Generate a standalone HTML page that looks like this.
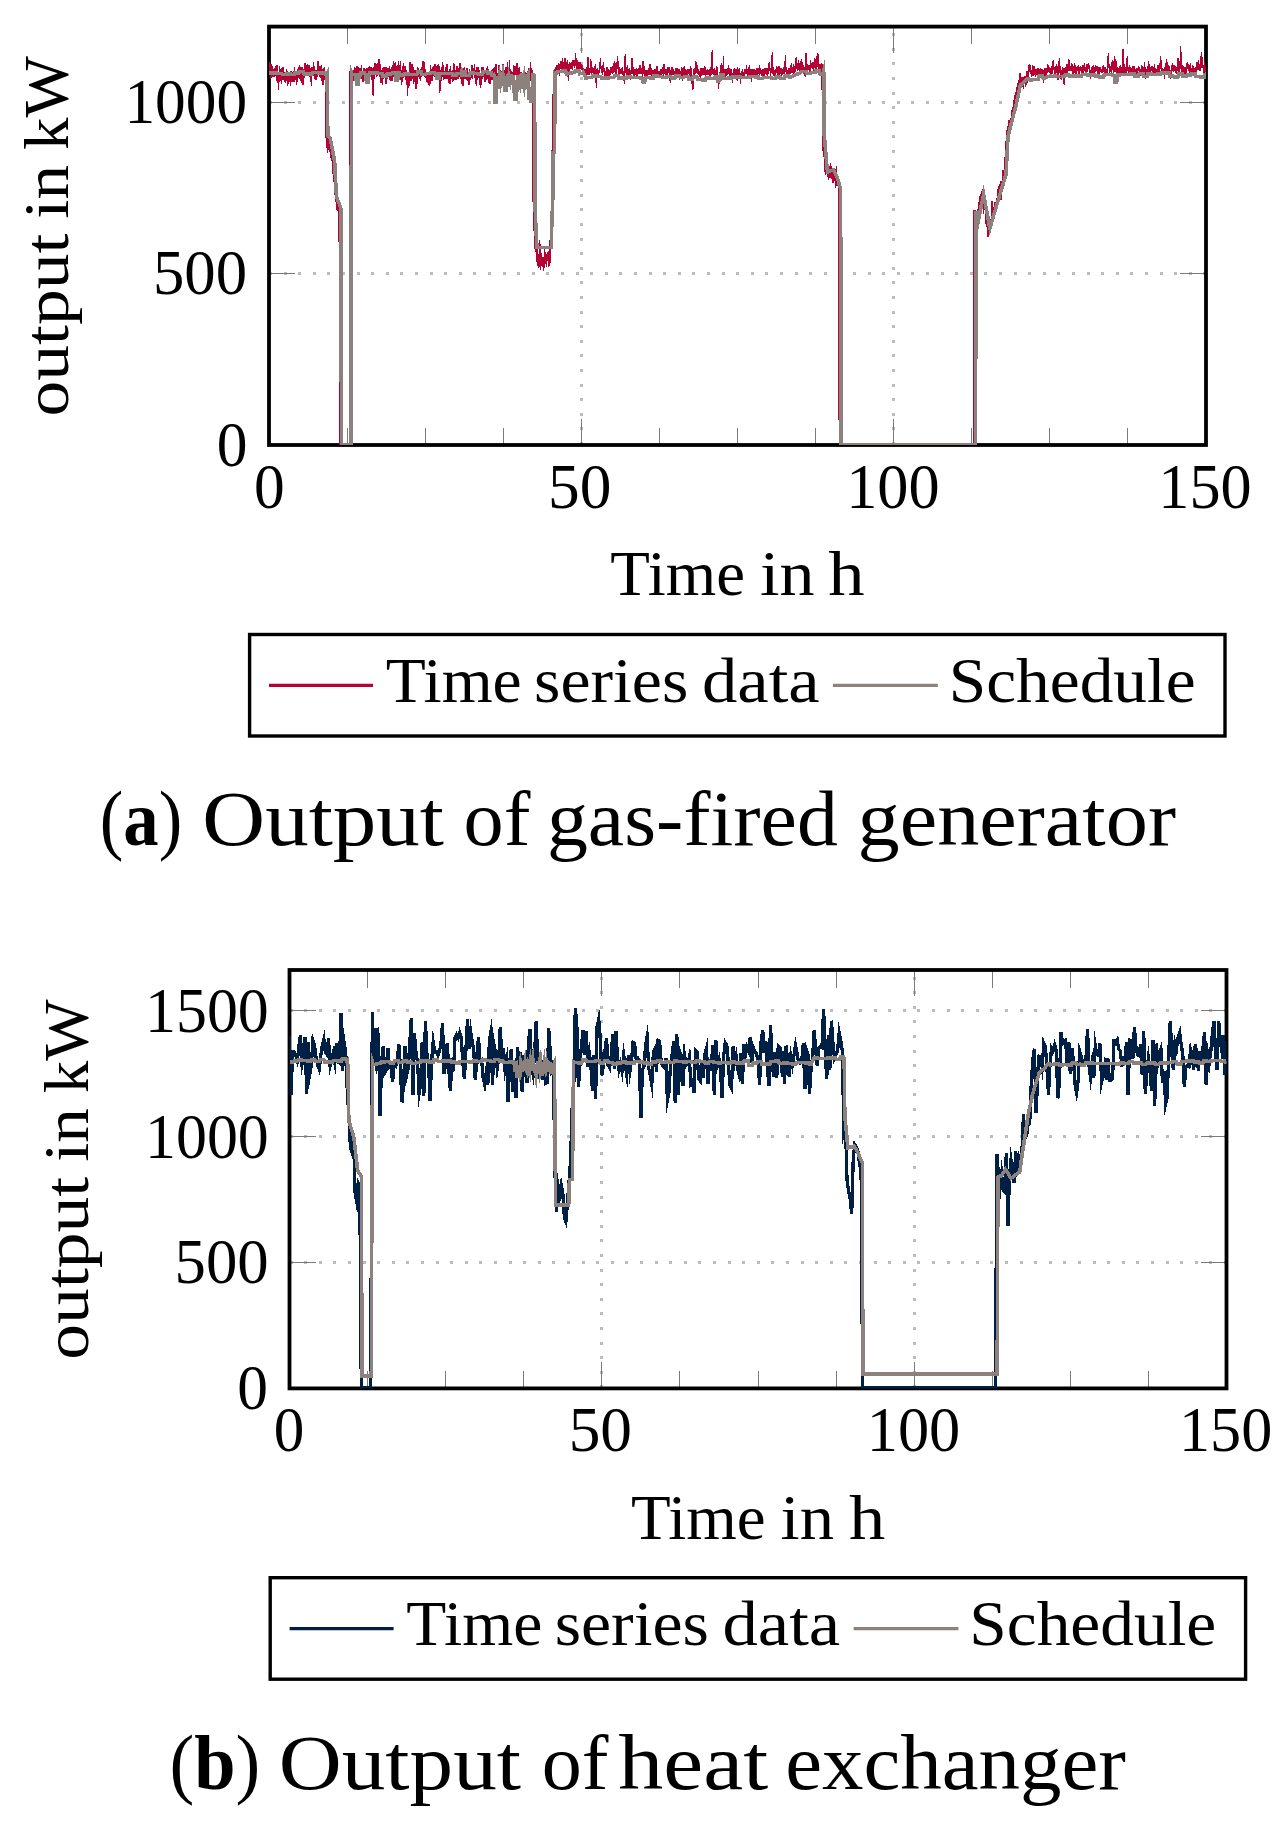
<!DOCTYPE html>
<html><head><meta charset="utf-8"><title>Output charts</title>
<style>html,body{margin:0;padding:0;background:#fff;}body{width:1288px;height:1833px;overflow:hidden;}</style>
</head><body>
<svg width="1288" height="1833" viewBox="0 0 1288 1833" style="display:block">
<rect width="1288" height="1833" fill="#fff"/>
<g stroke="#bcbcbc" stroke-width="3.2" shape-rendering="crispEdges"><line x1="269.0" y1="273.60" x2="1206.0" y2="273.60" stroke-dasharray="3 11.6"/><line x1="269.0" y1="102.10" x2="1206.0" y2="102.10" stroke-dasharray="3 11.6"/><line x1="581.33" y1="445.0" x2="581.33" y2="26.6" stroke-dasharray="3 11.6"/><line x1="893.67" y1="445.0" x2="893.67" y2="26.6" stroke-dasharray="3 11.6"/></g>
<path d="M269.50 445.0v-26.0M269.50 26.6v26.0M347.50 445.0v-17.5M347.50 26.6v17.5M425.50 445.0v-17.5M425.50 26.6v17.5M503.50 445.0v-17.5M503.50 26.6v17.5M581.50 445.0v-26.0M581.50 26.6v26.0M659.50 445.0v-17.5M659.50 26.6v17.5M737.50 445.0v-17.5M737.50 26.6v17.5M815.50 445.0v-17.5M815.50 26.6v17.5M893.50 445.0v-26.0M893.50 26.6v26.0M971.50 445.0v-17.5M971.50 26.6v17.5M1049.50 445.0v-17.5M1049.50 26.6v17.5M1127.50 445.0v-17.5M1127.50 26.6v17.5M1206.50 445.0v-26.0M1206.50 26.6v26.0M269.0 445.50h26.0M1206.0 445.50h-26.0M269.0 273.50h26.0M1206.0 273.50h-26.0M269.0 102.50h26.0M1206.0 102.50h-26.0" stroke="#7a7a7a" stroke-width="1" fill="none" shape-rendering="crispEdges"/>
<rect x="269.0" y="26.6" width="937.0" height="418.4" fill="none" stroke="#000" stroke-width="3.8"/>
<clipPath id="c1"><rect x="269.0" y="26.6" width="937.0" height="418.4"/></clipPath>
<g clip-path="url(#c1)" fill="none" stroke-linejoin="miter" stroke-miterlimit="10" shape-rendering="crispEdges">
<path d="M269.0 68.5 269.1 70.5 269.2 68.8 269.3 62.0 269.4 68.4 269.5 73.2 269.6 70.3 269.7 71.6 269.8 75.4 269.9 71.2 270.0 70.5 270.1 70.9 270.2 71.9 270.4 67.6 270.5 75.7 270.6 68.0 270.7 71.0 270.8 70.2 270.9 77.9 271.0 64.1 271.1 75.8 271.2 73.6 271.3 69.2 271.4 72.1 271.5 71.2 271.6 77.5 271.7 72.0 271.8 70.9 271.9 69.5 272.0 72.1 272.1 70.8 272.2 70.4 272.3 74.4 272.4 74.6 272.5 66.9 272.6 76.5 272.7 70.2 272.9 73.3 273.0 69.2 273.1 75.7 273.2 70.5 273.3 71.4 273.4 73.9 273.5 71.9 273.6 75.5 273.7 74.1 273.8 74.7 273.9 69.1 274.0 72.2 274.1 76.9 274.2 74.4 274.3 73.2 274.4 76.9 274.5 70.3 274.6 72.2 274.7 71.5 274.8 75.9 274.9 73.4 275.0 68.5 275.1 76.3 275.2 68.7 275.4 70.0 275.5 72.6 275.6 71.9 275.7 75.9 275.8 70.3 275.9 74.0 276.0 74.8 276.1 66.2 276.2 73.3 276.3 77.4 276.4 66.8 276.5 72.1 276.6 80.7 276.7 69.7 276.8 66.9 276.9 69.1 277.0 65.1 277.1 71.3 277.2 67.8 277.3 73.3 277.4 69.9 277.5 66.9 277.6 70.1 277.7 73.0 277.8 82.9 278.0 78.3 278.1 82.3 278.2 77.1 278.3 85.2 278.4 83.3 278.5 89.9 278.6 81.1 278.7 87.8 278.8 81.6 278.9 72.3 279.0 79.8 279.1 81.9 279.2 75.3 279.3 73.4 279.4 72.0 279.5 82.4 279.6 73.9 279.7 80.8 279.8 66.3 279.9 72.9 280.0 74.2 280.1 70.5 280.2 71.5 280.3 77.4 280.5 69.0 280.6 76.4 280.7 80.7 280.8 70.1 280.9 69.3 281.0 69.3 281.1 73.2 281.2 78.6 281.3 72.1 281.4 68.5 281.5 83.8 281.6 68.5 281.7 76.4 281.8 71.3 281.9 72.2 282.0 79.6 282.1 79.6 282.2 78.0 282.3 74.0 282.4 72.2 282.5 73.3 282.6 73.1 282.7 73.5 282.8 73.8 283.0 69.9 283.1 70.4 283.2 71.0 283.3 70.6 283.4 73.0 283.5 70.3 283.6 75.0 283.7 66.9 283.8 73.6 283.9 71.7 284.0 74.9 284.1 74.4 284.2 73.1 284.3 74.0 284.4 76.1 284.5 78.3 284.6 74.9 284.7 74.6 284.8 74.0 284.9 72.5 285.0 77.6 285.1 82.4 285.2 77.2 285.3 82.8 285.4 81.2 285.6 73.9 285.7 74.5 285.8 78.8 285.9 77.3 286.0 75.9 286.1 81.1 286.2 73.5 286.3 76.9 286.4 68.7 286.5 78.6 286.6 70.9 286.7 76.6 286.8 71.7 286.9 78.4 287.0 72.4 287.1 75.5 287.2 77.5 287.3 75.1 287.4 74.3 287.5 73.8 287.6 70.6 287.7 74.5 287.8 86.1 287.9 77.3 288.1 83.8 288.2 79.0 288.3 75.9 288.4 83.2 288.5 82.0 288.6 77.8 288.7 79.6 288.8 72.3 288.9 77.0 289.0 75.6 289.1 71.9 289.2 80.3 289.3 79.8 289.4 81.2 289.5 76.9 289.6 73.7 289.7 72.3 289.8 76.7 289.9 78.8 290.0 77.1 290.1 80.0 290.2 76.0 290.3 72.4 290.4 86.1 290.6 84.4 290.7 71.2 290.8 82.2 290.9 76.5 291.0 81.9 291.1 73.4 291.2 75.6 291.3 76.9 291.4 75.3 291.5 76.7 291.6 75.6 291.7 71.3 291.8 74.7 291.9 81.2 292.0 80.2 292.1 77.2 292.2 77.3 292.3 76.8 292.4 80.5 292.5 76.1 292.6 77.9 292.7 76.6 292.8 77.5 292.9 76.1 293.0 82.0 293.2 72.2 293.3 75.1 293.4 72.9 293.5 72.4 293.6 71.3 293.7 72.4 293.8 74.5 293.9 76.4 294.0 81.3 294.1 75.6 294.2 76.7 294.3 76.6 294.4 66.9 294.5 81.5 294.6 75.5 294.7 72.1 294.8 73.0 294.9 72.3 295.0 80.4 295.1 79.2 295.2 74.7 295.3 77.5 295.4 71.6 295.5 76.9 295.7 76.9 295.8 77.6 295.9 79.5 296.0 77.7 296.1 80.2 296.2 78.1 296.3 79.6 296.4 77.5 296.5 83.2 296.6 83.5 296.7 76.4 296.8 77.9 296.9 81.4 297.0 78.4 297.1 81.1 297.2 70.5 297.3 82.1 297.4 72.1 297.5 80.0 297.6 75.3 297.7 77.1 297.8 77.0 297.9 72.9 298.0 73.3 298.2 76.3 298.3 77.9 298.4 67.4 298.5 70.9 298.6 74.6 298.7 74.9 298.8 72.0 298.9 72.5 299.0 70.0 299.1 76.5 299.2 73.3 299.3 78.1 299.4 70.5 299.5 69.9 299.6 77.3 299.7 75.4 299.8 71.1 299.9 77.1 300.0 78.8 300.1 70.4 300.2 70.8 300.3 73.3 300.4 67.8 300.5 73.1 300.6 80.5 300.8 72.8 300.9 73.8 301.0 67.0 301.1 72.6 301.2 73.9 301.3 71.8 301.4 71.8 301.5 77.0 301.6 71.8 301.7 74.0 301.8 69.3 301.9 66.6 302.0 80.5 302.1 82.3 302.2 82.2 302.3 82.5 302.4 81.5 302.5 79.5 302.6 75.2 302.7 82.9 302.8 83.5 302.9 85.3 303.0 74.3 303.1 71.6 303.3 80.9 303.4 81.6 303.5 75.3 303.6 71.2 303.7 73.7 303.8 76.3 303.9 73.9 304.0 74.3 304.1 75.8 304.2 66.3 304.3 72.6 304.4 76.1 304.5 73.3 304.6 77.5 304.7 72.2 304.8 67.8 304.9 74.3 305.0 66.4 305.1 63.3 305.2 69.2 305.3 73.5 305.4 72.7 305.5 69.9 305.6 74.2 305.8 74.4 305.9 71.4 306.0 70.6 306.1 67.2 306.2 74.9 306.3 65.3 306.4 67.8 306.5 69.1 306.6 75.7 306.7 66.6 306.8 73.3 306.9 65.6 307.0 68.6 307.1 74.5 307.2 73.3 307.3 64.4 307.4 68.3 307.5 73.1 307.6 71.7 307.7 72.3 307.8 75.1 307.9 72.9 308.0 75.3 308.1 74.5 308.2 71.7 308.4 75.8 308.5 70.6 308.6 73.0 308.7 69.7 308.8 67.4 308.9 64.7 309.0 67.0 309.1 66.8 309.2 68.7 309.3 66.6 309.4 72.7 309.5 70.6 309.6 67.0 309.7 70.7 309.8 70.5 309.9 76.9 310.0 68.0 310.1 75.3 310.2 72.1 310.3 73.3 310.4 70.1 310.5 75.5 310.6 77.8 310.7 82.3 310.9 77.7 311.0 82.2 311.1 75.8 311.2 73.3 311.3 85.9 311.4 82.3 311.5 76.3 311.6 71.8 311.7 75.7 311.8 75.8 311.9 74.7 312.0 71.5 312.1 67.0 312.2 70.6 312.3 76.4 312.4 72.1 312.5 70.1 312.6 74.0 312.7 71.2 312.8 71.9 312.9 72.1 313.0 67.9 313.1 70.2 313.2 71.4 313.4 70.0 313.5 67.1 313.6 62.1 313.7 68.1 313.8 64.3 313.9 67.6 314.0 76.4 314.1 68.2 314.2 74.1 314.3 75.6 314.4 75.4 314.5 65.9 314.6 78.1 314.7 75.1 314.8 70.9 314.9 71.4 315.0 79.3 315.1 72.8 315.2 72.6 315.3 71.6 315.4 70.0 315.5 75.3 315.6 75.5 315.7 69.6 315.9 80.4 316.0 76.5 316.1 72.6 316.2 79.2 316.3 76.1 316.4 77.8 316.5 72.4 316.6 74.4 316.7 70.3 316.8 70.2 316.9 75.3 317.0 76.9 317.1 73.3 317.2 72.6 317.3 76.3 317.4 68.3 317.5 71.3 317.6 67.6 317.7 74.6 317.8 66.5 317.9 61.5 318.0 65.5 318.1 71.9 318.2 65.8 318.3 67.0 318.5 66.3 318.6 65.8 318.7 63.4 318.8 68.1 318.9 66.4 319.0 70.2 319.1 69.6 319.2 67.3 319.3 72.3 319.4 68.7 319.5 74.6 319.6 71.6 319.7 71.9 319.8 66.8 319.9 74.3 320.0 66.3 320.1 77.4 320.2 73.5 320.3 70.2 320.4 70.4 320.5 75.8 320.6 75.4 320.7 69.5 320.8 76.3 321.0 70.3 321.1 74.7 321.2 72.5 321.3 65.2 321.4 69.6 321.5 72.2 321.6 81.0 321.7 75.5 321.8 75.9 321.9 75.9 322.0 69.4 322.1 80.1 322.2 74.3 322.3 75.4 322.4 79.1 322.5 71.3 322.6 81.0 322.7 76.8 322.8 78.1 322.9 85.0 323.0 82.2 323.1 80.0 323.2 73.6 323.3 72.3 323.5 73.3 323.6 73.3 323.7 81.3 323.8 72.6 323.9 74.7 324.0 70.1 324.1 69.6 324.2 66.6 324.3 71.6 324.4 72.3 324.5 77.2 324.6 73.2 324.7 78.8 324.8 72.7 324.9 80.0 325.0 76.5 325.1 79.1 325.2 77.5 325.3 74.7 325.4 84.6 325.5 91.0 325.6 103.9 325.7 103.3 325.8 116.9 325.9 120.7 326.1 126.0 326.2 146.1 326.3 140.4 326.4 138.6 326.5 134.2 326.6 139.9 326.7 137.7 326.8 142.3 326.9 138.1 327.0 145.9 327.1 139.7 327.2 153.1 327.3 148.9 327.4 135.8 327.5 142.8 327.6 146.6 327.7 134.8 327.8 138.1 327.9 137.6 328.0 143.6 328.1 139.2 328.2 139.9 328.3 148.3 328.4 140.9 328.6 142.5 328.7 137.5 328.8 136.8 328.9 144.4 329.0 143.9 329.1 142.0 329.2 141.0 329.3 143.0 329.4 141.9 329.5 140.4 329.6 141.8 329.7 139.5 329.8 142.3 329.9 147.3 330.0 152.4 330.1 144.2 330.2 148.7 330.3 149.2 330.4 148.4 330.5 153.2 330.6 149.0 330.7 158.3 330.8 150.4 330.9 151.0 331.1 141.5 331.2 146.9 331.3 149.9 331.4 147.8 331.5 147.5 331.6 153.5 331.7 152.1 331.8 152.6 331.9 143.8 332.0 152.8 332.1 160.9 332.2 151.9 332.3 146.4 332.4 160.5 332.5 145.6 332.6 157.9 332.7 155.7 332.8 162.0 332.9 162.1 333.0 168.5 333.1 169.7 333.2 176.4 333.3 165.8 333.4 174.0 333.5 169.0 333.7 171.6 333.8 176.6 333.9 176.3 334.0 178.9 334.1 181.2 334.2 182.7 334.3 184.0 334.4 190.1 334.5 192.1 334.6 192.6 334.7 192.0 334.8 188.2 334.9 187.8 335.0 192.4 335.1 190.2 335.2 194.1 335.3 192.9 335.4 179.1 335.5 194.9 335.6 197.6 335.7 196.9 335.8 189.8 335.9 201.6 336.0 198.4 336.2 201.0 336.3 194.9 336.4 193.4 336.5 200.3 336.6 210.0 336.7 199.3 336.8 198.5 336.9 207.1 337.0 203.4 337.1 203.4 337.2 210.8 337.3 199.5 337.4 201.1 337.5 201.8 337.6 206.2 337.7 205.9 337.8 205.6 337.9 206.5 338.0 208.1 338.1 200.1 338.2 204.2 338.3 213.6 338.4 200.6 338.5 206.7 338.7 208.5 338.8 206.3 338.9 212.7 339.0 204.9 339.1 214.3 339.2 260.0 339.3 318.3 339.4 383.9 339.5 445.0 339.6 445.0 339.7 445.0 339.8 445.0 339.9 445.0 340.0 445.0 340.1 445.0 340.2 445.0 340.3 445.0 340.4 445.0 340.5 445.0 340.6 445.0 340.7 445.0 340.8 445.0 340.9 445.0 341.0 445.0 341.1 445.0 341.3 445.0 341.4 445.0 341.5 445.0 341.6 445.0 341.7 445.0 341.8 445.0 341.9 445.0 342.0 445.0 342.1 445.0 342.2 445.0 342.3 445.0 342.4 445.0 342.5 445.0 342.6 445.0 342.7 445.0 342.8 445.0 342.9 445.0 343.0 445.0 343.1 445.0 343.2 445.0 343.3 445.0 343.4 445.0 343.5 445.0 343.6 445.0 343.8 445.0 343.9 445.0 344.0 445.0 344.1 445.0 344.2 445.0 344.3 445.0 344.4 445.0 344.5 445.0 344.6 445.0 344.7 445.0 344.8 445.0 344.9 445.0 345.0 445.0 345.1 445.0 345.2 445.0 345.3 445.0 345.4 445.0 345.5 445.0 345.6 445.0 345.7 445.0 345.8 445.0 345.9 445.0 346.0 445.0 346.1 445.0 346.3 445.0 346.4 445.0 346.5 445.0 346.6 445.0 346.7 445.0 346.8 445.0 346.9 445.0 347.0 445.0 347.1 445.0 347.2 445.0 347.3 445.0 347.4 445.0 347.5 445.0 347.6 445.0 347.7 445.0 347.8 445.0 347.9 445.0 348.0 445.0 348.1 445.0 348.2 445.0 348.3 445.0 348.4 445.0 348.5 445.0 348.6 445.0 348.7 445.0 348.9 445.0 349.0 445.0 349.1 445.0 349.2 445.0 349.3 384.0 349.4 279.6 349.5 175.7 349.6 71.5 349.7 73.0 349.8 75.2 349.9 71.2 350.0 73.5 350.1 73.8 350.2 69.5 350.3 71.9 350.4 79.3 350.5 79.0 350.6 77.2 350.7 79.3 350.8 82.8 350.9 71.3 351.0 70.3 351.1 73.2 351.2 74.7 351.4 71.5 351.5 70.6 351.6 77.4 351.7 74.9 351.8 77.0 351.9 71.2 352.0 74.7 352.1 81.0 352.2 78.6 352.3 70.1 352.4 79.4 352.5 75.0 352.6 77.8 352.7 70.0 352.8 76.4 352.9 77.5 353.0 80.5 353.1 76.9 353.2 72.6 353.3 73.8 353.4 81.2 353.5 70.1 353.6 76.0 353.7 79.3 353.9 73.2 354.0 73.9 354.1 75.0 354.2 74.9 354.3 77.0 354.4 71.8 354.5 76.1 354.6 68.6 354.7 72.9 354.8 67.1 354.9 70.0 355.0 69.1 355.1 71.1 355.2 67.6 355.3 74.4 355.4 76.8 355.5 72.8 355.6 83.7 355.7 74.4 355.8 72.0 355.9 73.9 356.0 67.7 356.1 69.6 356.2 71.9 356.3 74.0 356.5 68.1 356.6 75.3 356.7 73.3 356.8 69.2 356.9 70.4 357.0 65.8 357.1 74.3 357.2 80.0 357.3 71.6 357.4 68.4 357.5 74.1 357.6 69.9 357.7 69.6 357.8 79.8 357.9 78.9 358.0 80.4 358.1 73.3 358.2 73.7 358.3 74.5 358.4 66.6 358.5 77.2 358.6 79.5 358.7 79.1 358.8 76.1 359.0 75.9 359.1 71.0 359.2 68.7 359.3 67.7 359.4 70.7 359.5 74.0 359.6 71.7 359.7 70.5 359.8 73.7 359.9 72.4 360.0 71.7 360.1 73.3 360.2 71.6 360.3 75.8 360.4 67.9 360.5 76.3 360.6 69.7 360.7 77.0 360.8 68.2 360.9 71.3 361.0 76.7 361.1 75.3 361.2 78.5 361.3 74.9 361.5 73.1 361.6 65.0 361.7 79.3 361.8 70.2 361.9 78.1 362.0 75.8 362.1 72.1 362.2 75.0 362.3 75.4 362.4 77.2 362.5 76.6 362.6 76.5 362.7 72.6 362.8 81.8 362.9 78.1 363.0 82.2 363.1 81.0 363.2 80.8 363.3 74.3 363.4 70.1 363.5 72.0 363.6 80.0 363.7 75.8 363.8 79.0 363.9 72.3 364.1 68.4 364.2 69.6 364.3 68.8 364.4 72.6 364.5 78.4 364.6 79.7 364.7 72.9 364.8 71.0 364.9 68.9 365.0 76.0 365.1 75.2 365.2 74.4 365.3 70.7 365.4 73.7 365.5 77.4 365.6 69.8 365.7 72.8 365.8 72.5 365.9 78.5 366.0 73.5 366.1 78.0 366.2 79.1 366.3 74.2 366.4 75.6 366.6 73.2 366.7 71.0 366.8 74.9 366.9 68.2 367.0 77.7 367.1 72.3 367.2 78.2 367.3 73.6 367.4 75.6 367.5 75.4 367.6 72.3 367.7 80.4 367.8 72.3 367.9 74.5 368.0 70.3 368.1 68.3 368.2 70.7 368.3 72.2 368.4 75.2 368.5 69.1 368.6 73.8 368.7 69.2 368.8 76.3 368.9 67.3 369.1 74.6 369.2 66.5 369.3 72.1 369.4 68.0 369.5 69.7 369.6 66.7 369.7 71.5 369.8 67.7 369.9 70.2 370.0 71.0 370.1 67.4 370.2 74.7 370.3 68.1 370.4 73.4 370.5 77.1 370.6 70.7 370.7 74.2 370.8 67.3 370.9 74.6 371.0 73.3 371.1 71.9 371.2 79.9 371.3 72.2 371.4 77.2 371.5 68.1 371.7 67.7 371.8 73.3 371.9 78.9 372.0 70.3 372.1 71.0 372.2 68.0 372.3 71.8 372.4 75.2 372.5 71.0 372.6 75.9 372.7 68.2 372.8 79.6 372.9 82.9 373.0 84.1 373.1 90.7 373.2 90.3 373.3 90.9 373.4 89.4 373.5 85.2 373.6 76.3 373.7 76.7 373.8 81.8 373.9 77.2 374.0 71.8 374.2 72.7 374.3 71.1 374.4 70.5 374.5 68.2 374.6 69.4 374.7 68.7 374.8 71.7 374.9 67.8 375.0 72.5 375.1 63.3 375.2 70.1 375.3 71.1 375.4 66.3 375.5 71.1 375.6 70.4 375.7 71.8 375.8 74.1 375.9 74.2 376.0 73.6 376.1 66.6 376.2 74.3 376.3 72.7 376.4 73.4 376.5 69.0 376.7 64.4 376.8 76.9 376.9 72.3 377.0 73.6 377.1 73.7 377.2 70.6 377.3 76.3 377.4 69.8 377.5 70.4 377.6 72.8 377.7 63.5 377.8 66.1 377.9 66.1 378.0 74.3 378.1 68.2 378.2 69.1 378.3 64.6 378.4 60.8 378.5 72.3 378.6 63.6 378.7 64.3 378.8 59.7 378.9 61.9 379.0 64.2 379.1 58.9 379.3 63.1 379.4 64.5 379.5 64.3 379.6 67.6 379.7 66.7 379.8 75.2 379.9 63.9 380.0 69.0 380.1 71.9 380.2 79.6 380.3 83.3 380.4 77.9 380.5 75.4 380.6 65.2 380.7 69.9 380.8 77.1 380.9 70.4 381.0 70.7 381.1 75.4 381.2 70.0 381.3 73.3 381.4 77.6 381.5 80.4 381.6 76.2 381.8 71.9 381.9 81.1 382.0 82.7 382.1 74.4 382.2 85.1 382.3 69.6 382.4 76.8 382.5 72.1 382.6 69.5 382.7 81.2 382.8 79.3 382.9 68.1 383.0 78.5 383.1 77.9 383.2 75.8 383.3 71.3 383.4 72.1 383.5 73.9 383.6 76.4 383.7 74.4 383.8 72.0 383.9 67.7 384.0 71.7 384.1 66.9 384.3 75.7 384.4 71.5 384.5 69.3 384.6 68.4 384.7 71.2 384.8 73.9 384.9 74.3 385.0 71.1 385.1 68.3 385.2 69.2 385.3 73.8 385.4 72.6 385.5 69.2 385.6 70.7 385.7 80.7 385.8 77.6 385.9 83.6 386.0 80.5 386.1 66.7 386.2 77.8 386.3 77.5 386.4 77.8 386.5 78.4 386.6 80.9 386.7 74.2 386.9 73.7 387.0 68.0 387.1 78.6 387.2 72.5 387.3 69.1 387.4 79.3 387.5 75.5 387.6 78.5 387.7 71.8 387.8 69.4 387.9 75.6 388.0 73.2 388.1 74.5 388.2 70.7 388.3 68.5 388.4 72.5 388.5 72.8 388.6 70.3 388.7 68.6 388.8 77.1 388.9 70.8 389.0 74.0 389.1 70.3 389.2 69.9 389.4 72.8 389.5 70.5 389.6 78.5 389.7 77.2 389.8 79.0 389.9 74.8 390.0 75.7 390.1 77.3 390.2 81.4 390.3 76.5 390.4 76.1 390.5 71.7 390.6 75.0 390.7 68.7 390.8 73.2 390.9 79.2 391.0 73.9 391.1 80.7 391.2 69.8 391.3 66.9 391.4 72.9 391.5 71.2 391.6 78.0 391.7 80.8 391.9 76.1 392.0 75.6 392.1 79.5 392.2 73.6 392.3 71.7 392.4 70.5 392.5 65.4 392.6 68.7 392.7 80.6 392.8 72.8 392.9 72.2 393.0 76.7 393.1 69.2 393.2 70.2 393.3 74.2 393.4 76.5 393.5 61.2 393.6 71.9 393.7 71.9 393.8 68.1 393.9 70.3 394.0 73.5 394.1 72.4 394.2 77.8 394.3 72.0 394.5 79.0 394.6 69.4 394.7 67.9 394.8 75.2 394.9 62.8 395.0 74.1 395.1 66.8 395.2 72.8 395.3 69.7 395.4 73.8 395.5 62.5 395.6 68.3 395.7 66.1 395.8 71.1 395.9 70.3 396.0 72.1 396.1 72.4 396.2 68.8 396.3 69.3 396.4 70.8 396.5 74.7 396.6 68.8 396.7 67.0 396.8 70.0 397.0 66.0 397.1 67.8 397.2 70.6 397.3 69.5 397.4 69.9 397.5 68.4 397.6 69.4 397.7 65.4 397.8 73.9 397.9 77.6 398.0 68.1 398.1 71.9 398.2 72.1 398.3 61.1 398.4 64.6 398.5 67.8 398.6 67.6 398.7 71.3 398.8 68.6 398.9 74.5 399.0 77.0 399.1 76.1 399.2 66.1 399.3 67.6 399.5 74.0 399.6 67.2 399.7 71.7 399.8 65.4 399.9 70.6 400.0 65.1 400.1 67.3 400.2 67.8 400.3 66.9 400.4 65.9 400.5 68.5 400.6 70.6 400.7 61.4 400.8 68.7 400.9 75.5 401.0 77.2 401.1 79.8 401.2 75.0 401.3 69.8 401.4 82.5 401.5 79.4 401.6 84.5 401.7 76.3 401.8 81.0 401.9 81.0 402.1 78.5 402.2 74.8 402.3 75.6 402.4 80.9 402.5 82.4 402.6 79.1 402.7 79.6 402.8 66.0 402.9 71.9 403.0 71.0 403.1 71.4 403.2 63.3 403.3 72.6 403.4 67.6 403.5 71.2 403.6 72.2 403.7 78.0 403.8 68.2 403.9 74.8 404.0 73.8 404.1 72.9 404.2 74.5 404.3 70.0 404.4 76.7 404.6 73.4 404.7 71.9 404.8 72.2 404.9 69.9 405.0 71.4 405.1 65.8 405.2 73.1 405.3 79.6 405.4 70.1 405.5 66.7 405.6 72.8 405.7 73.5 405.8 74.3 405.9 72.7 406.0 74.1 406.1 72.8 406.2 81.3 406.3 70.1 406.4 73.2 406.5 78.1 406.6 71.1 406.7 73.6 406.8 73.2 406.9 84.7 407.1 75.6 407.2 84.0 407.3 94.0 407.4 85.2 407.5 91.4 407.6 96.3 407.7 91.0 407.8 93.8 407.9 84.6 408.0 86.5 408.1 85.9 408.2 79.1 408.3 83.0 408.4 84.4 408.5 85.6 408.6 83.6 408.7 80.0 408.8 84.4 408.9 85.6 409.0 77.6 409.1 76.9 409.2 74.7 409.3 65.7 409.4 75.2 409.6 68.8 409.7 74.0 409.8 66.6 409.9 62.8 410.0 62.2 410.1 70.9 410.2 65.1 410.3 66.3 410.4 71.7 410.5 64.4 410.6 74.7 410.7 77.1 410.8 72.8 410.9 81.2 411.0 69.5 411.1 71.6 411.2 75.8 411.3 72.0 411.4 70.4 411.5 64.5 411.6 71.5 411.7 72.9 411.8 74.3 411.9 68.7 412.0 72.5 412.2 66.8 412.3 64.2 412.4 69.9 412.5 71.7 412.6 65.3 412.7 71.4 412.8 70.9 412.9 69.4 413.0 77.8 413.1 78.3 413.2 66.9 413.3 75.9 413.4 78.7 413.5 76.2 413.6 77.6 413.7 80.5 413.8 77.5 413.9 74.9 414.0 75.7 414.1 72.3 414.2 79.5 414.3 79.0 414.4 70.3 414.5 75.9 414.7 71.4 414.8 75.6 414.9 81.7 415.0 74.9 415.1 80.6 415.2 75.8 415.3 73.9 415.4 70.1 415.5 78.7 415.6 76.2 415.7 77.6 415.8 76.5 415.9 89.1 416.0 81.8 416.1 79.0 416.2 77.4 416.3 80.9 416.4 75.8 416.5 75.2 416.6 79.2 416.7 79.5 416.8 81.3 416.9 78.1 417.0 74.5 417.2 73.6 417.3 79.9 417.4 80.4 417.5 79.3 417.6 72.0 417.7 74.4 417.8 72.9 417.9 71.2 418.0 71.7 418.1 72.2 418.2 75.4 418.3 73.9 418.4 72.2 418.5 71.5 418.6 73.6 418.7 74.9 418.8 68.1 418.9 74.3 419.0 71.6 419.1 75.5 419.2 77.4 419.3 79.1 419.4 76.2 419.5 77.1 419.6 73.2 419.8 79.4 419.9 77.3 420.0 72.6 420.1 76.8 420.2 73.8 420.3 72.7 420.4 80.6 420.5 76.9 420.6 79.2 420.7 69.0 420.8 74.9 420.9 73.2 421.0 69.1 421.1 77.1 421.2 74.4 421.3 71.7 421.4 74.6 421.5 70.7 421.6 71.2 421.7 69.5 421.8 72.2 421.9 71.7 422.0 71.6 422.1 70.9 422.3 75.6 422.4 68.8 422.5 65.3 422.6 67.8 422.7 66.5 422.8 65.6 422.9 66.5 423.0 66.4 423.1 60.8 423.2 70.8 423.3 68.7 423.4 68.3 423.5 70.3 423.6 70.9 423.7 73.4 423.8 70.1 423.9 64.5 424.0 61.9 424.1 68.6 424.2 64.3 424.3 62.8 424.4 62.1 424.5 64.8 424.6 64.7 424.8 65.6 424.9 73.5 425.0 69.6 425.1 76.7 425.2 77.7 425.3 74.3 425.4 77.7 425.5 69.9 425.6 69.2 425.7 75.6 425.8 74.1 425.9 75.0 426.0 75.3 426.1 75.0 426.2 75.3 426.3 78.9 426.4 80.0 426.5 78.5 426.6 75.7 426.7 78.9 426.8 73.2 426.9 79.6 427.0 73.1 427.1 81.8 427.2 81.1 427.4 76.1 427.5 77.5 427.6 80.3 427.7 73.2 427.8 79.6 427.9 80.1 428.0 83.1 428.1 76.9 428.2 77.7 428.3 78.8 428.4 85.2 428.5 75.6 428.6 78.8 428.7 76.3 428.8 73.2 428.9 79.3 429.0 78.4 429.1 77.1 429.2 82.3 429.3 84.6 429.4 84.7 429.5 82.5 429.6 83.8 429.7 74.4 429.9 76.0 430.0 80.0 430.1 73.1 430.2 77.1 430.3 83.6 430.4 67.7 430.5 67.3 430.6 75.3 430.7 73.0 430.8 68.5 430.9 71.3 431.0 74.0 431.1 74.6 431.2 75.2 431.3 76.4 431.4 75.1 431.5 77.0 431.6 78.4 431.7 74.7 431.8 79.0 431.9 68.6 432.0 80.5 432.1 73.8 432.2 72.1 432.4 70.9 432.5 71.5 432.6 67.1 432.7 74.7 432.8 70.6 432.9 69.7 433.0 71.7 433.1 72.1 433.2 65.6 433.3 71.9 433.4 71.8 433.5 69.8 433.6 70.0 433.7 68.1 433.8 69.8 433.9 68.3 434.0 67.6 434.1 67.0 434.2 65.4 434.3 73.8 434.4 65.7 434.5 71.2 434.6 67.4 434.7 68.6 434.8 71.3 435.0 76.9 435.1 64.3 435.2 71.1 435.3 72.1 435.4 65.5 435.5 68.9 435.6 63.8 435.7 64.8 435.8 68.5 435.9 72.2 436.0 70.0 436.1 76.7 436.2 72.0 436.3 73.3 436.4 74.1 436.5 71.5 436.6 76.6 436.7 67.4 436.8 66.7 436.9 75.0 437.0 70.5 437.1 65.9 437.2 70.0 437.3 75.0 437.5 74.1 437.6 67.9 437.7 64.8 437.8 75.2 437.9 71.2 438.0 74.8 438.1 73.7 438.2 71.4 438.3 72.7 438.4 74.6 438.5 65.2 438.6 70.8 438.7 69.5 438.8 64.4 438.9 68.0 439.0 67.4 439.1 65.8 439.2 75.2 439.3 71.5 439.4 72.8 439.5 75.5 439.6 82.0 439.7 83.2 439.8 93.1 440.0 86.5 440.1 85.3 440.2 81.1 440.3 83.2 440.4 84.4 440.5 82.5 440.6 76.1 440.7 73.8 440.8 69.7 440.9 74.2 441.0 75.0 441.1 72.9 441.2 73.6 441.3 73.4 441.4 80.5 441.5 79.1 441.6 77.2 441.7 70.3 441.8 73.0 441.9 71.3 442.0 67.2 442.1 73.3 442.2 65.7 442.3 67.3 442.4 70.9 442.6 61.8 442.7 72.5 442.8 72.5 442.9 70.0 443.0 69.0 443.1 73.3 443.2 80.2 443.3 74.6 443.4 74.9 443.5 65.1 443.6 68.0 443.7 73.2 443.8 78.0 443.9 71.8 444.0 75.7 444.1 71.8 444.2 72.3 444.3 75.5 444.4 73.6 444.5 76.9 444.6 77.5 444.7 71.3 444.8 75.4 444.9 77.4 445.1 79.3 445.2 76.0 445.3 73.9 445.4 72.1 445.5 70.2 445.6 73.5 445.7 79.4 445.8 67.2 445.9 69.5 446.0 71.6 446.1 69.8 446.2 78.7 446.3 74.5 446.4 73.5 446.5 66.6 446.6 75.3 446.7 72.6 446.8 67.6 446.9 70.4 447.0 73.8 447.1 63.9 447.2 74.9 447.3 70.9 447.4 73.8 447.6 71.2 447.7 75.0 447.8 77.6 447.9 74.3 448.0 79.1 448.1 72.9 448.2 76.4 448.3 71.5 448.4 76.5 448.5 77.6 448.6 75.0 448.7 72.7 448.8 83.1 448.9 76.9 449.0 75.0 449.1 81.1 449.2 79.4 449.3 73.8 449.4 79.6 449.5 77.6 449.6 68.6 449.7 77.4 449.8 78.5 449.9 84.2 450.0 79.1 450.2 78.0 450.3 67.7 450.4 68.4 450.5 77.3 450.6 66.6 450.7 70.7 450.8 73.5 450.9 71.5 451.0 72.1 451.1 74.9 451.2 79.3 451.3 77.6 451.4 74.2 451.5 75.9 451.6 79.1 451.7 72.4 451.8 79.1 451.9 72.7 452.0 75.4 452.1 73.3 452.2 78.1 452.3 74.2 452.4 77.7 452.5 81.5 452.7 75.2 452.8 75.7 452.9 72.9 453.0 73.2 453.1 76.9 453.2 74.8 453.3 80.8 453.4 75.8 453.5 66.5 453.6 66.0 453.7 67.1 453.8 69.7 453.9 69.1 454.0 70.4 454.1 78.0 454.2 74.3 454.3 65.8 454.4 66.2 454.5 69.1 454.6 71.0 454.7 71.5 454.8 73.5 454.9 75.1 455.0 80.2 455.2 73.4 455.3 75.6 455.4 75.7 455.5 70.2 455.6 75.4 455.7 77.9 455.8 74.6 455.9 80.2 456.0 70.9 456.1 73.8 456.2 76.3 456.3 72.7 456.4 68.1 456.5 75.5 456.6 77.5 456.7 66.0 456.8 72.9 456.9 66.2 457.0 74.2 457.1 70.3 457.2 74.9 457.3 68.9 457.4 72.8 457.5 76.1 457.6 68.7 457.8 72.9 457.9 79.3 458.0 73.5 458.1 75.9 458.2 76.5 458.3 73.1 458.4 72.9 458.5 70.5 458.6 73.0 458.7 77.1 458.8 72.7 458.9 68.1 459.0 76.7 459.1 69.0 459.2 70.9 459.3 72.5 459.4 68.8 459.5 72.1 459.6 71.3 459.7 73.2 459.8 67.3 459.9 63.2 460.0 69.6 460.1 63.0 460.3 75.5 460.4 71.7 460.5 74.2 460.6 64.8 460.7 73.1 460.8 69.4 460.9 78.6 461.0 70.8 461.1 71.8 461.2 73.8 461.3 84.2 461.4 73.3 461.5 69.0 461.6 67.9 461.7 71.0 461.8 78.4 461.9 73.2 462.0 68.9 462.1 75.5 462.2 73.6 462.3 77.7 462.4 78.5 462.5 77.8 462.6 83.7 462.8 72.9 462.9 84.9 463.0 83.2 463.1 85.7 463.2 81.3 463.3 79.8 463.4 83.3 463.5 81.4 463.6 73.0 463.7 72.1 463.8 80.6 463.9 77.8 464.0 71.3 464.1 69.9 464.2 67.4 464.3 72.5 464.4 68.2 464.5 70.4 464.6 71.6 464.7 70.8 464.8 68.0 464.9 71.2 465.0 70.4 465.1 76.4 465.2 74.6 465.4 78.9 465.5 75.5 465.6 74.7 465.7 75.2 465.8 71.8 465.9 73.4 466.0 73.1 466.1 75.6 466.2 72.2 466.3 75.5 466.4 73.6 466.5 75.3 466.6 75.0 466.7 77.4 466.8 79.6 466.9 79.7 467.0 68.2 467.1 74.9 467.2 75.7 467.3 79.0 467.4 79.1 467.5 68.1 467.6 81.4 467.7 78.1 467.9 77.7 468.0 80.0 468.1 80.9 468.2 79.0 468.3 78.3 468.4 77.8 468.5 74.1 468.6 81.3 468.7 76.5 468.8 73.3 468.9 74.2 469.0 78.3 469.1 84.8 469.2 70.5 469.3 70.9 469.4 75.8 469.5 69.9 469.6 76.0 469.7 75.0 469.8 77.5 469.9 74.7 470.0 77.1 470.1 77.3 470.2 72.3 470.4 75.0 470.5 79.9 470.6 72.2 470.7 71.3 470.8 76.4 470.9 76.7 471.0 73.8 471.1 72.9 471.2 70.9 471.3 68.4 471.4 73.7 471.5 65.1 471.6 68.2 471.7 75.4 471.8 66.0 471.9 65.3 472.0 73.5 472.1 75.9 472.2 79.0 472.3 71.2 472.4 75.0 472.5 79.0 472.6 73.0 472.7 70.6 472.8 73.8 473.0 69.1 473.1 71.5 473.2 72.0 473.3 73.4 473.4 72.0 473.5 70.1 473.6 70.4 473.7 70.5 473.8 72.1 473.9 69.1 474.0 67.6 474.1 72.0 474.2 75.3 474.3 63.8 474.4 68.9 474.5 71.6 474.6 69.8 474.7 72.4 474.8 77.4 474.9 72.5 475.0 77.7 475.1 73.6 475.2 75.4 475.3 69.8 475.5 73.8 475.6 72.9 475.7 75.7 475.8 77.9 475.9 82.9 476.0 75.9 476.1 81.1 476.2 85.9 476.3 81.8 476.4 82.9 476.5 83.6 476.6 78.6 476.7 74.2 476.8 77.0 476.9 79.7 477.0 75.9 477.1 67.5 477.2 76.6 477.3 70.3 477.4 75.5 477.5 71.5 477.6 73.8 477.7 77.8 477.8 75.3 478.0 67.0 478.1 75.0 478.2 72.4 478.3 75.9 478.4 75.5 478.5 73.2 478.6 72.5 478.7 67.5 478.8 73.9 478.9 73.7 479.0 75.8 479.1 77.4 479.2 79.1 479.3 70.4 479.4 79.3 479.5 69.8 479.6 73.1 479.7 78.7 479.8 82.4 479.9 79.2 480.0 80.2 480.1 77.9 480.2 88.4 480.3 85.8 480.4 85.0 480.6 84.2 480.7 83.2 480.8 85.4 480.9 84.3 481.0 80.0 481.1 77.3 481.2 73.4 481.3 69.2 481.4 71.8 481.5 75.1 481.6 69.8 481.7 75.7 481.8 77.2 481.9 67.3 482.0 79.0 482.1 76.2 482.2 75.0 482.3 68.8 482.4 76.4 482.5 72.3 482.6 74.9 482.7 78.0 482.8 73.2 482.9 72.2 483.1 75.9 483.2 74.6 483.3 74.8 483.4 66.9 483.5 68.5 483.6 69.0 483.7 68.6 483.8 73.3 483.9 71.3 484.0 74.7 484.1 77.0 484.2 75.1 484.3 73.0 484.4 74.7 484.5 71.6 484.6 82.1 484.7 76.2 484.8 73.0 484.9 75.2 485.0 70.4 485.1 73.3 485.2 76.7 485.3 72.0 485.4 80.9 485.6 72.7 485.7 76.6 485.8 77.8 485.9 77.1 486.0 76.4 486.1 76.2 486.2 71.2 486.3 79.5 486.4 69.3 486.5 71.9 486.6 68.5 486.7 75.6 486.8 79.6 486.9 75.0 487.0 73.3 487.1 72.0 487.2 74.8 487.3 73.5 487.4 72.3 487.5 78.5 487.6 66.3 487.7 76.3 487.8 71.9 487.9 69.2 488.0 76.0 488.2 73.3 488.3 68.7 488.4 75.8 488.5 72.3 488.6 76.8 488.7 76.9 488.8 76.8 488.9 80.1 489.0 83.0 489.1 75.7 489.2 78.2 489.3 77.8 489.4 84.3 489.5 81.1 489.6 76.3 489.7 77.5 489.8 79.7 489.9 83.7 490.0 84.4 490.1 80.5 490.2 76.2 490.3 79.4 490.4 74.2 490.5 79.1 490.7 74.0 490.8 80.4 490.9 75.1 491.0 79.5 491.1 74.1 491.2 73.8 491.3 76.8 491.4 76.3 491.5 75.0 491.6 78.3 491.7 78.6 491.8 78.2 491.9 73.1 492.0 69.7 492.1 76.1 492.2 76.2 492.3 74.6 492.4 76.9 492.5 76.4 492.6 72.6 492.7 75.7 492.8 76.8 492.9 77.6 493.0 68.8 493.2 75.4 493.3 72.7 493.4 75.7 493.5 73.4 493.6 69.8 493.7 70.8 493.8 68.0 493.9 69.7 494.0 74.8 494.1 77.9 494.2 66.7 494.3 73.0 494.4 67.9 494.5 73.6 494.6 78.0 494.7 73.3 494.8 76.1 494.9 76.4 495.0 78.9 495.1 72.7 495.2 71.0 495.3 75.1 495.4 65.6 495.5 74.9 495.6 71.2 495.8 77.4 495.9 78.2 496.0 63.8 496.1 66.9 496.2 68.5 496.3 79.1 496.4 73.2 496.5 72.6 496.6 75.0 496.7 75.0 496.8 78.6 496.9 76.0 497.0 78.9 497.1 77.7 497.2 75.8 497.3 80.0 497.4 78.0 497.5 78.9 497.6 76.3 497.7 73.1 497.8 75.3 497.9 74.6 498.0 80.2 498.1 76.4 498.3 70.9 498.4 75.9 498.5 73.9 498.6 75.3 498.7 66.5 498.8 71.4 498.9 71.3 499.0 66.9 499.1 65.0 499.2 67.6 499.3 65.4 499.4 68.8 499.5 72.3 499.6 72.7 499.7 73.4 499.8 74.9 499.9 71.9 500.0 74.3 500.1 71.9 500.2 69.8 500.3 73.5 500.4 77.6 500.5 76.1 500.6 75.6 500.8 79.4 500.9 74.5 501.0 78.8 501.1 79.4 501.2 79.0 501.3 74.1 501.4 77.6 501.5 71.5 501.6 76.8 501.7 76.9 501.8 73.8 501.9 71.6 502.0 73.0 502.1 77.1 502.2 74.2 502.3 76.4 502.4 73.8 502.5 72.1 502.6 67.9 502.7 69.7 502.8 70.5 502.9 70.0 503.0 73.0 503.1 64.1 503.2 69.7 503.4 67.0 503.5 75.0 503.6 75.2 503.7 72.8 503.8 74.7 503.9 74.6 504.0 78.6 504.1 71.4 504.2 75.1 504.3 72.5 504.4 76.7 504.5 81.1 504.6 72.8 504.7 70.5 504.8 80.0 504.9 78.8 505.0 77.1 505.1 76.2 505.2 81.2 505.3 70.0 505.4 71.7 505.5 76.6 505.6 81.2 505.7 72.7 505.9 67.4 506.0 71.6 506.1 70.4 506.2 78.2 506.3 74.6 506.4 80.6 506.5 67.3 506.6 70.9 506.7 80.4 506.8 78.2 506.9 70.4 507.0 71.4 507.1 72.4 507.2 69.1 507.3 62.5 507.4 68.3 507.5 77.1 507.6 70.5 507.7 75.1 507.8 73.9 507.9 72.8 508.0 73.7 508.1 76.1 508.2 72.0 508.4 74.1 508.5 68.2 508.6 71.2 508.7 68.0 508.8 70.7 508.9 67.2 509.0 69.0 509.1 68.0 509.2 70.8 509.3 67.7 509.4 74.1 509.5 60.2 509.6 72.0 509.7 70.3 509.8 74.2 509.9 75.7 510.0 71.6 510.1 76.5 510.2 76.5 510.3 79.2 510.4 77.2 510.5 79.1 510.6 69.1 510.7 79.7 510.9 78.1 511.0 74.3 511.1 71.1 511.2 80.8 511.3 79.4 511.4 73.3 511.5 73.2 511.6 78.9 511.7 80.1 511.8 76.6 511.9 71.9 512.0 74.5 512.1 72.0 512.2 75.8 512.3 75.4 512.4 73.1 512.5 75.9 512.6 74.3 512.7 79.4 512.8 78.3 512.9 74.2 513.0 76.3 513.1 77.1 513.2 73.3 513.3 74.9 513.5 76.4 513.6 78.5 513.7 71.0 513.8 65.0 513.9 77.2 514.0 79.0 514.1 77.2 514.2 79.0 514.3 77.8 514.4 77.4 514.5 69.9 514.6 69.5 514.7 66.0 514.8 68.5 514.9 71.9 515.0 67.7 515.1 74.9 515.2 72.9 515.3 74.7 515.4 66.3 515.5 67.1 515.6 72.3 515.7 72.6 515.8 70.4 516.0 69.5 516.1 67.2 516.2 69.8 516.3 68.1 516.4 74.5 516.5 70.2 516.6 76.6 516.7 64.2 516.8 64.0 516.9 67.1 517.0 66.2 517.1 62.7 517.2 65.9 517.3 74.4 517.4 71.4 517.5 78.6 517.6 74.6 517.7 77.0 517.8 72.5 517.9 71.5 518.0 75.5 518.1 70.8 518.2 68.5 518.3 69.7 518.5 70.9 518.6 79.4 518.7 73.8 518.8 70.2 518.9 73.1 519.0 79.7 519.1 75.8 519.2 74.8 519.3 80.2 519.4 75.6 519.5 80.0 519.6 78.2 519.7 76.5 519.8 67.5 519.9 76.5 520.0 76.8 520.1 73.6 520.2 75.7 520.3 72.4 520.4 81.1 520.5 73.5 520.6 74.3 520.7 80.3 520.8 71.8 520.9 76.5 521.1 72.4 521.2 80.5 521.3 80.7 521.4 78.0 521.5 80.9 521.6 74.4 521.7 73.8 521.8 78.4 521.9 82.5 522.0 76.6 522.1 79.4 522.2 73.4 522.3 74.4 522.4 76.9 522.5 77.2 522.6 75.9 522.7 74.4 522.8 82.3 522.9 80.0 523.0 83.2 523.1 87.5 523.2 78.4 523.3 80.1 523.4 79.5 523.6 79.3 523.7 78.7 523.8 80.3 523.9 70.0 524.0 73.3 524.1 77.2 524.2 76.2 524.3 74.7 524.4 80.3 524.5 78.8 524.6 82.5 524.7 77.9 524.8 80.8 524.9 71.6 525.0 79.5 525.1 75.7 525.2 75.4 525.3 78.2 525.4 74.8 525.5 78.7 525.6 80.1 525.7 78.6 525.8 80.7 525.9 73.3 526.1 75.0 526.2 73.4 526.3 82.2 526.4 78.3 526.5 82.1 526.6 79.7 526.7 75.8 526.8 79.2 526.9 81.5 527.0 77.6 527.1 77.7 527.2 74.3 527.3 87.2 527.4 79.0 527.5 81.4 527.6 83.5 527.7 79.7 527.8 82.2 527.9 86.3 528.0 80.5 528.1 77.0 528.2 68.4 528.3 78.0 528.4 77.8 528.5 80.6 528.7 75.3 528.8 75.2 528.9 73.4 529.0 78.9 529.1 76.8 529.2 81.0 529.3 73.4 529.4 80.3 529.5 83.7 529.6 69.8 529.7 71.2 529.8 72.8 529.9 71.9 530.0 76.4 530.1 67.9 530.2 76.4 530.3 66.3 530.4 72.5 530.5 81.0 530.6 72.4 530.7 67.6 530.8 62.2 530.9 71.9 531.0 75.5 531.2 76.1 531.3 82.1 531.4 69.8 531.5 75.7 531.6 72.1 531.7 77.9 531.8 77.9 531.9 70.3 532.0 74.2 532.1 75.4 532.2 80.6 532.3 76.8 532.4 75.5 532.5 79.7 532.6 78.1 532.7 81.6 532.8 100.4 532.9 141.1 533.0 174.3 533.1 195.7 533.2 205.6 533.3 210.6 533.4 210.7 533.5 212.4 533.7 208.8 533.8 217.4 533.9 223.2 534.0 222.9 534.1 224.6 534.2 233.7 534.3 229.3 534.4 233.9 534.5 235.8 534.6 242.9 534.7 240.4 534.8 240.4 534.9 244.9 535.0 242.6 535.1 248.1 535.2 249.9 535.3 247.1 535.4 248.0 535.5 247.3 535.6 248.9 535.7 245.9 535.8 249.0 535.9 247.6 536.0 250.0 536.1 249.3 536.3 247.7 536.4 248.9 536.5 248.5 536.6 248.1 536.7 247.4 536.8 246.3 536.9 246.2 537.0 246.0 537.1 260.0 537.2 262.4 537.3 266.0 537.4 260.5 537.5 261.3 537.6 265.1 537.7 252.8 537.8 266.0 537.9 259.0 538.0 260.3 538.1 261.9 538.2 253.8 538.3 262.0 538.4 265.4 538.5 257.3 538.6 266.2 538.8 268.1 538.9 266.0 539.0 261.1 539.1 256.5 539.2 252.8 539.3 257.9 539.4 248.8 539.5 240.3 539.6 249.0 539.7 245.2 539.8 244.4 539.9 244.4 540.0 252.6 540.1 256.1 540.2 258.9 540.3 252.9 540.4 257.1 540.5 270.2 540.6 268.7 540.7 267.8 540.8 269.2 540.9 261.8 541.0 263.7 541.1 255.3 541.3 261.4 541.4 262.4 541.5 257.3 541.6 263.7 541.7 265.7 541.8 260.4 541.9 258.1 542.0 266.3 542.1 258.5 542.2 258.9 542.3 262.7 542.4 261.3 542.5 263.1 542.6 261.7 542.7 260.3 542.8 264.8 542.9 258.0 543.0 259.9 543.1 259.7 543.2 270.2 543.3 270.3 543.4 261.2 543.5 266.1 543.6 265.4 543.7 266.2 543.9 266.5 544.0 262.0 544.1 262.0 544.2 261.4 544.3 257.1 544.4 263.1 544.5 253.7 544.6 263.7 544.7 246.1 544.8 259.3 544.9 253.2 545.0 253.1 545.1 256.9 545.2 255.1 545.3 257.7 545.4 263.7 545.5 257.3 545.6 255.2 545.7 260.1 545.8 264.0 545.9 260.6 546.0 256.6 546.1 257.2 546.2 254.8 546.4 257.3 546.5 259.3 546.6 267.3 546.7 253.6 546.8 261.0 546.9 258.0 547.0 260.8 547.1 259.4 547.2 257.9 547.3 253.3 547.4 252.7 547.5 256.3 547.6 251.8 547.7 260.3 547.8 257.8 547.9 260.0 548.0 254.2 548.1 258.8 548.2 256.2 548.3 254.5 548.4 267.0 548.5 251.3 548.6 259.0 548.7 260.4 548.9 265.7 549.0 259.4 549.1 266.2 549.2 259.1 549.3 261.1 549.4 252.6 549.5 260.1 549.6 256.5 549.7 255.9 549.8 253.2 549.9 262.9 550.0 251.9 550.1 249.4 550.2 235.8 550.3 230.4 550.4 229.5 550.5 233.3 550.6 229.8 550.7 227.5 550.8 231.6 550.9 231.0 551.0 234.3 551.1 226.5 551.2 208.8 551.3 177.5 551.5 158.3 551.6 151.2 551.7 152.7 551.8 154.9 551.9 156.4 552.0 154.9 552.1 149.7 552.2 154.5 552.3 148.5 552.4 153.3 552.5 153.8 552.6 151.3 552.7 154.1 552.8 142.4 552.9 131.4 553.0 118.2 553.1 104.0 553.2 88.8 553.3 89.7 553.4 76.5 553.5 72.5 553.6 74.0 553.7 73.9 553.8 74.8 554.0 77.7 554.1 70.9 554.2 74.6 554.3 72.9 554.4 70.9 554.5 72.0 554.6 73.3 554.7 73.0 554.8 72.5 554.9 71.4 555.0 71.8 555.1 73.1 555.2 67.0 555.3 71.9 555.4 71.4 555.5 72.2 555.6 70.1 555.7 72.0 555.8 70.9 555.9 72.4 556.0 73.6 556.1 74.4 556.2 73.1 556.3 71.9 556.5 65.7 556.6 67.7 556.7 68.5 556.8 68.8 556.9 65.3 557.0 67.6 557.1 68.5 557.2 66.3 557.3 69.8 557.4 67.3 557.5 67.7 557.6 67.8 557.7 69.1 557.8 65.9 557.9 64.6 558.0 69.8 558.1 67.5 558.2 66.9 558.3 63.5 558.4 68.3 558.5 68.7 558.6 66.9 558.7 63.4 558.8 67.0 558.9 66.9 559.1 64.4 559.2 71.6 559.3 72.0 559.4 67.0 559.5 67.3 559.6 71.3 559.7 67.5 559.8 67.7 559.9 66.6 560.0 67.8 560.1 66.5 560.2 66.7 560.3 64.3 560.4 63.9 560.5 60.8 560.6 63.1 560.7 66.9 560.8 63.9 560.9 61.8 561.0 64.2 561.1 63.2 561.2 65.8 561.3 65.3 561.4 68.2 561.6 65.2 561.7 68.2 561.8 63.6 561.9 67.7 562.0 68.5 562.1 63.4 562.2 65.0 562.3 64.1 562.4 63.3 562.5 64.3 562.6 66.2 562.7 64.9 562.8 64.8 562.9 64.7 563.0 62.3 563.1 67.2 563.2 66.0 563.3 65.2 563.4 67.3 563.5 69.0 563.6 67.6 563.7 64.5 563.8 66.9 563.9 65.5 564.1 67.9 564.2 65.8 564.3 66.8 564.4 66.2 564.5 63.0 564.6 62.0 564.7 59.2 564.8 64.5 564.9 60.5 565.0 57.9 565.1 59.8 565.2 64.6 565.3 66.7 565.4 68.2 565.5 67.5 565.6 67.8 565.7 67.9 565.8 67.4 565.9 70.0 566.0 69.5 566.1 68.9 566.2 68.7 566.3 66.8 566.4 66.3 566.5 62.4 566.7 65.8 566.8 66.1 566.9 62.7 567.0 65.5 567.1 62.9 567.2 61.1 567.3 60.8 567.4 60.7 567.5 61.1 567.6 63.4 567.7 63.2 567.8 66.0 567.9 65.9 568.0 69.4 568.1 69.8 568.2 81.2 568.3 79.0 568.4 76.6 568.5 76.5 568.6 74.8 568.7 72.2 568.8 68.2 568.9 67.9 569.0 70.1 569.2 67.1 569.3 66.2 569.4 68.6 569.5 67.8 569.6 69.2 569.7 67.2 569.8 70.5 569.9 67.3 570.0 67.8 570.1 67.5 570.2 67.5 570.3 63.7 570.4 66.2 570.5 65.1 570.6 64.3 570.7 64.5 570.8 64.9 570.9 67.3 571.0 68.1 571.1 67.5 571.2 66.6 571.3 65.6 571.4 65.6 571.5 63.6 571.7 65.7 571.8 62.3 571.9 63.4 572.0 66.4 572.1 63.9 572.2 69.9 572.3 62.6 572.4 64.4 572.5 64.2 572.6 67.8 572.7 59.7 572.8 64.2 572.9 63.5 573.0 60.4 573.1 61.7 573.2 62.7 573.3 60.4 573.4 63.7 573.5 61.1 573.6 62.6 573.7 61.5 573.8 65.8 573.9 61.9 574.0 64.0 574.1 60.9 574.3 65.4 574.4 61.0 574.5 63.1 574.6 62.7 574.7 65.3 574.8 63.2 574.9 63.4 575.0 65.2 575.1 65.0 575.2 63.3 575.3 58.4 575.4 60.1 575.5 57.7 575.6 57.7 575.7 56.9 575.8 58.1 575.9 60.0 576.0 58.4 576.1 61.6 576.2 62.8 576.3 66.7 576.4 64.5 576.5 67.0 576.6 66.7 576.8 64.3 576.9 68.2 577.0 66.8 577.1 65.4 577.2 64.9 577.3 67.7 577.4 66.1 577.5 66.1 577.6 68.5 577.7 70.4 577.8 70.4 577.9 66.0 578.0 66.6 578.1 68.8 578.2 67.7 578.3 66.9 578.4 66.9 578.5 66.0 578.6 61.9 578.7 67.3 578.8 65.5 578.9 67.3 579.0 67.3 579.1 68.1 579.3 66.8 579.4 67.4 579.5 65.8 579.6 66.1 579.7 67.6 579.8 62.8 579.9 68.4 580.0 65.4 580.1 61.9 580.2 66.8 580.3 63.7 580.4 63.7 580.5 65.4 580.6 69.2 580.7 63.1 580.8 65.8 580.9 66.9 581.0 64.1 581.1 67.5 581.2 64.6 581.3 67.4 581.4 65.9 581.5 69.3 581.6 68.6 581.7 69.8 581.9 69.9 582.0 68.2 582.1 68.7 582.2 68.2 582.3 66.7 582.4 69.4 582.5 72.8 582.6 69.9 582.7 69.4 582.8 67.8 582.9 68.1 583.0 69.0 583.1 71.4 583.2 70.3 583.3 74.0 583.4 69.4 583.5 71.3 583.6 71.4 583.7 72.7 583.8 72.4 583.9 74.0 584.0 71.9 584.1 75.4 584.2 71.4 584.4 71.9 584.5 68.9 584.6 72.9 584.7 73.0 584.8 72.4 584.9 72.7 585.0 72.9 585.1 74.7 585.2 74.4 585.3 73.6 585.4 73.1 585.5 74.6 585.6 74.5 585.7 73.0 585.8 71.0 585.9 72.6 586.0 71.0 586.1 70.5 586.2 71.1 586.3 73.4 586.4 73.6 586.5 76.0 586.6 74.1 586.7 72.3 586.9 74.9 587.0 70.4 587.1 70.7 587.2 71.6 587.3 67.6 587.4 70.0 587.5 67.3 587.6 64.3 587.7 62.1 587.8 60.1 587.9 59.8 588.0 56.6 588.1 61.1 588.2 63.1 588.3 64.2 588.4 66.7 588.5 68.6 588.6 71.1 588.7 74.8 588.8 69.1 588.9 73.4 589.0 75.0 589.1 73.4 589.2 74.8 589.3 68.4 589.5 71.0 589.6 68.9 589.7 68.8 589.8 70.3 589.9 70.6 590.0 73.0 590.1 70.5 590.2 70.2 590.3 67.8 590.4 68.0 590.5 62.9 590.6 61.9 590.7 62.3 590.8 63.7 590.9 61.0 591.0 61.7 591.1 64.6 591.2 68.1 591.3 66.6 591.4 66.8 591.5 73.6 591.6 70.5 591.7 74.9 591.8 71.5 592.0 68.5 592.1 71.2 592.2 70.6 592.3 71.8 592.4 71.5 592.5 67.3 592.6 69.2 592.7 72.0 592.8 72.2 592.9 71.3 593.0 68.0 593.1 71.5 593.2 70.3 593.3 72.5 593.4 74.6 593.5 70.3 593.6 73.1 593.7 73.9 593.8 74.1 593.9 73.9 594.0 73.9 594.1 75.9 594.2 71.2 594.3 72.4 594.5 71.3 594.6 73.3 594.7 72.2 594.8 72.5 594.9 70.7 595.0 71.3 595.1 71.6 595.2 73.2 595.3 74.1 595.4 73.6 595.5 73.5 595.6 73.0 595.7 74.5 595.8 64.0 595.9 72.0 596.0 76.1 596.1 74.0 596.2 88.3 596.3 72.1 596.4 70.5 596.5 74.3 596.6 71.7 596.7 73.1 596.8 70.2 597.0 70.0 597.1 72.2 597.2 71.2 597.3 72.1 597.4 72.8 597.5 74.7 597.6 71.8 597.7 72.5 597.8 72.7 597.9 72.2 598.0 72.5 598.1 74.1 598.2 72.9 598.3 69.6 598.4 72.6 598.5 70.0 598.6 73.9 598.7 74.4 598.8 72.2 598.9 71.0 599.0 73.1 599.1 70.5 599.2 69.7 599.3 69.1 599.4 70.8 599.6 70.2 599.7 71.3 599.8 66.6 599.9 65.0 600.0 61.6 600.1 65.1 600.2 63.3 600.3 62.3 600.4 57.8 600.5 65.4 600.6 64.7 600.7 60.3 600.8 64.0 600.9 69.0 601.0 68.4 601.1 68.2 601.2 70.1 601.3 71.5 601.4 72.9 601.5 70.6 601.6 72.0 601.7 70.4 601.8 70.9 601.9 72.8 602.1 69.2 602.2 72.8 602.3 71.4 602.4 73.6 602.5 73.5 602.6 72.8 602.7 73.1 602.8 70.8 602.9 68.5 603.0 66.5 603.1 65.5 603.2 66.3 603.3 61.8 603.4 64.6 603.5 63.0 603.6 69.2 603.7 65.2 603.8 69.6 603.9 68.1 604.0 72.1 604.1 70.9 604.2 73.1 604.3 75.6 604.4 73.6 604.6 72.4 604.7 72.1 604.8 76.5 604.9 74.7 605.0 74.0 605.1 73.6 605.2 72.7 605.3 74.3 605.4 75.6 605.5 72.5 605.6 73.8 605.7 71.4 605.8 74.2 605.9 72.2 606.0 74.3 606.1 72.2 606.2 72.4 606.3 71.8 606.4 74.4 606.5 73.0 606.6 74.1 606.7 73.1 606.8 71.7 606.9 67.2 607.0 72.1 607.2 71.3 607.3 72.5 607.4 71.1 607.5 72.0 607.6 70.8 607.7 71.8 607.8 68.4 607.9 70.4 608.0 75.7 608.1 72.2 608.2 72.7 608.3 76.6 608.4 74.1 608.5 73.3 608.6 74.0 608.7 73.0 608.8 76.3 608.9 71.8 609.0 71.8 609.1 72.5 609.2 73.8 609.3 73.0 609.4 73.8 609.5 70.9 609.7 72.2 609.8 69.7 609.9 73.7 610.0 70.7 610.1 74.5 610.2 73.8 610.3 74.9 610.4 71.5 610.5 71.5 610.6 69.7 610.7 67.7 610.8 70.1 610.9 68.8 611.0 66.9 611.1 67.9 611.2 69.1 611.3 68.0 611.4 68.3 611.5 68.5 611.6 68.9 611.7 72.0 611.8 70.5 611.9 69.7 612.0 72.6 612.2 71.4 612.3 73.1 612.4 72.0 612.5 69.0 612.6 72.3 612.7 74.2 612.8 71.4 612.9 71.0 613.0 68.9 613.1 72.5 613.2 70.6 613.3 68.5 613.4 70.2 613.5 64.8 613.6 69.6 613.7 67.5 613.8 68.2 613.9 66.6 614.0 63.8 614.1 63.6 614.2 62.5 614.3 71.8 614.4 60.9 614.5 61.8 614.6 66.6 614.8 65.6 614.9 66.6 615.0 68.5 615.1 68.0 615.2 71.6 615.3 68.4 615.4 71.8 615.5 70.8 615.6 71.4 615.7 71.4 615.8 73.1 615.9 69.8 616.0 74.7 616.1 72.7 616.2 72.6 616.3 72.5 616.4 70.7 616.5 71.4 616.6 67.8 616.7 67.0 616.8 66.1 616.9 62.2 617.0 64.4 617.1 64.9 617.3 62.6 617.4 61.8 617.5 56.3 617.6 60.4 617.7 60.5 617.8 62.9 617.9 62.4 618.0 67.0 618.1 67.4 618.2 70.0 618.3 72.7 618.4 74.1 618.5 73.9 618.6 69.9 618.7 71.5 618.8 72.1 618.9 71.7 619.0 72.6 619.1 72.3 619.2 72.1 619.3 71.0 619.4 70.5 619.5 75.0 619.6 72.1 619.8 70.3 619.9 74.2 620.0 72.5 620.1 71.9 620.2 70.5 620.3 71.0 620.4 72.7 620.5 70.9 620.6 70.0 620.7 71.4 620.8 68.6 620.9 70.7 621.0 73.6 621.1 72.8 621.2 71.8 621.3 71.6 621.4 70.3 621.5 71.2 621.6 68.8 621.7 70.1 621.8 68.5 621.9 72.0 622.0 71.4 622.1 69.6 622.2 70.8 622.4 70.1 622.5 71.0 622.6 72.6 622.7 69.2 622.8 70.2 622.9 74.8 623.0 72.6 623.1 72.3 623.2 72.2 623.3 74.3 623.4 77.8 623.5 75.1 623.6 78.3 623.7 76.5 623.8 78.8 623.9 77.0 624.0 76.3 624.1 75.1 624.2 83.9 624.3 72.8 624.4 71.4 624.5 70.9 624.6 66.4 624.7 63.9 624.9 60.6 625.0 58.3 625.1 59.0 625.2 53.9 625.3 57.1 625.4 60.9 625.5 59.6 625.6 64.1 625.7 66.9 625.8 65.6 625.9 67.7 626.0 72.8 626.1 69.7 626.2 69.5 626.3 71.8 626.4 67.0 626.5 70.6 626.6 70.1 626.7 74.5 626.8 69.4 626.9 71.7 627.0 70.2 627.1 73.7 627.2 69.2 627.4 68.6 627.5 68.2 627.6 76.3 627.7 70.6 627.8 70.8 627.9 77.0 628.0 73.2 628.1 71.8 628.2 69.5 628.3 73.3 628.4 71.7 628.5 72.7 628.6 71.8 628.7 73.0 628.8 71.1 628.9 70.8 629.0 74.9 629.1 70.9 629.2 74.0 629.3 73.3 629.4 70.3 629.5 72.5 629.6 71.4 629.7 70.8 629.8 71.6 630.0 73.9 630.1 74.4 630.2 71.7 630.3 71.4 630.4 71.8 630.5 72.8 630.6 71.3 630.7 73.4 630.8 75.6 630.9 72.9 631.0 72.3 631.1 71.7 631.2 73.4 631.3 71.2 631.4 67.6 631.5 67.3 631.6 65.5 631.7 62.4 631.8 61.9 631.9 58.1 632.0 62.4 632.1 61.3 632.2 63.7 632.3 62.5 632.5 68.3 632.6 69.6 632.7 68.6 632.8 73.8 632.9 73.8 633.0 72.5 633.1 72.0 633.2 75.1 633.3 72.3 633.4 73.3 633.5 72.6 633.6 72.4 633.7 73.1 633.8 71.1 633.9 71.9 634.0 73.1 634.1 73.0 634.2 71.1 634.3 71.7 634.4 70.7 634.5 73.0 634.6 72.2 634.7 68.7 634.8 72.3 635.0 69.4 635.1 71.1 635.2 72.8 635.3 74.4 635.4 70.6 635.5 73.0 635.6 73.5 635.7 74.8 635.8 69.8 635.9 71.7 636.0 71.8 636.1 71.0 636.2 71.2 636.3 71.8 636.4 70.8 636.5 72.3 636.6 76.4 636.7 70.3 636.8 70.6 636.9 71.4 637.0 69.3 637.1 74.3 637.2 76.7 637.3 69.3 637.4 71.4 637.6 75.1 637.7 73.3 637.8 71.5 637.9 74.3 638.0 71.1 638.1 68.6 638.2 69.8 638.3 72.0 638.4 71.5 638.5 73.7 638.6 71.4 638.7 72.1 638.8 73.1 638.9 73.8 639.0 68.3 639.1 71.8 639.2 73.7 639.3 72.4 639.4 68.7 639.5 68.2 639.6 71.9 639.7 70.6 639.8 69.6 639.9 71.8 640.1 73.1 640.2 73.0 640.3 71.2 640.4 72.8 640.5 74.2 640.6 72.6 640.7 71.0 640.8 71.7 640.9 72.9 641.0 69.3 641.1 73.8 641.2 72.3 641.3 74.2 641.4 70.7 641.5 71.9 641.6 74.4 641.7 73.0 641.8 68.5 641.9 70.7 642.0 71.9 642.1 70.6 642.2 74.7 642.3 73.5 642.4 74.3 642.6 73.2 642.7 70.9 642.8 68.0 642.9 65.7 643.0 64.6 643.1 60.6 643.2 64.8 643.3 62.8 643.4 60.9 643.5 64.0 643.6 64.4 643.7 64.7 643.8 68.1 643.9 66.6 644.0 66.6 644.1 71.6 644.2 75.0 644.3 71.1 644.4 73.2 644.5 71.2 644.6 71.9 644.7 70.9 644.8 69.2 644.9 70.0 645.0 73.1 645.2 75.4 645.3 78.5 645.4 79.0 645.5 78.1 645.6 77.6 645.7 80.2 645.8 80.5 645.9 81.3 646.0 80.3 646.1 79.8 646.2 74.9 646.3 78.6 646.4 72.8 646.5 74.6 646.6 71.0 646.7 71.7 646.8 70.9 646.9 69.9 647.0 73.5 647.1 74.2 647.2 73.2 647.3 74.0 647.4 71.7 647.5 72.7 647.7 72.7 647.8 71.7 647.9 73.4 648.0 70.3 648.1 75.0 648.2 71.6 648.3 71.2 648.4 73.6 648.5 73.4 648.6 70.4 648.7 72.9 648.8 75.4 648.9 74.7 649.0 70.9 649.1 73.5 649.2 68.1 649.3 67.0 649.4 68.6 649.5 66.4 649.6 67.4 649.7 66.2 649.8 65.6 649.9 63.9 650.0 68.2 650.2 67.3 650.3 67.8 650.4 68.3 650.5 73.8 650.6 74.0 650.7 73.5 650.8 72.3 650.9 71.8 651.0 71.6 651.1 68.5 651.2 70.5 651.3 70.5 651.4 72.4 651.5 70.9 651.6 70.8 651.7 70.7 651.8 72.3 651.9 71.5 652.0 70.2 652.1 73.9 652.2 76.5 652.3 71.5 652.4 77.4 652.5 72.8 652.6 73.2 652.8 73.9 652.9 73.3 653.0 74.2 653.1 72.7 653.2 71.1 653.3 73.3 653.4 73.1 653.5 71.8 653.6 73.2 653.7 72.0 653.8 72.2 653.9 73.9 654.0 71.8 654.1 73.8 654.2 70.5 654.3 73.7 654.4 72.0 654.5 75.0 654.6 72.8 654.7 73.9 654.8 69.3 654.9 72.3 655.0 71.5 655.1 75.2 655.3 74.1 655.4 72.0 655.5 74.0 655.6 69.5 655.7 72.5 655.8 71.5 655.9 71.4 656.0 72.2 656.1 70.5 656.2 72.7 656.3 71.2 656.4 69.5 656.5 71.3 656.6 71.8 656.7 72.6 656.8 72.3 656.9 66.0 657.0 72.7 657.1 75.2 657.2 71.9 657.3 72.5 657.4 71.5 657.5 72.6 657.6 69.9 657.8 74.8 657.9 74.5 658.0 71.7 658.1 74.5 658.2 72.5 658.3 73.4 658.4 76.7 658.5 72.1 658.6 70.8 658.7 72.4 658.8 74.8 658.9 71.0 659.0 74.1 659.1 72.8 659.2 72.1 659.3 74.2 659.4 75.6 659.5 72.9 659.6 72.7 659.7 74.1 659.8 73.8 659.9 71.1 660.0 72.5 660.1 73.0 660.2 73.4 660.4 72.3 660.5 72.3 660.6 72.6 660.7 74.7 660.8 73.1 660.9 73.0 661.0 72.0 661.1 70.2 661.2 70.5 661.3 71.3 661.4 72.2 661.5 72.5 661.6 71.1 661.7 72.4 661.8 72.1 661.9 72.9 662.0 71.4 662.1 71.5 662.2 68.5 662.3 70.7 662.4 72.0 662.5 70.1 662.6 72.1 662.7 70.1 662.9 70.7 663.0 67.1 663.1 73.9 663.2 72.8 663.3 72.5 663.4 71.2 663.5 70.2 663.6 72.2 663.7 76.6 663.8 67.0 663.9 64.1 664.0 66.6 664.1 67.9 664.2 64.3 664.3 65.8 664.4 66.2 664.5 70.8 664.6 70.3 664.7 71.1 664.8 71.5 664.9 72.0 665.0 71.7 665.1 69.9 665.2 72.3 665.4 72.8 665.5 72.5 665.6 72.6 665.7 71.4 665.8 71.4 665.9 72.0 666.0 69.4 666.1 71.3 666.2 73.2 666.3 71.3 666.4 74.9 666.5 74.6 666.6 75.0 666.7 75.5 666.8 74.4 666.9 72.9 667.0 74.9 667.1 73.0 667.2 71.4 667.3 70.8 667.4 70.7 667.5 67.4 667.6 70.0 667.7 71.4 667.8 71.0 668.0 70.6 668.1 70.2 668.2 71.5 668.3 68.8 668.4 73.0 668.5 70.4 668.6 70.5 668.7 73.1 668.8 70.0 668.9 70.3 669.0 72.6 669.1 67.4 669.2 70.2 669.3 71.6 669.4 72.9 669.5 74.3 669.6 73.4 669.7 74.8 669.8 78.1 669.9 79.0 670.0 79.4 670.1 80.2 670.2 79.1 670.3 78.6 670.5 75.4 670.6 73.5 670.7 74.4 670.8 77.1 670.9 72.9 671.0 70.4 671.1 71.6 671.2 71.0 671.3 71.0 671.4 73.1 671.5 74.2 671.6 68.8 671.7 70.4 671.8 68.8 671.9 69.6 672.0 68.8 672.1 66.8 672.2 71.2 672.3 70.2 672.4 72.8 672.5 71.6 672.6 71.4 672.7 71.4 672.8 72.6 673.0 75.1 673.1 72.2 673.2 71.3 673.3 71.4 673.4 69.8 673.5 71.7 673.6 74.9 673.7 74.0 673.8 72.6 673.9 70.9 674.0 74.7 674.1 71.3 674.2 71.5 674.3 73.6 674.4 71.4 674.5 73.5 674.6 72.2 674.7 72.4 674.8 71.2 674.9 73.6 675.0 71.2 675.1 75.5 675.2 72.3 675.3 72.4 675.4 68.9 675.6 70.1 675.7 72.1 675.8 72.6 675.9 71.3 676.0 72.4 676.1 67.8 676.2 75.6 676.3 71.3 676.4 75.6 676.5 70.3 676.6 73.2 676.7 69.4 676.8 72.8 676.9 70.5 677.0 72.0 677.1 70.1 677.2 72.1 677.3 76.8 677.4 73.0 677.5 74.5 677.6 70.8 677.7 71.2 677.8 72.1 677.9 71.1 678.1 72.0 678.2 73.7 678.3 70.0 678.4 73.0 678.5 73.4 678.6 75.9 678.7 75.1 678.8 74.6 678.9 75.3 679.0 76.5 679.1 69.2 679.2 78.6 679.3 77.9 679.4 79.9 679.5 77.7 679.6 77.0 679.7 73.8 679.8 73.9 679.9 74.0 680.0 75.1 680.1 73.3 680.2 71.5 680.3 71.5 680.4 76.0 680.6 74.7 680.7 74.1 680.8 73.4 680.9 73.7 681.0 73.0 681.1 76.1 681.2 71.0 681.3 75.5 681.4 73.3 681.5 72.8 681.6 72.0 681.7 72.7 681.8 72.8 681.9 71.8 682.0 74.4 682.1 73.1 682.2 71.9 682.3 75.4 682.4 76.4 682.5 75.5 682.6 71.6 682.7 72.1 682.8 74.7 682.9 73.6 683.0 73.3 683.2 72.2 683.3 76.4 683.4 74.3 683.5 73.7 683.6 72.4 683.7 72.9 683.8 73.7 683.9 72.9 684.0 77.4 684.1 68.0 684.2 71.7 684.3 71.5 684.4 73.7 684.5 71.7 684.6 69.3 684.7 69.7 684.8 72.5 684.9 74.5 685.0 72.2 685.1 73.1 685.2 71.3 685.3 75.2 685.4 73.4 685.5 72.7 685.7 73.8 685.8 71.5 685.9 75.1 686.0 75.4 686.1 74.2 686.2 72.0 686.3 73.9 686.4 74.2 686.5 72.1 686.6 73.0 686.7 74.5 686.8 73.5 686.9 74.1 687.0 72.5 687.1 73.2 687.2 74.7 687.3 73.9 687.4 73.7 687.5 72.2 687.6 72.0 687.7 74.0 687.8 73.0 687.9 72.1 688.0 70.9 688.2 72.1 688.3 69.1 688.4 72.0 688.5 71.0 688.6 73.0 688.7 74.1 688.8 72.3 688.9 71.4 689.0 71.8 689.1 72.2 689.2 72.8 689.3 73.7 689.4 72.9 689.5 71.2 689.6 70.1 689.7 76.9 689.8 70.5 689.9 70.0 690.0 69.6 690.1 71.1 690.2 70.6 690.3 72.6 690.4 72.1 690.5 71.1 690.6 73.7 690.8 72.9 690.9 71.3 691.0 74.2 691.1 73.1 691.2 68.1 691.3 75.3 691.4 76.3 691.5 78.1 691.6 79.8 691.7 79.9 691.8 83.8 691.9 80.2 692.0 78.7 692.1 78.5 692.2 82.3 692.3 83.5 692.4 82.0 692.5 82.5 692.6 87.7 692.7 87.5 692.8 89.8 692.9 88.5 693.0 88.4 693.1 85.9 693.3 80.8 693.4 75.3 693.5 77.0 693.6 71.7 693.7 68.9 693.8 74.0 693.9 73.2 694.0 69.6 694.1 70.5 694.2 71.4 694.3 71.8 694.4 71.0 694.5 73.3 694.6 68.1 694.7 74.6 694.8 75.9 694.9 72.1 695.0 69.3 695.1 71.6 695.2 69.9 695.3 70.3 695.4 67.6 695.5 68.0 695.6 67.0 695.8 68.8 695.9 66.9 696.0 63.1 696.1 66.4 696.2 65.6 696.3 62.0 696.4 66.7 696.5 67.2 696.6 63.6 696.7 67.3 696.8 65.2 696.9 64.6 697.0 68.7 697.1 68.3 697.2 64.8 697.3 69.6 697.4 69.7 697.5 68.6 697.6 70.3 697.7 71.6 697.8 67.9 697.9 71.9 698.0 71.3 698.1 73.1 698.3 73.1 698.4 74.9 698.5 70.8 698.6 73.3 698.7 70.4 698.8 74.6 698.9 73.4 699.0 71.7 699.1 72.1 699.2 73.5 699.3 72.6 699.4 74.8 699.5 72.9 699.6 77.2 699.7 72.5 699.8 70.9 699.9 71.9 700.0 71.9 700.1 73.5 700.2 71.8 700.3 73.0 700.4 72.9 700.5 73.0 700.6 78.2 700.7 71.0 700.9 71.7 701.0 71.1 701.1 73.6 701.2 70.6 701.3 71.0 701.4 75.8 701.5 74.5 701.6 71.7 701.7 72.6 701.8 71.2 701.9 72.5 702.0 69.0 702.1 74.7 702.2 73.8 702.3 73.1 702.4 73.3 702.5 72.0 702.6 71.2 702.7 73.1 702.8 70.5 702.9 69.1 703.0 69.0 703.1 67.8 703.2 69.4 703.4 71.4 703.5 68.7 703.6 71.1 703.7 68.9 703.8 72.5 703.9 75.1 704.0 73.0 704.1 70.3 704.2 69.2 704.3 69.6 704.4 66.3 704.5 69.0 704.6 67.4 704.7 65.7 704.8 68.0 704.9 68.9 705.0 67.2 705.1 68.5 705.2 72.3 705.3 71.4 705.4 75.4 705.5 73.0 705.6 72.1 705.7 75.9 705.9 70.7 706.0 70.0 706.1 72.6 706.2 71.8 706.3 70.5 706.4 73.2 706.5 71.1 706.6 72.2 706.7 75.1 706.8 74.5 706.9 73.8 707.0 71.3 707.1 73.1 707.2 71.6 707.3 74.1 707.4 75.2 707.5 69.4 707.6 68.8 707.7 72.6 707.8 73.1 707.9 70.5 708.0 74.0 708.1 72.5 708.2 74.9 708.3 72.0 708.5 72.2 708.6 73.0 708.7 73.6 708.8 75.1 708.9 73.8 709.0 70.9 709.1 73.5 709.2 70.4 709.3 73.4 709.4 72.2 709.5 72.4 709.6 72.2 709.7 70.8 709.8 76.0 709.9 71.1 710.0 71.3 710.1 71.9 710.2 71.7 710.3 72.2 710.4 71.1 710.5 71.8 710.6 73.4 710.7 71.9 710.8 71.1 711.0 71.8 711.1 72.1 711.2 69.4 711.3 68.0 711.4 65.3 711.5 64.8 711.6 59.5 711.7 54.6 711.8 54.4 711.9 52.8 712.0 52.6 712.1 57.0 712.2 59.8 712.3 61.5 712.4 63.6 712.5 67.6 712.6 71.4 712.7 70.2 712.8 73.0 712.9 74.2 713.0 72.4 713.1 70.9 713.2 74.9 713.3 70.0 713.5 72.5 713.6 68.8 713.7 71.4 713.8 73.1 713.9 70.7 714.0 70.6 714.1 73.2 714.2 72.4 714.3 73.7 714.4 71.1 714.5 74.5 714.6 72.5 714.7 76.1 714.8 71.3 714.9 75.8 715.0 73.7 715.1 71.6 715.2 72.0 715.3 72.2 715.4 73.0 715.5 72.7 715.6 75.0 715.7 71.7 715.8 71.0 715.9 71.0 716.1 72.5 716.2 70.0 716.3 71.5 716.4 70.8 716.5 71.7 716.6 72.6 716.7 73.7 716.8 76.6 716.9 71.3 717.0 72.1 717.1 68.7 717.2 75.1 717.3 70.8 717.4 66.8 717.5 72.7 717.6 74.2 717.7 73.4 717.8 74.9 717.9 75.0 718.0 77.5 718.1 78.4 718.2 77.8 718.3 80.7 718.4 89.1 718.6 80.7 718.7 82.0 718.8 80.6 718.9 81.0 719.0 81.4 719.1 84.2 719.2 76.5 719.3 77.7 719.4 73.8 719.5 71.6 719.6 76.3 719.7 72.0 719.8 73.0 719.9 71.7 720.0 74.4 720.1 72.5 720.2 72.1 720.3 69.8 720.4 67.8 720.5 69.4 720.6 70.1 720.7 65.1 720.8 67.6 720.9 66.8 721.1 66.0 721.2 64.2 721.3 64.6 721.4 67.9 721.5 67.8 721.6 65.7 721.7 67.4 721.8 70.1 721.9 71.4 722.0 73.3 722.1 71.3 722.2 73.2 722.3 71.3 722.4 71.4 722.5 70.7 722.6 68.8 722.7 68.4 722.8 68.8 722.9 67.1 723.0 67.3 723.1 68.7 723.2 69.9 723.3 56.5 723.4 69.3 723.5 69.2 723.7 71.6 723.8 72.9 723.9 72.4 724.0 69.3 724.1 70.8 724.2 74.1 724.3 72.6 724.4 73.1 724.5 71.9 724.6 73.9 724.7 71.2 724.8 73.8 724.9 72.3 725.0 69.3 725.1 70.4 725.2 73.4 725.3 74.0 725.4 73.4 725.5 74.7 725.6 73.4 725.7 72.4 725.8 74.1 725.9 71.4 726.0 72.6 726.2 73.2 726.3 69.4 726.4 71.1 726.5 72.3 726.6 69.3 726.7 70.5 726.8 73.8 726.9 71.7 727.0 72.6 727.1 74.4 727.2 69.1 727.3 69.4 727.4 73.5 727.5 71.0 727.6 74.7 727.7 70.2 727.8 71.8 727.9 72.4 728.0 69.7 728.1 71.9 728.2 71.8 728.3 69.8 728.4 71.9 728.5 70.1 728.7 71.3 728.8 69.9 728.9 70.5 729.0 70.3 729.1 73.6 729.2 69.0 729.3 72.7 729.4 69.9 729.5 73.9 729.6 73.6 729.7 73.4 729.8 70.8 729.9 73.4 730.0 72.3 730.1 75.3 730.2 74.0 730.3 73.2 730.4 73.5 730.5 76.2 730.6 72.0 730.7 74.4 730.8 69.9 730.9 73.5 731.0 69.3 731.1 72.0 731.3 72.5 731.4 74.3 731.5 73.9 731.6 72.7 731.7 76.5 731.8 71.8 731.9 75.6 732.0 74.5 732.1 78.8 732.2 74.1 732.3 74.0 732.4 75.6 732.5 76.1 732.6 77.4 732.7 76.6 732.8 74.7 732.9 77.1 733.0 74.8 733.1 74.1 733.2 75.3 733.3 73.9 733.4 73.4 733.5 73.9 733.6 68.8 733.8 73.6 733.9 70.1 734.0 71.1 734.1 76.5 734.2 72.9 734.3 71.3 734.4 72.0 734.5 74.6 734.6 72.5 734.7 74.9 734.8 74.5 734.9 73.0 735.0 72.0 735.1 69.7 735.2 71.9 735.3 70.7 735.4 74.0 735.5 73.7 735.6 72.9 735.7 69.3 735.8 74.6 735.9 75.0 736.0 72.4 736.1 69.3 736.3 74.0 736.4 72.2 736.5 74.8 736.6 71.1 736.7 73.2 736.8 74.8 736.9 76.2 737.0 78.0 737.1 79.5 737.2 79.7 737.3 79.4 737.4 78.6 737.5 75.9 737.6 76.1 737.7 72.5 737.8 76.0 737.9 70.3 738.0 70.6 738.1 69.4 738.2 71.7 738.3 73.3 738.4 73.0 738.5 69.6 738.6 71.8 738.7 72.4 738.9 72.7 739.0 71.4 739.1 71.4 739.2 73.9 739.3 72.0 739.4 69.1 739.5 68.3 739.6 70.9 739.7 71.6 739.8 70.4 739.9 74.8 740.0 77.9 740.1 77.8 740.2 77.7 740.3 78.0 740.4 83.7 740.5 83.7 740.6 83.5 740.7 79.4 740.8 79.3 740.9 77.9 741.0 78.0 741.1 75.5 741.2 73.8 741.4 77.8 741.5 70.7 741.6 71.8 741.7 72.7 741.8 73.2 741.9 72.4 742.0 72.1 742.1 74.5 742.2 72.6 742.3 73.2 742.4 73.3 742.5 76.4 742.6 74.7 742.7 77.3 742.8 75.3 742.9 73.9 743.0 74.1 743.1 75.6 743.2 75.6 743.3 75.0 743.4 73.4 743.5 74.7 743.6 74.1 743.7 77.0 743.9 74.2 744.0 74.2 744.1 74.0 744.2 70.5 744.3 74.6 744.4 74.3 744.5 71.1 744.6 73.5 744.7 71.9 744.8 71.1 744.9 70.9 745.0 72.3 745.1 69.5 745.2 68.6 745.3 73.7 745.4 72.8 745.5 70.8 745.6 72.6 745.7 74.0 745.8 72.8 745.9 70.4 746.0 73.5 746.1 71.1 746.2 70.5 746.3 72.2 746.5 70.5 746.6 70.0 746.7 69.6 746.8 69.8 746.9 73.9 747.0 70.1 747.1 70.4 747.2 69.6 747.3 72.4 747.4 69.4 747.5 70.6 747.6 73.2 747.7 69.0 747.8 72.6 747.9 72.3 748.0 70.1 748.1 72.0 748.2 70.2 748.3 71.1 748.4 70.4 748.5 75.2 748.6 71.0 748.7 69.4 748.8 69.3 749.0 72.3 749.1 69.4 749.2 69.7 749.3 70.4 749.4 69.6 749.5 69.0 749.6 70.7 749.7 74.5 749.8 71.2 749.9 72.0 750.0 72.1 750.1 71.1 750.2 72.3 750.3 68.6 750.4 71.1 750.5 71.5 750.6 69.9 750.7 70.8 750.8 71.6 750.9 73.4 751.0 75.6 751.1 76.4 751.2 80.9 751.3 80.6 751.5 77.5 751.6 78.7 751.7 74.1 751.8 73.2 751.9 77.3 752.0 73.7 752.1 68.6 752.2 73.9 752.3 71.0 752.4 72.3 752.5 72.6 752.6 72.4 752.7 72.0 752.8 70.7 752.9 73.4 753.0 71.2 753.1 73.2 753.2 71.2 753.3 71.7 753.4 73.3 753.5 71.9 753.6 73.1 753.7 73.8 753.8 70.7 753.9 75.4 754.1 71.5 754.2 71.4 754.3 73.4 754.4 70.8 754.5 71.1 754.6 75.3 754.7 72.3 754.8 72.5 754.9 74.3 755.0 71.8 755.1 71.7 755.2 73.7 755.3 75.9 755.4 72.4 755.5 74.8 755.6 76.0 755.7 73.7 755.8 77.1 755.9 73.9 756.0 71.0 756.1 77.8 756.2 68.4 756.3 74.1 756.4 73.2 756.6 74.6 756.7 71.8 756.8 72.9 756.9 74.2 757.0 74.6 757.1 73.2 757.2 70.3 757.3 74.2 757.4 71.7 757.5 71.7 757.6 75.7 757.7 70.2 757.8 71.9 757.9 68.1 758.0 68.8 758.1 72.0 758.2 72.0 758.3 73.2 758.4 73.9 758.5 70.2 758.6 72.2 758.7 72.4 758.8 72.0 758.9 70.8 759.1 70.4 759.2 72.2 759.3 72.3 759.4 72.0 759.5 68.6 759.6 75.2 759.7 73.6 759.8 71.2 759.9 71.8 760.0 69.7 760.1 69.7 760.2 68.3 760.3 72.8 760.4 70.4 760.5 71.9 760.6 70.1 760.7 71.5 760.8 70.3 760.9 72.9 761.0 71.3 761.1 72.6 761.2 72.2 761.3 72.4 761.4 73.8 761.5 70.4 761.7 71.9 761.8 70.6 761.9 74.2 762.0 75.8 762.1 73.8 762.2 72.8 762.3 71.1 762.4 71.0 762.5 70.7 762.6 70.4 762.7 71.3 762.8 72.4 762.9 73.9 763.0 71.4 763.1 73.4 763.2 73.9 763.3 71.2 763.4 71.7 763.5 70.5 763.6 72.8 763.7 69.9 763.8 70.9 763.9 71.7 764.0 72.5 764.2 73.3 764.3 73.6 764.4 68.9 764.5 73.8 764.6 69.8 764.7 71.3 764.8 71.9 764.9 71.8 765.0 71.0 765.1 69.1 765.2 69.7 765.3 70.4 765.4 72.5 765.5 73.6 765.6 67.6 765.7 72.8 765.8 73.8 765.9 68.9 766.0 73.3 766.1 69.8 766.2 69.7 766.3 70.6 766.4 69.6 766.5 73.6 766.7 73.3 766.8 72.1 766.9 71.6 767.0 71.7 767.1 70.7 767.2 73.0 767.3 75.5 767.4 71.4 767.5 72.4 767.6 70.6 767.7 68.5 767.8 71.4 767.9 70.3 768.0 73.0 768.1 70.1 768.2 70.7 768.3 71.0 768.4 69.6 768.5 72.7 768.6 69.2 768.7 68.7 768.8 66.0 768.9 71.1 769.0 67.7 769.1 63.1 769.3 66.4 769.4 65.8 769.5 62.6 769.6 62.0 769.7 66.8 769.8 68.3 769.9 69.1 770.0 69.4 770.1 70.5 770.2 71.2 770.3 69.7 770.4 70.0 770.5 69.8 770.6 70.8 770.7 73.5 770.8 70.5 770.9 71.6 771.0 72.6 771.1 71.0 771.2 69.2 771.3 68.6 771.4 68.1 771.5 64.2 771.6 61.0 771.8 60.5 771.9 59.1 772.0 59.3 772.1 56.4 772.2 53.9 772.3 52.2 772.4 56.1 772.5 59.2 772.6 63.1 772.7 63.5 772.8 68.2 772.9 67.8 773.0 70.3 773.1 74.4 773.2 72.5 773.3 73.5 773.4 72.0 773.5 73.9 773.6 72.2 773.7 70.5 773.8 72.3 773.9 71.1 774.0 73.0 774.1 72.7 774.3 75.2 774.4 72.5 774.5 74.0 774.6 71.7 774.7 75.8 774.8 74.0 774.9 72.7 775.0 72.5 775.1 76.0 775.2 74.1 775.3 69.4 775.4 72.2 775.5 73.0 775.6 77.8 775.7 74.3 775.8 71.4 775.9 71.5 776.0 70.8 776.1 69.2 776.2 70.0 776.3 68.1 776.4 73.0 776.5 65.6 776.6 70.3 776.7 71.4 776.9 68.2 777.0 69.9 777.1 69.9 777.2 72.9 777.3 71.3 777.4 70.8 777.5 74.0 777.6 72.8 777.7 73.0 777.8 73.5 777.9 73.6 778.0 74.1 778.1 71.0 778.2 71.3 778.3 69.5 778.4 71.3 778.5 72.1 778.6 73.3 778.7 71.0 778.8 71.6 778.9 67.9 779.0 67.8 779.1 69.3 779.2 73.4 779.4 74.0 779.5 72.4 779.6 73.1 779.7 68.9 779.8 71.2 779.9 72.2 780.0 71.6 780.1 69.3 780.2 73.1 780.3 71.0 780.4 74.0 780.5 72.7 780.6 73.4 780.7 71.5 780.8 71.7 780.9 69.7 781.0 70.5 781.1 72.5 781.2 73.7 781.3 73.1 781.4 72.5 781.5 72.3 781.6 72.9 781.7 69.4 781.9 69.6 782.0 71.9 782.1 72.5 782.2 72.1 782.3 71.5 782.4 71.4 782.5 74.2 782.6 72.4 782.7 74.6 782.8 71.4 782.9 70.4 783.0 73.3 783.1 70.9 783.2 72.3 783.3 72.1 783.4 67.4 783.5 69.3 783.6 69.8 783.7 71.5 783.8 70.4 783.9 71.5 784.0 70.7 784.1 72.9 784.2 71.6 784.4 72.0 784.5 73.6 784.6 69.2 784.7 68.5 784.8 69.6 784.9 68.6 785.0 65.5 785.1 63.5 785.2 60.7 785.3 60.6 785.4 57.3 785.5 57.8 785.6 59.8 785.7 65.7 785.8 64.4 785.9 68.2 786.0 70.5 786.1 70.5 786.2 73.3 786.3 71.4 786.4 71.6 786.5 73.4 786.6 74.0 786.7 69.9 786.8 69.9 787.0 72.2 787.1 73.2 787.2 71.5 787.3 70.9 787.4 74.3 787.5 70.1 787.6 73.2 787.7 71.1 787.8 73.8 787.9 72.7 788.0 73.0 788.1 72.4 788.2 70.6 788.3 73.6 788.4 72.8 788.5 71.3 788.6 73.0 788.7 68.9 788.8 74.7 788.9 67.6 789.0 72.8 789.1 70.1 789.2 69.0 789.3 70.3 789.5 73.9 789.6 72.0 789.7 71.1 789.8 70.2 789.9 69.3 790.0 69.1 790.1 68.3 790.2 72.1 790.3 68.9 790.4 73.5 790.5 69.4 790.6 70.7 790.7 71.4 790.8 66.6 790.9 67.6 791.0 64.9 791.1 68.4 791.2 67.1 791.3 66.7 791.4 68.6 791.5 68.1 791.6 69.7 791.7 69.3 791.8 71.4 792.0 67.6 792.1 70.7 792.2 71.9 792.3 68.5 792.4 68.7 792.5 69.3 792.6 69.0 792.7 69.8 792.8 69.7 792.9 73.3 793.0 72.3 793.1 72.0 793.2 69.6 793.3 67.9 793.4 70.3 793.5 70.8 793.6 68.4 793.7 70.8 793.8 69.2 793.9 69.7 794.0 72.2 794.1 69.0 794.2 69.5 794.3 72.1 794.4 71.7 794.6 72.3 794.7 67.7 794.8 66.4 794.9 68.6 795.0 66.9 795.1 71.6 795.2 66.4 795.3 64.4 795.4 64.2 795.5 67.0 795.6 61.4 795.7 61.4 795.8 58.8 795.9 61.1 796.0 59.3 796.1 59.4 796.2 57.0 796.3 59.5 796.4 59.2 796.5 61.5 796.6 63.4 796.7 65.2 796.8 66.7 796.9 67.3 797.1 66.9 797.2 67.7 797.3 67.1 797.4 68.0 797.5 67.9 797.6 68.9 797.7 71.1 797.8 67.1 797.9 66.7 798.0 69.0 798.1 64.2 798.2 69.6 798.3 65.8 798.4 67.1 798.5 66.5 798.6 65.4 798.7 66.1 798.8 67.6 798.9 69.3 799.0 69.5 799.1 66.7 799.2 63.8 799.3 65.0 799.4 66.6 799.6 66.4 799.7 65.6 799.8 63.5 799.9 67.7 800.0 64.8 800.1 65.5 800.2 66.9 800.3 67.3 800.4 63.7 800.5 65.1 800.6 66.0 800.7 70.4 800.8 63.6 800.9 64.5 801.0 61.1 801.1 72.2 801.2 64.6 801.3 64.0 801.4 65.5 801.5 64.8 801.6 62.6 801.7 61.9 801.8 64.0 801.9 65.5 802.0 67.6 802.2 67.7 802.3 65.4 802.4 65.9 802.5 66.7 802.6 66.1 802.7 62.3 802.8 63.6 802.9 65.4 803.0 65.5 803.1 64.6 803.2 66.9 803.3 68.2 803.4 71.4 803.5 71.9 803.6 72.7 803.7 73.9 803.8 69.6 803.9 68.6 804.0 69.9 804.1 67.3 804.2 67.6 804.3 69.2 804.4 72.4 804.5 67.7 804.7 69.1 804.8 73.5 804.9 70.4 805.0 75.4 805.1 75.5 805.2 74.0 805.3 73.3 805.4 68.2 805.5 67.8 805.6 60.0 805.7 58.4 805.8 58.3 805.9 53.4 806.0 55.3 806.1 54.2 806.2 55.5 806.3 58.1 806.4 61.9 806.5 61.7 806.6 63.7 806.7 64.8 806.8 63.9 806.9 64.0 807.0 64.4 807.2 68.2 807.3 68.5 807.4 67.0 807.5 66.7 807.6 70.7 807.7 68.0 807.8 63.8 807.9 69.3 808.0 68.3 808.1 68.4 808.2 66.1 808.3 67.0 808.4 67.2 808.5 69.3 808.6 65.3 808.7 66.9 808.8 68.2 808.9 66.8 809.0 65.8 809.1 69.4 809.2 69.8 809.3 68.8 809.4 68.7 809.5 72.5 809.6 68.1 809.8 65.2 809.9 67.7 810.0 64.7 810.1 71.4 810.2 66.9 810.3 64.0 810.4 63.5 810.5 66.7 810.6 66.9 810.7 65.0 810.8 67.6 810.9 65.8 811.0 68.1 811.1 65.1 811.2 66.0 811.3 63.4 811.4 65.1 811.5 67.3 811.6 66.4 811.7 68.4 811.8 66.0 811.9 66.0 812.0 65.4 812.1 64.5 812.3 69.3 812.4 65.6 812.5 64.9 812.6 67.8 812.7 62.2 812.8 66.6 812.9 62.4 813.0 65.9 813.1 66.2 813.2 68.1 813.3 67.4 813.4 70.8 813.5 71.2 813.6 74.1 813.7 69.1 813.8 70.7 813.9 66.8 814.0 65.7 814.1 67.4 814.2 62.4 814.3 62.1 814.4 60.7 814.5 59.4 814.6 59.5 814.8 60.0 814.9 58.8 815.0 63.4 815.1 64.5 815.2 64.1 815.3 61.5 815.4 64.8 815.5 61.6 815.6 70.4 815.7 66.7 815.8 66.2 815.9 64.9 816.0 63.0 816.1 65.7 816.2 67.1 816.3 64.0 816.4 62.7 816.5 59.2 816.6 64.3 816.7 64.6 816.8 67.1 816.9 66.7 817.0 65.0 817.1 63.5 817.2 53.5 817.4 62.4 817.5 58.7 817.6 58.7 817.7 56.0 817.8 56.4 817.9 53.7 818.0 54.7 818.1 57.5 818.2 59.0 818.3 64.4 818.4 63.6 818.5 64.7 818.6 67.5 818.7 68.2 818.8 72.0 818.9 66.4 819.0 67.0 819.1 69.3 819.2 64.5 819.3 66.4 819.4 64.6 819.5 66.1 819.6 64.6 819.7 65.4 819.9 66.0 820.0 65.0 820.1 64.3 820.2 70.0 820.3 66.2 820.4 67.4 820.5 68.6 820.6 64.0 820.7 64.9 820.8 68.5 820.9 68.6 821.0 65.3 821.1 67.5 821.2 66.8 821.3 69.7 821.4 66.6 821.5 64.4 821.6 66.9 821.7 66.1 821.8 63.1 821.9 65.0 822.0 72.2 822.1 84.2 822.2 94.1 822.4 110.5 822.5 120.7 822.6 134.0 822.7 131.2 822.8 136.6 822.9 139.2 823.0 142.4 823.1 144.8 823.2 154.3 823.3 137.7 823.4 146.1 823.5 147.7 823.6 153.2 823.7 149.0 823.8 148.8 823.9 152.1 824.0 150.2 824.1 156.7 824.2 153.2 824.3 152.5 824.4 154.0 824.5 155.9 824.6 159.8 824.7 163.8 824.8 159.7 825.0 168.4 825.1 171.6 825.2 167.0 825.3 175.4 825.4 171.8 825.5 167.7 825.6 167.3 825.7 172.7 825.8 170.7 825.9 168.4 826.0 170.2 826.1 172.7 826.2 168.5 826.3 167.5 826.4 167.9 826.5 164.8 826.6 168.0 826.7 170.8 826.8 168.6 826.9 163.6 827.0 174.4 827.1 172.6 827.2 175.7 827.3 171.4 827.5 176.7 827.6 169.8 827.7 167.3 827.8 172.3 827.9 173.1 828.0 176.3 828.1 171.7 828.2 175.6 828.3 175.6 828.4 174.6 828.5 175.4 828.6 169.5 828.7 167.0 828.8 179.6 828.9 175.6 829.0 172.2 829.1 178.0 829.2 175.8 829.3 171.7 829.4 167.4 829.5 167.7 829.6 173.5 829.7 170.6 829.8 172.9 830.0 171.5 830.1 174.8 830.2 177.6 830.3 171.8 830.4 167.1 830.5 167.7 830.6 163.4 830.7 170.6 830.8 172.4 830.9 168.8 831.0 173.9 831.1 166.9 831.2 171.3 831.3 169.8 831.4 169.2 831.5 179.1 831.6 173.0 831.7 165.9 831.8 172.4 831.9 168.5 832.0 172.6 832.1 176.6 832.2 174.3 832.3 173.4 832.4 174.0 832.6 173.1 832.7 181.6 832.8 174.8 832.9 182.9 833.0 176.6 833.1 177.0 833.2 174.8 833.3 174.4 833.4 170.7 833.5 177.5 833.6 171.5 833.7 173.1 833.8 174.0 833.9 178.2 834.0 173.2 834.1 173.4 834.2 171.9 834.3 175.8 834.4 177.3 834.5 174.4 834.6 174.7 834.7 174.0 834.8 169.5 834.9 178.2 835.1 170.8 835.2 187.5 835.3 173.6 835.4 179.3 835.5 168.6 835.6 178.7 835.7 171.9 835.8 178.1 835.9 179.4 836.0 171.9 836.1 170.9 836.2 176.8 836.3 165.8 836.4 175.7 836.5 171.3 836.6 180.4 836.7 181.2 836.8 178.5 836.9 183.4 837.0 177.5 837.1 186.3 837.2 179.3 837.3 181.6 837.4 182.6 837.6 179.5 837.7 181.6 837.8 182.8 837.9 179.7 838.0 181.7 838.1 181.1 838.2 176.8 838.3 181.3 838.4 178.0 838.5 182.1 838.6 178.3 838.7 179.7 838.8 183.6 838.9 244.1 839.0 315.0 839.1 385.8 839.2 445.0 839.3 445.0 839.4 445.0 839.5 445.0 839.6 445.0 839.7 445.0 839.8 445.0 839.9 445.0 840.0 445.0 840.2 445.0 840.3 445.0 840.4 445.0 840.5 445.0 840.6 445.0 840.7 445.0 840.8 445.0 840.9 445.0 841.0 445.0 841.1 445.0 841.2 445.0 841.3 445.0 841.4 445.0 841.5 445.0 841.6 445.0 841.7 445.0 841.8 445.0 841.9 445.0 842.0 445.0 842.1 445.0 842.2 445.0 842.3 445.0 842.4 445.0 842.5 445.0 842.7 445.0 842.8 445.0 842.9 445.0 843.0 445.0 843.1 445.0 843.2 445.0 843.3 445.0 843.4 445.0 843.5 445.0 843.6 445.0 843.7 445.0 843.8 445.0 843.9 445.0 844.0 445.0 844.1 445.0 844.2 445.0 844.3 445.0 844.4 445.0 844.5 445.0 844.6 445.0 844.7 445.0 844.8 445.0 844.9 445.0 845.0 445.0 845.2 445.0 845.3 445.0 845.4 445.0 845.5 445.0 845.6 445.0 845.7 445.0 845.8 445.0 845.9 445.0 846.0 445.0 846.1 445.0 846.2 445.0 846.3 445.0 846.4 445.0 846.5 445.0 846.6 445.0 846.7 445.0 846.8 445.0 846.9 445.0 847.0 445.0 847.1 445.0 847.2 445.0 847.3 445.0 847.4 445.0 847.5 445.0 847.6 445.0 847.8 445.0 847.9 445.0 848.0 445.0 848.1 445.0 848.2 445.0 848.3 445.0 848.4 445.0 848.5 445.0 848.6 445.0 848.7 445.0 848.8 445.0 848.9 445.0 849.0 445.0 849.1 445.0 849.2 445.0 849.3 445.0 849.4 445.0 849.5 445.0 849.6 445.0 849.7 445.0 849.8 445.0 849.9 445.0 850.0 445.0 850.1 445.0 850.3 445.0 850.4 445.0 850.5 445.0 850.6 445.0 850.7 445.0 850.8 445.0 850.9 445.0 851.0 445.0 851.1 445.0 851.2 445.0 851.3 445.0 851.4 445.0 851.5 445.0 851.6 445.0 851.7 445.0 851.8 445.0 851.9 445.0 852.0 445.0 852.1 445.0 852.2 445.0 852.3 445.0 852.4 445.0 852.5 445.0 852.6 445.0 852.8 445.0 852.9 445.0 853.0 445.0 853.1 445.0 853.2 445.0 853.3 445.0 853.4 445.0 853.5 445.0 853.6 445.0 853.7 445.0 853.8 445.0 853.9 445.0 854.0 445.0 854.1 445.0 854.2 445.0 854.3 445.0 854.4 445.0 854.5 445.0 854.6 445.0 854.7 445.0 854.8 445.0 854.9 445.0 855.0 445.0 855.1 445.0 855.2 445.0 855.4 445.0 855.5 445.0 855.6 445.0 855.7 445.0 855.8 445.0 855.9 445.0 856.0 445.0 856.1 445.0 856.2 445.0 856.3 445.0 856.4 445.0 856.5 445.0 856.6 445.0 856.7 445.0 856.8 445.0 856.9 445.0 857.0 445.0 857.1 445.0 857.2 445.0 857.3 445.0 857.4 445.0 857.5 445.0 857.6 445.0 857.7 445.0 857.9 445.0 858.0 445.0 858.1 445.0 858.2 445.0 858.3 445.0 858.4 445.0 858.5 445.0 858.6 445.0 858.7 445.0 858.8 445.0 858.9 445.0 859.0 445.0 859.1 445.0 859.2 445.0 859.3 445.0 859.4 445.0 859.5 445.0 859.6 445.0 859.7 445.0 859.8 445.0 859.9 445.0 860.0 445.0 860.1 445.0 860.2 445.0 860.4 445.0 860.5 445.0 860.6 445.0 860.7 445.0 860.8 445.0 860.9 445.0 861.0 445.0 861.1 445.0 861.2 445.0 861.3 445.0 861.4 445.0 861.5 445.0 861.6 445.0 861.7 445.0 861.8 445.0 861.9 445.0 862.0 445.0 862.1 445.0 862.2 445.0 862.3 445.0 862.4 445.0 862.5 445.0 862.6 445.0 862.7 445.0 862.8 445.0 863.0 445.0 863.1 445.0 863.2 445.0 863.3 445.0 863.4 445.0 863.5 445.0 863.6 445.0 863.7 445.0 863.8 445.0 863.9 445.0 864.0 445.0 864.1 445.0 864.2 445.0 864.3 445.0 864.4 445.0 864.5 445.0 864.6 445.0 864.7 445.0 864.8 445.0 864.9 445.0 865.0 445.0 865.1 445.0 865.2 445.0 865.3 445.0 865.5 445.0 865.6 445.0 865.7 445.0 865.8 445.0 865.9 445.0 866.0 445.0 866.1 445.0 866.2 445.0 866.3 445.0 866.4 445.0 866.5 445.0 866.6 445.0 866.7 445.0 866.8 445.0 866.9 445.0 867.0 445.0 867.1 445.0 867.2 445.0 867.3 445.0 867.4 445.0 867.5 445.0 867.6 445.0 867.7 445.0 867.8 445.0 868.0 445.0 868.1 445.0 868.2 445.0 868.3 445.0 868.4 445.0 868.5 445.0 868.6 445.0 868.7 445.0 868.8 445.0 868.9 445.0 869.0 445.0 869.1 445.0 869.2 445.0 869.3 445.0 869.4 445.0 869.5 445.0 869.6 445.0 869.7 445.0 869.8 445.0 869.9 445.0 870.0 445.0 870.1 445.0 870.2 445.0 870.3 445.0 870.4 445.0 870.6 445.0 870.7 445.0 870.8 445.0 870.9 445.0 871.0 445.0 871.1 445.0 871.2 445.0 871.3 445.0 871.4 445.0 871.5 445.0 871.6 445.0 871.7 445.0 871.8 445.0 871.9 445.0 872.0 445.0 872.1 445.0 872.2 445.0 872.3 445.0 872.4 445.0 872.5 445.0 872.6 445.0 872.7 445.0 872.8 445.0 872.9 445.0 873.1 445.0 873.2 445.0 873.3 445.0 873.4 445.0 873.5 445.0 873.6 445.0 873.7 445.0 873.8 445.0 873.9 445.0 874.0 445.0 874.1 445.0 874.2 445.0 874.3 445.0 874.4 445.0 874.5 445.0 874.6 445.0 874.7 445.0 874.8 445.0 874.9 445.0 875.0 445.0 875.1 445.0 875.2 445.0 875.3 445.0 875.4 445.0 875.6 445.0 875.7 445.0 875.8 445.0 875.9 445.0 876.0 445.0 876.1 445.0 876.2 445.0 876.3 445.0 876.4 445.0 876.5 445.0 876.6 445.0 876.7 445.0 876.8 445.0 876.9 445.0 877.0 445.0 877.1 445.0 877.2 445.0 877.3 445.0 877.4 445.0 877.5 445.0 877.6 445.0 877.7 445.0 877.8 445.0 877.9 445.0 878.0 445.0 878.2 445.0 878.3 445.0 878.4 445.0 878.5 445.0 878.6 445.0 878.7 445.0 878.8 445.0 878.9 445.0 879.0 445.0 879.1 445.0 879.2 445.0 879.3 445.0 879.4 445.0 879.5 445.0 879.6 445.0 879.7 445.0 879.8 445.0 879.9 445.0 880.0 445.0 880.1 445.0 880.2 445.0 880.3 445.0 880.4 445.0 880.5 445.0 880.7 445.0 880.8 445.0 880.9 445.0 881.0 445.0 881.1 445.0 881.2 445.0 881.3 445.0 881.4 445.0 881.5 445.0 881.6 445.0 881.7 445.0 881.8 445.0 881.9 445.0 882.0 445.0 882.1 445.0 882.2 445.0 882.3 445.0 882.4 445.0 882.5 445.0 882.6 445.0 882.7 445.0 882.8 445.0 882.9 445.0 883.0 445.0 883.2 445.0 883.3 445.0 883.4 445.0 883.5 445.0 883.6 445.0 883.7 445.0 883.8 445.0 883.9 445.0 884.0 445.0 884.1 445.0 884.2 445.0 884.3 445.0 884.4 445.0 884.5 445.0 884.6 445.0 884.7 445.0 884.8 445.0 884.9 445.0 885.0 445.0 885.1 445.0 885.2 445.0 885.3 445.0 885.4 445.0 885.5 445.0 885.7 445.0 885.8 445.0 885.9 445.0 886.0 445.0 886.1 445.0 886.2 445.0 886.3 445.0 886.4 445.0 886.5 445.0 886.6 445.0 886.7 445.0 886.8 445.0 886.9 445.0 887.0 445.0 887.1 445.0 887.2 445.0 887.3 445.0 887.4 445.0 887.5 445.0 887.6 445.0 887.7 445.0 887.8 445.0 887.9 445.0 888.0 445.0 888.1 445.0 888.3 445.0 888.4 445.0 888.5 445.0 888.6 445.0 888.7 445.0 888.8 445.0 888.9 445.0 889.0 445.0 889.1 445.0 889.2 445.0 889.3 445.0 889.4 445.0 889.5 445.0 889.6 445.0 889.7 445.0 889.8 445.0 889.9 445.0 890.0 445.0 890.1 445.0 890.2 445.0 890.3 445.0 890.4 445.0 890.5 445.0 890.6 445.0 890.8 445.0 890.9 445.0 891.0 445.0 891.1 445.0 891.2 445.0 891.3 445.0 891.4 445.0 891.5 445.0 891.6 445.0 891.7 445.0 891.8 445.0 891.9 445.0 892.0 445.0 892.1 445.0 892.2 445.0 892.3 445.0 892.4 445.0 892.5 445.0 892.6 445.0 892.7 445.0 892.8 445.0 892.9 445.0 893.0 445.0 893.1 445.0 893.3 445.0 893.4 445.0 893.5 445.0 893.6 445.0 893.7 445.0 893.8 445.0 893.9 445.0 894.0 445.0 894.1 445.0 894.2 445.0 894.3 445.0 894.4 445.0 894.5 445.0 894.6 445.0 894.7 445.0 894.8 445.0 894.9 445.0 895.0 445.0 895.1 445.0 895.2 445.0 895.3 445.0 895.4 445.0 895.5 445.0 895.6 445.0 895.7 445.0 895.9 445.0 896.0 445.0 896.1 445.0 896.2 445.0 896.3 445.0 896.4 445.0 896.5 445.0 896.6 445.0 896.7 445.0 896.8 445.0 896.9 445.0 897.0 445.0 897.1 445.0 897.2 445.0 897.3 445.0 897.4 445.0 897.5 445.0 897.6 445.0 897.7 445.0 897.8 445.0 897.9 445.0 898.0 445.0 898.1 445.0 898.2 445.0 898.4 445.0 898.5 445.0 898.6 445.0 898.7 445.0 898.8 445.0 898.9 445.0 899.0 445.0 899.1 445.0 899.2 445.0 899.3 445.0 899.4 445.0 899.5 445.0 899.6 445.0 899.7 445.0 899.8 445.0 899.9 445.0 900.0 445.0 900.1 445.0 900.2 445.0 900.3 445.0 900.4 445.0 900.5 445.0 900.6 445.0 900.7 445.0 900.9 445.0 901.0 445.0 901.1 445.0 901.2 445.0 901.3 445.0 901.4 445.0 901.5 445.0 901.6 445.0 901.7 445.0 901.8 445.0 901.9 445.0 902.0 445.0 902.1 445.0 902.2 445.0 902.3 445.0 902.4 445.0 902.5 445.0 902.6 445.0 902.7 445.0 902.8 445.0 902.9 445.0 903.0 445.0 903.1 445.0 903.2 445.0 903.3 445.0 903.5 445.0 903.6 445.0 903.7 445.0 903.8 445.0 903.9 445.0 904.0 445.0 904.1 445.0 904.2 445.0 904.3 445.0 904.4 445.0 904.5 445.0 904.6 445.0 904.7 445.0 904.8 445.0 904.9 445.0 905.0 445.0 905.1 445.0 905.2 445.0 905.3 445.0 905.4 445.0 905.5 445.0 905.6 445.0 905.7 445.0 905.8 445.0 906.0 445.0 906.1 445.0 906.2 445.0 906.3 445.0 906.4 445.0 906.5 445.0 906.6 445.0 906.7 445.0 906.8 445.0 906.9 445.0 907.0 445.0 907.1 445.0 907.2 445.0 907.3 445.0 907.4 445.0 907.5 445.0 907.6 445.0 907.7 445.0 907.8 445.0 907.9 445.0 908.0 445.0 908.1 445.0 908.2 445.0 908.3 445.0 908.5 445.0 908.6 445.0 908.7 445.0 908.8 445.0 908.9 445.0 909.0 445.0 909.1 445.0 909.2 445.0 909.3 445.0 909.4 445.0 909.5 445.0 909.6 445.0 909.7 445.0 909.8 445.0 909.9 445.0 910.0 445.0 910.1 445.0 910.2 445.0 910.3 445.0 910.4 445.0 910.5 445.0 910.6 445.0 910.7 445.0 910.8 445.0 910.9 445.0 911.1 445.0 911.2 445.0 911.3 445.0 911.4 445.0 911.5 445.0 911.6 445.0 911.7 445.0 911.8 445.0 911.9 445.0 912.0 445.0 912.1 445.0 912.2 445.0 912.3 445.0 912.4 445.0 912.5 445.0 912.6 445.0 912.7 445.0 912.8 445.0 912.9 445.0 913.0 445.0 913.1 445.0 913.2 445.0 913.3 445.0 913.4 445.0 913.6 445.0 913.7 445.0 913.8 445.0 913.9 445.0 914.0 445.0 914.1 445.0 914.2 445.0 914.3 445.0 914.4 445.0 914.5 445.0 914.6 445.0 914.7 445.0 914.8 445.0 914.9 445.0 915.0 445.0 915.1 445.0 915.2 445.0 915.3 445.0 915.4 445.0 915.5 445.0 915.6 445.0 915.7 445.0 915.8 445.0 915.9 445.0 916.1 445.0 916.2 445.0 916.3 445.0 916.4 445.0 916.5 445.0 916.6 445.0 916.7 445.0 916.8 445.0 916.9 445.0 917.0 445.0 917.1 445.0 917.2 445.0 917.3 445.0 917.4 445.0 917.5 445.0 917.6 445.0 917.7 445.0 917.8 445.0 917.9 445.0 918.0 445.0 918.1 445.0 918.2 445.0 918.3 445.0 918.4 445.0 918.5 445.0 918.7 445.0 918.8 445.0 918.9 445.0 919.0 445.0 919.1 445.0 919.2 445.0 919.3 445.0 919.4 445.0 919.5 445.0 919.6 445.0 919.7 445.0 919.8 445.0 919.9 445.0 920.0 445.0 920.1 445.0 920.2 445.0 920.3 445.0 920.4 445.0 920.5 445.0 920.6 445.0 920.7 445.0 920.8 445.0 920.9 445.0 921.0 445.0 921.2 445.0 921.3 445.0 921.4 445.0 921.5 445.0 921.6 445.0 921.7 445.0 921.8 445.0 921.9 445.0 922.0 445.0 922.1 445.0 922.2 445.0 922.3 445.0 922.4 445.0 922.5 445.0 922.6 445.0 922.7 445.0 922.8 445.0 922.9 445.0 923.0 445.0 923.1 445.0 923.2 445.0 923.3 445.0 923.4 445.0 923.5 445.0 923.7 445.0 923.8 445.0 923.9 445.0 924.0 445.0 924.1 445.0 924.2 445.0 924.3 445.0 924.4 445.0 924.5 445.0 924.6 445.0 924.7 445.0 924.8 445.0 924.9 445.0 925.0 445.0 925.1 445.0 925.2 445.0 925.3 445.0 925.4 445.0 925.5 445.0 925.6 445.0 925.7 445.0 925.8 445.0 925.9 445.0 926.0 445.0 926.1 445.0 926.3 445.0 926.4 445.0 926.5 445.0 926.6 445.0 926.7 445.0 926.8 445.0 926.9 445.0 927.0 445.0 927.1 445.0 927.2 445.0 927.3 445.0 927.4 445.0 927.5 445.0 927.6 445.0 927.7 445.0 927.8 445.0 927.9 445.0 928.0 445.0 928.1 445.0 928.2 445.0 928.3 445.0 928.4 445.0 928.5 445.0 928.6 445.0 928.8 445.0 928.9 445.0 929.0 445.0 929.1 445.0 929.2 445.0 929.3 445.0 929.4 445.0 929.5 445.0 929.6 445.0 929.7 445.0 929.8 445.0 929.9 445.0 930.0 445.0 930.1 445.0 930.2 445.0 930.3 445.0 930.4 445.0 930.5 445.0 930.6 445.0 930.7 445.0 930.8 445.0 930.9 445.0 931.0 445.0 931.1 445.0 931.3 445.0 931.4 445.0 931.5 445.0 931.6 445.0 931.7 445.0 931.8 445.0 931.9 445.0 932.0 445.0 932.1 445.0 932.2 445.0 932.3 445.0 932.4 445.0 932.5 445.0 932.6 445.0 932.7 445.0 932.8 445.0 932.9 445.0 933.0 445.0 933.1 445.0 933.2 445.0 933.3 445.0 933.4 445.0 933.5 445.0 933.6 445.0 933.7 445.0 933.9 445.0 934.0 445.0 934.1 445.0 934.2 445.0 934.3 445.0 934.4 445.0 934.5 445.0 934.6 445.0 934.7 445.0 934.8 445.0 934.9 445.0 935.0 445.0 935.1 445.0 935.2 445.0 935.3 445.0 935.4 445.0 935.5 445.0 935.6 445.0 935.7 445.0 935.8 445.0 935.9 445.0 936.0 445.0 936.1 445.0 936.2 445.0 936.4 445.0 936.5 445.0 936.6 445.0 936.7 445.0 936.8 445.0 936.9 445.0 937.0 445.0 937.1 445.0 937.2 445.0 937.3 445.0 937.4 445.0 937.5 445.0 937.6 445.0 937.7 445.0 937.8 445.0 937.9 445.0 938.0 445.0 938.1 445.0 938.2 445.0 938.3 445.0 938.4 445.0 938.5 445.0 938.6 445.0 938.7 445.0 938.9 445.0 939.0 445.0 939.1 445.0 939.2 445.0 939.3 445.0 939.4 445.0 939.5 445.0 939.6 445.0 939.7 445.0 939.8 445.0 939.9 445.0 940.0 445.0 940.1 445.0 940.2 445.0 940.3 445.0 940.4 445.0 940.5 445.0 940.6 445.0 940.7 445.0 940.8 445.0 940.9 445.0 941.0 445.0 941.1 445.0 941.2 445.0 941.3 445.0 941.5 445.0 941.6 445.0 941.7 445.0 941.8 445.0 941.9 445.0 942.0 445.0 942.1 445.0 942.2 445.0 942.3 445.0 942.4 445.0 942.5 445.0 942.6 445.0 942.7 445.0 942.8 445.0 942.9 445.0 943.0 445.0 943.1 445.0 943.2 445.0 943.3 445.0 943.4 445.0 943.5 445.0 943.6 445.0 943.7 445.0 943.8 445.0 944.0 445.0 944.1 445.0 944.2 445.0 944.3 445.0 944.4 445.0 944.5 445.0 944.6 445.0 944.7 445.0 944.8 445.0 944.9 445.0 945.0 445.0 945.1 445.0 945.2 445.0 945.3 445.0 945.4 445.0 945.5 445.0 945.6 445.0 945.7 445.0 945.8 445.0 945.9 445.0 946.0 445.0 946.1 445.0 946.2 445.0 946.3 445.0 946.5 445.0 946.6 445.0 946.7 445.0 946.8 445.0 946.9 445.0 947.0 445.0 947.1 445.0 947.2 445.0 947.3 445.0 947.4 445.0 947.5 445.0 947.6 445.0 947.7 445.0 947.8 445.0 947.9 445.0 948.0 445.0 948.1 445.0 948.2 445.0 948.3 445.0 948.4 445.0 948.5 445.0 948.6 445.0 948.7 445.0 948.8 445.0 948.9 445.0 949.1 445.0 949.2 445.0 949.3 445.0 949.4 445.0 949.5 445.0 949.6 445.0 949.7 445.0 949.8 445.0 949.9 445.0 950.0 445.0 950.1 445.0 950.2 445.0 950.3 445.0 950.4 445.0 950.5 445.0 950.6 445.0 950.7 445.0 950.8 445.0 950.9 445.0 951.0 445.0 951.1 445.0 951.2 445.0 951.3 445.0 951.4 445.0 951.6 445.0 951.7 445.0 951.8 445.0 951.9 445.0 952.0 445.0 952.1 445.0 952.2 445.0 952.3 445.0 952.4 445.0 952.5 445.0 952.6 445.0 952.7 445.0 952.8 445.0 952.9 445.0 953.0 445.0 953.1 445.0 953.2 445.0 953.3 445.0 953.4 445.0 953.5 445.0 953.6 445.0 953.7 445.0 953.8 445.0 953.9 445.0 954.1 445.0 954.2 445.0 954.3 445.0 954.4 445.0 954.5 445.0 954.6 445.0 954.7 445.0 954.8 445.0 954.9 445.0 955.0 445.0 955.1 445.0 955.2 445.0 955.3 445.0 955.4 445.0 955.5 445.0 955.6 445.0 955.7 445.0 955.8 445.0 955.9 445.0 956.0 445.0 956.1 445.0 956.2 445.0 956.3 445.0 956.4 445.0 956.5 445.0 956.7 445.0 956.8 445.0 956.9 445.0 957.0 445.0 957.1 445.0 957.2 445.0 957.3 445.0 957.4 445.0 957.5 445.0 957.6 445.0 957.7 445.0 957.8 445.0 957.9 445.0 958.0 445.0 958.1 445.0 958.2 445.0 958.3 445.0 958.4 445.0 958.5 445.0 958.6 445.0 958.7 445.0 958.8 445.0 958.9 445.0 959.0 445.0 959.2 445.0 959.3 445.0 959.4 445.0 959.5 445.0 959.6 445.0 959.7 445.0 959.8 445.0 959.9 445.0 960.0 445.0 960.1 445.0 960.2 445.0 960.3 445.0 960.4 445.0 960.5 445.0 960.6 445.0 960.7 445.0 960.8 445.0 960.9 445.0 961.0 445.0 961.1 445.0 961.2 445.0 961.3 445.0 961.4 445.0 961.5 445.0 961.7 445.0 961.8 445.0 961.9 445.0 962.0 445.0 962.1 445.0 962.2 445.0 962.3 445.0 962.4 445.0 962.5 445.0 962.6 445.0 962.7 445.0 962.8 445.0 962.9 445.0 963.0 445.0 963.1 445.0 963.2 445.0 963.3 445.0 963.4 445.0 963.5 445.0 963.6 445.0 963.7 445.0 963.8 445.0 963.9 445.0 964.0 445.0 964.1 445.0 964.3 445.0 964.4 445.0 964.5 445.0 964.6 445.0 964.7 445.0 964.8 445.0 964.9 445.0 965.0 445.0 965.1 445.0 965.2 445.0 965.3 445.0 965.4 445.0 965.5 445.0 965.6 445.0 965.7 445.0 965.8 445.0 965.9 445.0 966.0 445.0 966.1 445.0 966.2 445.0 966.3 445.0 966.4 445.0 966.5 445.0 966.6 445.0 966.8 445.0 966.9 445.0 967.0 445.0 967.1 445.0 967.2 445.0 967.3 445.0 967.4 445.0 967.5 445.0 967.6 445.0 967.7 445.0 967.8 445.0 967.9 445.0 968.0 445.0 968.1 445.0 968.2 445.0 968.3 445.0 968.4 445.0 968.5 445.0 968.6 445.0 968.7 445.0 968.8 445.0 968.9 445.0 969.0 445.0 969.1 445.0 969.3 445.0 969.4 445.0 969.5 445.0 969.6 445.0 969.7 445.0 969.8 445.0 969.9 445.0 970.0 445.0 970.1 445.0 970.2 445.0 970.3 445.0 970.4 445.0 970.5 445.0 970.6 445.0 970.7 445.0 970.8 445.0 970.9 445.0 971.0 445.0 971.1 445.0 971.2 445.0 971.3 445.0 971.4 445.0 971.5 445.0 971.6 445.0 971.8 445.0 971.9 445.0 972.0 445.0 972.1 445.0 972.2 445.0 972.3 445.0 972.4 445.0 972.5 445.0 972.6 445.0 972.7 445.0 972.8 445.0 972.9 445.0 973.0 445.0 973.1 445.0 973.2 445.0 973.3 445.0 973.4 445.0 973.5 445.0 973.6 445.0 973.7 445.0 973.8 394.9 973.9 330.0 974.0 262.6 974.1 210.1 974.2 213.6 974.4 209.8 974.5 214.2 974.6 210.4 974.7 212.5 974.8 213.8 974.9 213.8 975.0 215.9 975.1 215.8 975.2 209.6 975.3 217.7 975.4 214.3 975.5 221.8 975.6 219.6 975.7 216.8 975.8 225.4 975.9 220.2 976.0 230.4 976.1 227.5 976.2 225.5 976.3 222.2 976.4 221.8 976.5 227.8 976.6 226.5 976.7 225.0 976.9 230.4 977.0 222.0 977.1 218.4 977.2 216.7 977.3 221.1 977.4 219.0 977.5 219.2 977.6 216.9 977.7 216.1 977.8 211.9 977.9 212.6 978.0 215.5 978.1 209.3 978.2 210.0 978.3 214.0 978.4 212.0 978.5 212.2 978.6 216.8 978.7 209.6 978.8 207.4 978.9 201.9 979.0 206.8 979.1 209.3 979.2 208.5 979.4 205.0 979.5 203.1 979.6 207.2 979.7 204.2 979.8 201.7 979.9 209.2 980.0 195.6 980.1 198.7 980.2 194.9 980.3 197.4 980.4 198.0 980.5 196.8 980.6 196.8 980.7 193.9 980.8 197.1 980.9 199.8 981.0 200.3 981.1 201.9 981.2 195.3 981.3 201.9 981.4 193.0 981.5 197.3 981.6 196.7 981.7 191.1 981.8 196.1 982.0 196.6 982.1 193.5 982.2 194.3 982.3 200.2 982.4 189.1 982.5 195.3 982.6 203.6 982.7 199.4 982.8 196.4 982.9 198.4 983.0 196.8 983.1 191.6 983.2 195.9 983.3 193.5 983.4 198.7 983.5 204.1 983.6 197.2 983.7 206.8 983.8 201.2 983.9 202.4 984.0 208.1 984.1 207.6 984.2 207.0 984.3 203.6 984.5 199.3 984.6 201.4 984.7 196.7 984.8 202.0 984.9 207.6 985.0 209.7 985.1 207.7 985.2 211.0 985.3 211.4 985.4 209.9 985.5 212.6 985.6 209.5 985.7 215.8 985.8 218.6 985.9 220.7 986.0 224.2 986.1 220.1 986.2 219.9 986.3 221.9 986.4 220.6 986.5 214.5 986.6 226.3 986.7 224.4 986.8 225.8 987.0 226.5 987.1 220.2 987.2 226.5 987.3 222.0 987.4 231.9 987.5 222.3 987.6 220.3 987.7 231.5 987.8 229.4 987.9 230.8 988.0 229.6 988.1 236.8 988.2 230.2 988.3 227.7 988.4 231.0 988.5 236.8 988.6 231.5 988.7 229.5 988.8 226.6 988.9 231.2 989.0 232.7 989.1 227.0 989.2 228.1 989.3 226.0 989.4 229.1 989.6 225.8 989.7 227.5 989.8 234.6 989.9 228.3 990.0 224.6 990.1 226.8 990.2 221.5 990.3 227.7 990.4 223.7 990.5 230.5 990.6 224.6 990.7 225.7 990.8 226.8 990.9 226.4 991.0 221.3 991.1 219.5 991.2 222.7 991.3 223.9 991.4 220.5 991.5 214.6 991.6 219.1 991.7 209.5 991.8 216.4 991.9 206.2 992.1 202.2 992.2 200.7 992.3 206.4 992.4 207.8 992.5 210.9 992.6 205.2 992.7 210.1 992.8 212.1 992.9 214.8 993.0 212.7 993.1 213.3 993.2 209.5 993.3 222.1 993.4 210.4 993.5 215.7 993.6 213.0 993.7 212.0 993.8 212.6 993.9 209.0 994.0 210.1 994.1 215.2 994.2 210.7 994.3 210.6 994.4 209.7 994.6 210.1 994.7 209.6 994.8 205.9 994.9 213.4 995.0 202.0 995.1 210.9 995.2 211.9 995.3 205.3 995.4 203.7 995.5 203.7 995.6 204.7 995.7 206.8 995.8 206.4 995.9 206.0 996.0 207.2 996.1 208.2 996.2 199.4 996.3 197.6 996.4 202.3 996.5 202.7 996.6 202.9 996.7 206.3 996.8 202.8 996.9 200.9 997.0 198.4 997.2 200.6 997.3 203.8 997.4 193.2 997.5 189.4 997.6 201.3 997.7 195.6 997.8 191.8 997.9 197.0 998.0 197.1 998.1 190.7 998.2 193.3 998.3 193.7 998.4 185.8 998.5 186.7 998.6 189.6 998.7 192.3 998.8 192.4 998.9 188.6 999.0 193.4 999.1 187.4 999.2 186.8 999.3 192.4 999.4 187.8 999.5 184.3 999.7 187.0 999.8 191.8 999.9 190.5 1000.0 191.2 1000.1 188.7 1000.2 188.9 1000.3 189.6 1000.4 183.4 1000.5 183.1 1000.6 190.5 1000.7 195.2 1000.8 190.4 1000.9 192.7 1001.0 193.5 1001.1 199.9 1001.2 196.3 1001.3 198.7 1001.4 189.2 1001.5 185.4 1001.6 192.6 1001.7 196.1 1001.8 186.6 1001.9 186.2 1002.0 181.0 1002.2 182.1 1002.3 180.0 1002.4 170.0 1002.5 180.9 1002.6 178.7 1002.7 176.1 1002.8 183.3 1002.9 174.1 1003.0 178.4 1003.1 181.8 1003.2 180.3 1003.3 175.2 1003.4 175.1 1003.5 174.1 1003.6 175.9 1003.7 180.1 1003.8 176.1 1003.9 178.7 1004.0 169.8 1004.1 184.8 1004.2 171.6 1004.3 174.2 1004.4 172.0 1004.5 172.0 1004.6 173.1 1004.8 172.2 1004.9 172.0 1005.0 157.3 1005.1 160.2 1005.2 157.9 1005.3 156.8 1005.4 162.5 1005.5 156.0 1005.6 151.9 1005.7 146.2 1005.8 150.3 1005.9 144.1 1006.0 144.7 1006.1 141.4 1006.2 142.8 1006.3 137.6 1006.4 138.9 1006.5 145.2 1006.6 134.2 1006.7 130.3 1006.8 140.7 1006.9 133.8 1007.0 140.6 1007.1 152.3 1007.3 130.3 1007.4 135.3 1007.5 132.0 1007.6 135.5 1007.7 131.2 1007.8 134.4 1007.9 127.9 1008.0 125.8 1008.1 129.5 1008.2 134.3 1008.3 132.4 1008.4 133.0 1008.5 126.7 1008.6 126.2 1008.7 129.7 1008.8 123.8 1008.9 128.3 1009.0 119.7 1009.1 122.5 1009.2 120.3 1009.3 128.3 1009.4 128.3 1009.5 131.1 1009.6 124.1 1009.8 129.5 1009.9 122.4 1010.0 124.3 1010.1 121.1 1010.2 127.1 1010.3 124.8 1010.4 122.6 1010.5 120.3 1010.6 126.7 1010.7 121.2 1010.8 124.5 1010.9 117.8 1011.0 120.4 1011.1 121.0 1011.2 119.8 1011.3 116.7 1011.4 121.4 1011.5 115.4 1011.6 121.1 1011.7 114.9 1011.8 119.0 1011.9 113.2 1012.0 115.4 1012.1 111.9 1012.2 109.4 1012.4 113.9 1012.5 116.4 1012.6 111.2 1012.7 109.1 1012.8 109.8 1012.9 113.9 1013.0 106.9 1013.1 110.7 1013.2 105.6 1013.3 110.0 1013.4 106.2 1013.5 102.5 1013.6 108.9 1013.7 106.3 1013.8 102.5 1013.9 102.7 1014.0 102.5 1014.1 104.4 1014.2 108.8 1014.3 103.0 1014.4 107.2 1014.5 101.9 1014.6 110.6 1014.7 96.9 1014.9 96.0 1015.0 100.0 1015.1 103.6 1015.2 100.8 1015.3 96.9 1015.4 94.8 1015.5 99.4 1015.6 92.5 1015.7 94.5 1015.8 93.6 1015.9 96.8 1016.0 94.5 1016.1 97.4 1016.2 93.8 1016.3 96.6 1016.4 89.3 1016.5 93.1 1016.6 92.9 1016.7 91.7 1016.8 92.3 1016.9 98.6 1017.0 88.3 1017.1 93.3 1017.2 94.4 1017.4 95.6 1017.5 94.8 1017.6 93.8 1017.7 90.6 1017.8 93.5 1017.9 89.8 1018.0 88.5 1018.1 90.2 1018.2 79.9 1018.3 88.0 1018.4 86.7 1018.5 87.4 1018.6 87.2 1018.7 83.3 1018.8 80.5 1018.9 84.2 1019.0 86.1 1019.1 80.6 1019.2 89.1 1019.3 78.6 1019.4 80.5 1019.5 77.4 1019.6 82.2 1019.7 77.5 1019.8 78.5 1020.0 76.9 1020.1 73.5 1020.2 78.0 1020.3 80.0 1020.4 75.3 1020.5 80.2 1020.6 88.0 1020.7 85.1 1020.8 79.7 1020.9 78.3 1021.0 78.3 1021.1 78.2 1021.2 83.8 1021.3 80.2 1021.4 83.1 1021.5 82.2 1021.6 83.0 1021.7 82.2 1021.8 81.3 1021.9 80.3 1022.0 83.2 1022.1 77.5 1022.2 82.7 1022.3 77.0 1022.5 78.7 1022.6 85.6 1022.7 79.5 1022.8 86.3 1022.9 77.0 1023.0 80.2 1023.1 84.4 1023.2 88.7 1023.3 82.9 1023.4 87.4 1023.5 79.4 1023.6 87.7 1023.7 82.6 1023.8 79.2 1023.9 81.8 1024.0 80.1 1024.1 81.5 1024.2 78.4 1024.3 83.4 1024.4 77.6 1024.5 84.0 1024.6 79.4 1024.7 83.6 1024.8 81.1 1025.0 78.1 1025.1 75.9 1025.2 86.6 1025.3 83.7 1025.4 84.0 1025.5 75.8 1025.6 82.5 1025.7 77.8 1025.8 81.3 1025.9 84.2 1026.0 78.5 1026.1 81.8 1026.2 76.2 1026.3 76.0 1026.4 74.8 1026.5 83.4 1026.6 73.0 1026.7 74.3 1026.8 85.1 1026.9 71.2 1027.0 73.4 1027.1 81.7 1027.2 77.0 1027.3 82.9 1027.4 78.7 1027.6 77.3 1027.7 75.9 1027.8 81.0 1027.9 78.4 1028.0 80.1 1028.1 72.6 1028.2 72.1 1028.3 72.0 1028.4 69.0 1028.5 68.3 1028.6 68.1 1028.7 65.6 1028.8 68.6 1028.9 65.2 1029.0 67.0 1029.1 65.2 1029.2 65.9 1029.3 64.2 1029.4 66.2 1029.5 66.8 1029.6 66.0 1029.7 66.1 1029.8 64.8 1029.9 65.9 1030.1 67.6 1030.2 68.8 1030.3 65.4 1030.4 70.7 1030.5 70.3 1030.6 72.1 1030.7 69.8 1030.8 73.5 1030.9 70.4 1031.0 73.7 1031.1 72.0 1031.2 71.4 1031.3 71.6 1031.4 75.4 1031.5 73.7 1031.6 73.1 1031.7 76.6 1031.8 72.2 1031.9 73.1 1032.0 72.4 1032.1 75.5 1032.2 73.1 1032.3 72.4 1032.4 71.6 1032.6 74.0 1032.7 72.0 1032.8 70.0 1032.9 73.9 1033.0 74.1 1033.1 73.6 1033.2 75.5 1033.3 73.8 1033.4 70.8 1033.5 74.7 1033.6 73.1 1033.7 71.0 1033.8 71.6 1033.9 71.8 1034.0 72.3 1034.1 71.6 1034.2 71.0 1034.3 69.1 1034.4 69.7 1034.5 68.2 1034.6 72.1 1034.7 67.8 1034.8 70.7 1034.9 70.3 1035.0 71.7 1035.2 70.2 1035.3 71.8 1035.4 70.9 1035.5 73.9 1035.6 72.3 1035.7 70.4 1035.8 70.6 1035.9 72.5 1036.0 71.9 1036.1 72.6 1036.2 72.2 1036.3 72.1 1036.4 69.8 1036.5 70.8 1036.6 69.6 1036.7 69.5 1036.8 74.0 1036.9 71.7 1037.0 72.6 1037.1 74.5 1037.2 73.6 1037.3 72.4 1037.4 68.3 1037.5 70.9 1037.7 71.4 1037.8 70.8 1037.9 71.8 1038.0 70.5 1038.1 71.1 1038.2 74.4 1038.3 73.3 1038.4 67.8 1038.5 72.8 1038.6 74.7 1038.7 74.0 1038.8 77.1 1038.9 76.1 1039.0 74.2 1039.1 77.8 1039.2 75.8 1039.3 74.7 1039.4 73.7 1039.5 73.5 1039.6 71.3 1039.7 69.6 1039.8 70.7 1039.9 69.9 1040.0 69.9 1040.2 72.9 1040.3 71.1 1040.4 72.0 1040.5 70.2 1040.6 71.5 1040.7 70.9 1040.8 67.7 1040.9 71.1 1041.0 73.8 1041.1 71.0 1041.2 70.8 1041.3 72.3 1041.4 71.4 1041.5 70.2 1041.6 72.4 1041.7 72.1 1041.8 73.2 1041.9 71.3 1042.0 72.4 1042.1 73.5 1042.2 71.9 1042.3 68.7 1042.4 74.8 1042.5 74.4 1042.6 71.9 1042.8 74.4 1042.9 69.9 1043.0 77.1 1043.1 78.1 1043.2 77.8 1043.3 76.0 1043.4 77.9 1043.5 79.6 1043.6 81.7 1043.7 78.6 1043.8 82.5 1043.9 77.2 1044.0 74.0 1044.1 77.1 1044.2 73.7 1044.3 70.7 1044.4 69.8 1044.5 71.9 1044.6 68.5 1044.7 70.9 1044.8 70.1 1044.9 73.4 1045.0 72.4 1045.1 72.5 1045.3 68.2 1045.4 74.7 1045.5 74.0 1045.6 69.7 1045.7 71.0 1045.8 76.3 1045.9 72.0 1046.0 71.9 1046.1 69.5 1046.2 75.1 1046.3 73.0 1046.4 70.5 1046.5 70.8 1046.6 73.7 1046.7 72.7 1046.8 74.5 1046.9 69.6 1047.0 72.7 1047.1 69.9 1047.2 70.5 1047.3 73.2 1047.4 72.1 1047.5 70.6 1047.6 70.9 1047.8 68.3 1047.9 68.7 1048.0 69.3 1048.1 68.1 1048.2 70.1 1048.3 69.2 1048.4 66.4 1048.5 66.7 1048.6 69.1 1048.7 68.2 1048.8 70.1 1048.9 70.2 1049.0 67.4 1049.1 71.5 1049.2 71.5 1049.3 69.6 1049.4 70.4 1049.5 69.9 1049.6 72.0 1049.7 69.6 1049.8 70.9 1049.9 71.7 1050.0 71.6 1050.1 71.1 1050.2 69.2 1050.4 67.8 1050.5 71.0 1050.6 68.7 1050.7 71.0 1050.8 74.2 1050.9 71.4 1051.0 69.3 1051.1 69.0 1051.2 72.7 1051.3 67.7 1051.4 72.6 1051.5 72.3 1051.6 71.7 1051.7 68.2 1051.8 70.0 1051.9 69.4 1052.0 74.2 1052.1 70.5 1052.2 70.7 1052.3 69.3 1052.4 70.8 1052.5 67.8 1052.6 70.0 1052.7 70.5 1052.9 69.4 1053.0 62.9 1053.1 61.4 1053.2 63.1 1053.3 60.2 1053.4 62.3 1053.5 62.4 1053.6 64.9 1053.7 65.4 1053.8 65.8 1053.9 67.3 1054.0 70.1 1054.1 68.3 1054.2 68.2 1054.3 72.3 1054.4 71.3 1054.5 74.5 1054.6 70.4 1054.7 72.2 1054.8 70.1 1054.9 69.5 1055.0 69.9 1055.1 68.0 1055.2 70.9 1055.4 70.1 1055.5 68.6 1055.6 69.4 1055.7 68.7 1055.8 66.3 1055.9 71.1 1056.0 68.6 1056.1 69.3 1056.2 67.8 1056.3 67.4 1056.4 70.1 1056.5 70.6 1056.6 70.3 1056.7 71.3 1056.8 73.2 1056.9 67.0 1057.0 69.0 1057.1 66.3 1057.2 71.4 1057.3 69.3 1057.4 69.6 1057.5 70.1 1057.6 69.6 1057.7 72.4 1057.8 73.9 1058.0 74.9 1058.1 80.3 1058.2 78.9 1058.3 80.3 1058.4 77.4 1058.5 77.7 1058.6 75.3 1058.7 72.8 1058.8 72.2 1058.9 66.7 1059.0 67.2 1059.1 66.6 1059.2 61.5 1059.3 59.3 1059.4 61.9 1059.5 62.2 1059.6 58.0 1059.7 63.3 1059.8 65.9 1059.9 66.1 1060.0 70.0 1060.1 69.1 1060.2 75.4 1060.3 72.3 1060.5 74.6 1060.6 76.0 1060.7 79.2 1060.8 75.0 1060.9 76.5 1061.0 77.6 1061.1 76.4 1061.2 75.9 1061.3 75.7 1061.4 77.1 1061.5 76.6 1061.6 74.0 1061.7 74.4 1061.8 70.4 1061.9 73.3 1062.0 70.9 1062.1 73.7 1062.2 71.7 1062.3 68.7 1062.4 69.9 1062.5 70.1 1062.6 67.3 1062.7 71.3 1062.8 70.9 1063.0 72.6 1063.1 69.7 1063.2 67.9 1063.3 69.7 1063.4 69.9 1063.5 74.3 1063.6 73.1 1063.7 76.7 1063.8 79.3 1063.9 77.5 1064.0 82.3 1064.1 83.1 1064.2 82.2 1064.3 79.5 1064.4 78.7 1064.5 79.2 1064.6 75.0 1064.7 73.5 1064.8 71.6 1064.9 71.0 1065.0 67.6 1065.1 72.0 1065.2 70.3 1065.3 70.4 1065.5 72.4 1065.6 72.2 1065.7 68.8 1065.8 68.5 1065.9 69.3 1066.0 73.4 1066.1 71.9 1066.2 71.7 1066.3 71.9 1066.4 71.7 1066.5 73.2 1066.6 72.8 1066.7 71.7 1066.8 76.4 1066.9 69.6 1067.0 70.1 1067.1 67.0 1067.2 65.6 1067.3 67.5 1067.4 66.9 1067.5 64.3 1067.6 65.9 1067.7 65.6 1067.8 68.0 1067.9 64.6 1068.1 69.6 1068.2 65.7 1068.3 70.8 1068.4 67.5 1068.5 65.2 1068.6 68.5 1068.7 66.8 1068.8 63.6 1068.9 61.4 1069.0 60.5 1069.1 60.8 1069.2 60.9 1069.3 65.4 1069.4 65.2 1069.5 62.8 1069.6 67.1 1069.7 67.4 1069.8 70.6 1069.9 69.0 1070.0 71.2 1070.1 68.0 1070.2 66.1 1070.3 68.3 1070.4 68.4 1070.6 69.1 1070.7 67.7 1070.8 70.3 1070.9 68.6 1071.0 70.6 1071.1 69.0 1071.2 66.9 1071.3 67.8 1071.4 63.3 1071.5 65.0 1071.6 66.3 1071.7 66.5 1071.8 63.4 1071.9 64.8 1072.0 65.5 1072.1 67.5 1072.2 66.8 1072.3 67.0 1072.4 68.8 1072.5 72.7 1072.6 73.0 1072.7 72.5 1072.8 69.7 1072.9 72.7 1073.1 72.4 1073.2 70.1 1073.3 72.1 1073.4 72.4 1073.5 69.0 1073.6 69.7 1073.7 68.7 1073.8 69.0 1073.9 68.4 1074.0 70.5 1074.1 70.7 1074.2 73.4 1074.3 70.9 1074.4 71.7 1074.5 68.9 1074.6 69.1 1074.7 67.9 1074.8 68.5 1074.9 68.0 1075.0 68.6 1075.1 69.5 1075.2 70.3 1075.3 69.8 1075.4 71.5 1075.5 69.4 1075.7 70.4 1075.8 74.0 1075.9 75.5 1076.0 72.4 1076.1 71.9 1076.2 71.2 1076.3 68.7 1076.4 71.8 1076.5 72.7 1076.6 69.8 1076.7 74.2 1076.8 67.7 1076.9 71.2 1077.0 69.6 1077.1 69.5 1077.2 66.3 1077.3 67.1 1077.4 67.8 1077.5 65.7 1077.6 67.2 1077.7 67.1 1077.8 67.1 1077.9 67.9 1078.0 68.3 1078.2 67.4 1078.3 68.1 1078.4 66.6 1078.5 68.1 1078.6 69.8 1078.7 73.4 1078.8 72.8 1078.9 71.1 1079.0 70.8 1079.1 72.6 1079.2 71.0 1079.3 69.7 1079.4 70.8 1079.5 70.1 1079.6 69.7 1079.7 70.9 1079.8 70.9 1079.9 69.5 1080.0 68.5 1080.1 70.2 1080.2 71.3 1080.3 69.4 1080.4 66.7 1080.5 69.8 1080.7 66.1 1080.8 69.0 1080.9 68.3 1081.0 70.3 1081.1 68.4 1081.2 69.8 1081.3 69.5 1081.4 73.7 1081.5 69.5 1081.6 73.6 1081.7 71.4 1081.8 70.0 1081.9 71.1 1082.0 70.0 1082.1 70.7 1082.2 70.4 1082.3 71.6 1082.4 68.6 1082.5 68.2 1082.6 70.9 1082.7 71.5 1082.8 69.7 1082.9 70.6 1083.0 69.0 1083.1 67.7 1083.3 68.1 1083.4 66.7 1083.5 67.9 1083.6 70.3 1083.7 69.9 1083.8 67.4 1083.9 65.2 1084.0 68.6 1084.1 69.6 1084.2 65.8 1084.3 68.6 1084.4 66.7 1084.5 66.2 1084.6 69.7 1084.7 68.4 1084.8 69.0 1084.9 67.4 1085.0 67.5 1085.1 69.5 1085.2 67.9 1085.3 71.7 1085.4 68.3 1085.5 68.6 1085.6 69.2 1085.8 71.7 1085.9 69.7 1086.0 71.1 1086.1 66.9 1086.2 69.7 1086.3 69.9 1086.4 69.7 1086.5 69.0 1086.6 69.7 1086.7 68.9 1086.8 71.5 1086.9 68.4 1087.0 71.1 1087.1 68.6 1087.2 69.5 1087.3 68.2 1087.4 69.9 1087.5 72.1 1087.6 70.8 1087.7 69.1 1087.8 66.3 1087.9 67.9 1088.0 66.7 1088.1 64.4 1088.3 66.8 1088.4 64.7 1088.5 65.6 1088.6 67.5 1088.7 66.7 1088.8 65.8 1088.9 66.3 1089.0 69.2 1089.1 64.7 1089.2 69.9 1089.3 70.6 1089.4 71.7 1089.5 72.2 1089.6 68.9 1089.7 75.9 1089.8 72.3 1089.9 75.3 1090.0 74.2 1090.1 74.9 1090.2 78.1 1090.3 78.2 1090.4 75.7 1090.5 77.9 1090.6 76.1 1090.7 75.5 1090.9 73.0 1091.0 71.2 1091.1 70.5 1091.2 69.6 1091.3 68.8 1091.4 71.5 1091.5 67.9 1091.6 71.0 1091.7 71.5 1091.8 70.6 1091.9 71.3 1092.0 69.3 1092.1 69.0 1092.2 68.2 1092.3 70.3 1092.4 71.0 1092.5 70.3 1092.6 71.5 1092.7 70.6 1092.8 66.7 1092.9 71.2 1093.0 70.8 1093.1 69.2 1093.2 65.4 1093.4 68.5 1093.5 71.2 1093.6 71.5 1093.7 67.4 1093.8 70.7 1093.9 69.9 1094.0 69.2 1094.1 72.4 1094.2 69.5 1094.3 70.2 1094.4 68.2 1094.5 69.7 1094.6 73.1 1094.7 68.3 1094.8 74.3 1094.9 70.7 1095.0 71.0 1095.1 70.8 1095.2 69.9 1095.3 68.1 1095.4 71.1 1095.5 70.5 1095.6 67.8 1095.7 68.1 1095.9 67.6 1096.0 68.2 1096.1 69.1 1096.2 69.6 1096.3 69.6 1096.4 67.2 1096.5 66.7 1096.6 66.0 1096.7 70.8 1096.8 69.8 1096.9 69.4 1097.0 69.9 1097.1 71.4 1097.2 65.9 1097.3 66.7 1097.4 69.3 1097.5 70.0 1097.6 69.3 1097.7 71.1 1097.8 69.4 1097.9 68.2 1098.0 66.7 1098.1 68.4 1098.2 67.6 1098.3 71.3 1098.5 74.8 1098.6 67.1 1098.7 69.0 1098.8 69.6 1098.9 66.8 1099.0 70.8 1099.1 70.8 1099.2 70.5 1099.3 67.0 1099.4 67.9 1099.5 72.4 1099.6 67.1 1099.7 69.9 1099.8 69.4 1099.9 71.4 1100.0 66.8 1100.1 68.9 1100.2 67.2 1100.3 70.7 1100.4 68.2 1100.5 69.1 1100.6 69.3 1100.7 69.8 1100.8 70.0 1101.0 71.2 1101.1 70.3 1101.2 69.4 1101.3 68.7 1101.4 72.1 1101.5 71.5 1101.6 71.3 1101.7 73.0 1101.8 70.7 1101.9 70.5 1102.0 70.2 1102.1 69.1 1102.2 68.3 1102.3 68.7 1102.4 70.0 1102.5 69.5 1102.6 71.5 1102.7 71.6 1102.8 68.5 1102.9 68.7 1103.0 66.5 1103.1 70.2 1103.2 71.2 1103.3 69.5 1103.5 71.0 1103.6 71.7 1103.7 67.8 1103.8 67.2 1103.9 69.8 1104.0 71.6 1104.1 70.3 1104.2 71.1 1104.3 73.2 1104.4 69.6 1104.5 70.5 1104.6 69.5 1104.7 72.0 1104.8 71.2 1104.9 71.3 1105.0 74.2 1105.1 67.1 1105.2 68.1 1105.3 73.2 1105.4 71.9 1105.5 73.5 1105.6 70.5 1105.7 72.0 1105.8 71.1 1105.9 70.3 1106.1 70.8 1106.2 70.6 1106.3 71.1 1106.4 70.1 1106.5 69.2 1106.6 70.9 1106.7 71.1 1106.8 71.0 1106.9 69.9 1107.0 71.0 1107.1 71.4 1107.2 73.3 1107.3 67.3 1107.4 72.0 1107.5 66.5 1107.6 66.1 1107.7 63.5 1107.8 62.3 1107.9 60.4 1108.0 58.5 1108.1 56.8 1108.2 55.2 1108.3 53.2 1108.4 58.5 1108.6 57.9 1108.7 57.9 1108.8 60.3 1108.9 66.3 1109.0 65.5 1109.1 66.8 1109.2 68.2 1109.3 72.7 1109.4 67.6 1109.5 71.7 1109.6 65.5 1109.7 68.1 1109.8 69.3 1109.9 68.3 1110.0 69.3 1110.1 66.4 1110.2 69.8 1110.3 69.1 1110.4 71.9 1110.5 69.6 1110.6 69.3 1110.7 69.8 1110.8 69.9 1110.9 70.0 1111.1 71.5 1111.2 70.4 1111.3 71.7 1111.4 69.9 1111.5 66.9 1111.6 65.3 1111.7 68.2 1111.8 69.3 1111.9 62.1 1112.0 62.9 1112.1 62.7 1112.2 64.5 1112.3 66.0 1112.4 68.2 1112.5 69.1 1112.6 65.6 1112.7 66.4 1112.8 67.8 1112.9 70.4 1113.0 69.5 1113.1 70.0 1113.2 60.6 1113.3 73.8 1113.4 68.5 1113.5 66.3 1113.7 70.2 1113.8 69.5 1113.9 68.8 1114.0 70.7 1114.1 68.4 1114.2 70.5 1114.3 70.0 1114.4 68.9 1114.5 69.8 1114.6 68.0 1114.7 68.5 1114.8 64.3 1114.9 66.6 1115.0 61.9 1115.1 62.4 1115.2 62.7 1115.3 59.1 1115.4 62.0 1115.5 62.7 1115.6 63.8 1115.7 63.3 1115.8 64.6 1115.9 66.3 1116.0 69.0 1116.2 72.6 1116.3 61.5 1116.4 70.6 1116.5 70.1 1116.6 71.1 1116.7 71.3 1116.8 69.4 1116.9 72.6 1117.0 70.7 1117.1 68.8 1117.2 72.0 1117.3 72.3 1117.4 70.4 1117.5 70.2 1117.6 69.0 1117.7 67.1 1117.8 70.0 1117.9 69.1 1118.0 71.0 1118.1 70.9 1118.2 69.9 1118.3 71.7 1118.4 68.7 1118.5 71.1 1118.7 70.5 1118.8 72.1 1118.9 71.1 1119.0 71.9 1119.1 71.2 1119.2 73.4 1119.3 70.8 1119.4 67.6 1119.5 73.4 1119.6 67.2 1119.7 70.2 1119.8 68.4 1119.9 71.1 1120.0 66.0 1120.1 71.6 1120.2 70.1 1120.3 67.2 1120.4 71.7 1120.5 73.3 1120.6 69.4 1120.7 70.5 1120.8 71.3 1120.9 71.3 1121.0 72.7 1121.1 67.9 1121.3 68.5 1121.4 72.8 1121.5 70.7 1121.6 71.7 1121.7 68.8 1121.8 71.8 1121.9 68.0 1122.0 70.6 1122.1 71.7 1122.2 70.6 1122.3 71.2 1122.4 66.3 1122.5 69.6 1122.6 70.6 1122.7 69.7 1122.8 67.2 1122.9 71.2 1123.0 72.4 1123.1 49.5 1123.2 68.8 1123.3 70.7 1123.4 70.2 1123.5 68.1 1123.6 74.6 1123.8 67.8 1123.9 70.2 1124.0 68.7 1124.1 69.6 1124.2 64.0 1124.3 70.5 1124.4 67.5 1124.5 73.9 1124.6 69.4 1124.7 68.2 1124.8 72.4 1124.9 73.5 1125.0 70.5 1125.1 68.8 1125.2 68.2 1125.3 71.6 1125.4 69.7 1125.5 72.7 1125.6 67.2 1125.7 71.4 1125.8 68.2 1125.9 70.8 1126.0 71.5 1126.1 68.0 1126.3 72.2 1126.4 69.1 1126.5 70.0 1126.6 69.2 1126.7 67.4 1126.8 62.2 1126.9 62.7 1127.0 61.7 1127.1 62.1 1127.2 55.9 1127.3 57.2 1127.4 59.6 1127.5 60.5 1127.6 69.2 1127.7 66.0 1127.8 66.3 1127.9 68.2 1128.0 71.2 1128.1 69.4 1128.2 70.8 1128.3 71.1 1128.4 72.5 1128.5 70.3 1128.6 71.6 1128.7 71.1 1128.9 67.9 1129.0 70.7 1129.1 70.6 1129.2 73.0 1129.3 71.2 1129.4 68.7 1129.5 69.3 1129.6 70.1 1129.7 70.8 1129.8 70.3 1129.9 70.0 1130.0 71.0 1130.1 74.5 1130.2 67.1 1130.3 68.4 1130.4 70.3 1130.5 68.1 1130.6 72.8 1130.7 67.9 1130.8 70.1 1130.9 68.9 1131.0 71.3 1131.1 70.4 1131.2 70.2 1131.4 69.7 1131.5 70.6 1131.6 70.6 1131.7 72.2 1131.8 68.1 1131.9 70.3 1132.0 70.8 1132.1 70.8 1132.2 72.5 1132.3 71.7 1132.4 72.2 1132.5 68.8 1132.6 69.1 1132.7 68.5 1132.8 70.8 1132.9 69.6 1133.0 69.5 1133.1 66.9 1133.2 71.3 1133.3 70.9 1133.4 66.7 1133.5 68.2 1133.6 72.0 1133.7 67.2 1133.9 67.0 1134.0 67.7 1134.1 73.2 1134.2 69.6 1134.3 71.3 1134.4 70.6 1134.5 72.9 1134.6 67.5 1134.7 71.5 1134.8 69.7 1134.9 68.8 1135.0 69.4 1135.1 69.9 1135.2 71.2 1135.3 70.3 1135.4 71.6 1135.5 75.2 1135.6 71.1 1135.7 73.6 1135.8 73.2 1135.9 73.1 1136.0 74.5 1136.1 74.0 1136.2 74.3 1136.3 70.3 1136.5 68.0 1136.6 69.6 1136.7 71.8 1136.8 67.8 1136.9 70.2 1137.0 72.5 1137.1 72.9 1137.2 69.5 1137.3 67.6 1137.4 70.8 1137.5 71.4 1137.6 74.7 1137.7 72.1 1137.8 71.1 1137.9 69.4 1138.0 71.0 1138.1 68.2 1138.2 71.3 1138.3 68.1 1138.4 68.7 1138.5 70.1 1138.6 70.1 1138.7 69.8 1138.8 65.8 1139.0 70.3 1139.1 68.3 1139.2 69.4 1139.3 72.7 1139.4 70.2 1139.5 77.7 1139.6 74.2 1139.7 71.7 1139.8 77.3 1139.9 74.9 1140.0 76.4 1140.1 75.0 1140.2 72.1 1140.3 73.4 1140.4 74.4 1140.5 70.7 1140.6 71.0 1140.7 71.6 1140.8 69.3 1140.9 71.6 1141.0 72.1 1141.1 70.4 1141.2 70.1 1141.3 69.6 1141.5 71.6 1141.6 66.2 1141.7 67.8 1141.8 68.6 1141.9 68.3 1142.0 73.3 1142.1 67.6 1142.2 71.0 1142.3 68.4 1142.4 71.3 1142.5 67.6 1142.6 70.2 1142.7 69.8 1142.8 67.2 1142.9 67.9 1143.0 71.8 1143.1 70.9 1143.2 69.3 1143.3 69.9 1143.4 68.1 1143.5 71.1 1143.6 73.4 1143.7 71.9 1143.8 70.2 1143.9 69.2 1144.1 68.9 1144.2 68.3 1144.3 70.1 1144.4 70.7 1144.5 69.6 1144.6 71.6 1144.7 72.0 1144.8 71.9 1144.9 69.5 1145.0 68.2 1145.1 68.8 1145.2 74.8 1145.3 70.8 1145.4 74.8 1145.5 74.1 1145.6 73.1 1145.7 76.7 1145.8 77.1 1145.9 76.0 1146.0 71.3 1146.1 72.0 1146.2 74.6 1146.3 72.6 1146.4 71.7 1146.6 71.2 1146.7 72.2 1146.8 68.8 1146.9 71.9 1147.0 69.5 1147.1 73.5 1147.2 69.5 1147.3 69.9 1147.4 67.8 1147.5 74.5 1147.6 68.9 1147.7 68.6 1147.8 70.1 1147.9 67.3 1148.0 65.7 1148.1 67.7 1148.2 67.7 1148.3 67.0 1148.4 68.7 1148.5 67.7 1148.6 68.8 1148.7 71.0 1148.8 71.4 1148.9 67.9 1149.1 68.1 1149.2 70.4 1149.3 68.9 1149.4 66.2 1149.5 72.3 1149.6 71.0 1149.7 67.9 1149.8 68.3 1149.9 71.6 1150.0 71.5 1150.1 69.6 1150.2 67.4 1150.3 70.2 1150.4 74.2 1150.5 68.5 1150.6 70.5 1150.7 71.0 1150.8 71.3 1150.9 67.2 1151.0 68.7 1151.1 68.5 1151.2 68.8 1151.3 68.6 1151.4 67.6 1151.5 66.1 1151.7 70.7 1151.8 69.1 1151.9 69.2 1152.0 66.0 1152.1 69.3 1152.2 71.5 1152.3 68.7 1152.4 70.3 1152.5 70.6 1152.6 70.2 1152.7 71.7 1152.8 73.0 1152.9 66.6 1153.0 70.0 1153.1 71.2 1153.2 68.6 1153.3 67.6 1153.4 73.0 1153.5 70.2 1153.6 68.8 1153.7 70.8 1153.8 68.3 1153.9 70.7 1154.0 69.5 1154.2 69.0 1154.3 68.1 1154.4 69.0 1154.5 70.3 1154.6 70.1 1154.7 73.2 1154.8 66.2 1154.9 70.5 1155.0 70.3 1155.1 69.6 1155.2 69.5 1155.3 69.9 1155.4 71.5 1155.5 73.0 1155.6 70.4 1155.7 72.3 1155.8 71.9 1155.9 71.1 1156.0 70.6 1156.1 69.0 1156.2 71.5 1156.3 74.3 1156.4 69.5 1156.5 68.7 1156.7 73.1 1156.8 69.3 1156.9 70.0 1157.0 71.1 1157.1 70.0 1157.2 69.6 1157.3 68.9 1157.4 67.7 1157.5 69.7 1157.6 69.3 1157.7 65.1 1157.8 71.4 1157.9 70.4 1158.0 70.7 1158.1 68.8 1158.2 68.1 1158.3 72.0 1158.4 67.7 1158.5 72.1 1158.6 65.3 1158.7 70.7 1158.8 67.7 1158.9 70.0 1159.0 68.0 1159.2 70.5 1159.3 69.0 1159.4 69.7 1159.5 69.3 1159.6 67.9 1159.7 70.0 1159.8 68.3 1159.9 69.1 1160.0 65.9 1160.1 65.3 1160.2 61.4 1160.3 60.9 1160.4 61.7 1160.5 58.4 1160.6 58.8 1160.7 62.9 1160.8 65.7 1160.9 60.4 1161.0 64.9 1161.1 66.2 1161.2 64.5 1161.3 71.2 1161.4 69.3 1161.5 73.4 1161.6 69.2 1161.8 69.6 1161.9 71.4 1162.0 71.8 1162.1 71.0 1162.2 71.2 1162.3 67.6 1162.4 70.9 1162.5 70.7 1162.6 70.7 1162.7 73.3 1162.8 71.0 1162.9 72.4 1163.0 69.8 1163.1 74.1 1163.2 72.7 1163.3 70.9 1163.4 74.9 1163.5 73.9 1163.6 69.2 1163.7 72.8 1163.8 70.5 1163.9 70.0 1164.0 72.2 1164.1 72.8 1164.3 67.5 1164.4 70.9 1164.5 69.1 1164.6 71.3 1164.7 69.2 1164.8 72.2 1164.9 72.6 1165.0 71.3 1165.1 70.0 1165.2 69.6 1165.3 68.6 1165.4 66.6 1165.5 67.8 1165.6 64.6 1165.7 66.7 1165.8 64.6 1165.9 63.7 1166.0 63.3 1166.1 70.3 1166.2 64.4 1166.3 71.1 1166.4 65.5 1166.5 68.6 1166.6 67.9 1166.8 69.8 1166.9 67.0 1167.0 67.7 1167.1 70.0 1167.2 70.4 1167.3 68.2 1167.4 68.0 1167.5 68.1 1167.6 69.9 1167.7 69.3 1167.8 67.7 1167.9 68.3 1168.0 67.6 1168.1 69.2 1168.2 70.9 1168.3 69.1 1168.4 68.9 1168.5 70.7 1168.6 69.2 1168.7 71.6 1168.8 69.9 1168.9 71.2 1169.0 66.4 1169.1 67.9 1169.2 69.5 1169.4 72.3 1169.5 71.6 1169.6 68.7 1169.7 70.6 1169.8 70.5 1169.9 74.4 1170.0 75.2 1170.1 73.2 1170.2 74.8 1170.3 77.8 1170.4 77.6 1170.5 74.5 1170.6 75.5 1170.7 72.7 1170.8 70.9 1170.9 72.7 1171.0 72.2 1171.1 72.5 1171.2 68.6 1171.3 73.0 1171.4 71.4 1171.5 68.7 1171.6 70.0 1171.7 65.1 1171.9 67.0 1172.0 64.7 1172.1 65.5 1172.2 65.0 1172.3 64.9 1172.4 68.4 1172.5 67.4 1172.6 67.4 1172.7 63.5 1172.8 66.6 1172.9 67.4 1173.0 70.8 1173.1 67.3 1173.2 67.4 1173.3 67.9 1173.4 64.8 1173.5 71.8 1173.6 71.0 1173.7 69.7 1173.8 71.2 1173.9 69.8 1174.0 68.9 1174.1 69.6 1174.2 69.0 1174.4 68.6 1174.5 68.1 1174.6 70.1 1174.7 70.3 1174.8 66.8 1174.9 69.4 1175.0 70.2 1175.1 68.4 1175.2 69.4 1175.3 68.8 1175.4 69.3 1175.5 68.1 1175.6 67.8 1175.7 70.7 1175.8 71.4 1175.9 66.6 1176.0 70.6 1176.1 72.1 1176.2 72.3 1176.3 69.1 1176.4 70.4 1176.5 72.5 1176.6 70.8 1176.7 71.1 1176.8 67.6 1177.0 69.0 1177.1 68.9 1177.2 70.6 1177.3 68.2 1177.4 66.7 1177.5 66.4 1177.6 64.1 1177.7 64.1 1177.8 61.4 1177.9 60.9 1178.0 62.1 1178.1 58.0 1178.2 59.1 1178.3 59.8 1178.4 64.8 1178.5 66.4 1178.6 66.4 1178.7 68.1 1178.8 66.2 1178.9 67.7 1179.0 67.2 1179.1 68.2 1179.2 71.4 1179.3 68.2 1179.5 71.1 1179.6 71.6 1179.7 70.2 1179.8 70.3 1179.9 68.5 1180.0 62.7 1180.1 63.9 1180.2 59.6 1180.3 59.5 1180.4 56.2 1180.5 54.9 1180.6 51.9 1180.7 46.3 1180.8 50.8 1180.9 53.3 1181.0 58.3 1181.1 56.4 1181.2 62.1 1181.3 65.6 1181.4 67.2 1181.5 68.5 1181.6 68.2 1181.7 67.2 1181.8 71.5 1182.0 70.3 1182.1 66.8 1182.2 65.5 1182.3 70.5 1182.4 69.6 1182.5 72.3 1182.6 71.4 1182.7 71.2 1182.8 70.0 1182.9 71.8 1183.0 68.5 1183.1 70.1 1183.2 70.6 1183.3 67.8 1183.4 70.1 1183.5 72.0 1183.6 69.6 1183.7 65.6 1183.8 69.7 1183.9 68.8 1184.0 69.8 1184.1 70.2 1184.2 68.7 1184.3 74.2 1184.4 72.0 1184.6 71.0 1184.7 70.5 1184.8 68.6 1184.9 67.0 1185.0 70.9 1185.1 72.2 1185.2 72.2 1185.3 71.5 1185.4 76.1 1185.5 76.1 1185.6 74.1 1185.7 73.2 1185.8 76.2 1185.9 71.5 1186.0 74.3 1186.1 69.1 1186.2 68.4 1186.3 73.2 1186.4 68.5 1186.5 68.3 1186.6 69.0 1186.7 65.5 1186.8 63.5 1186.9 65.4 1187.1 67.1 1187.2 66.6 1187.3 65.0 1187.4 65.3 1187.5 61.6 1187.6 63.0 1187.7 64.0 1187.8 62.5 1187.9 64.6 1188.0 65.8 1188.1 68.3 1188.2 68.5 1188.3 68.1 1188.4 70.8 1188.5 66.6 1188.6 69.4 1188.7 70.3 1188.8 67.9 1188.9 71.1 1189.0 67.5 1189.1 69.3 1189.2 66.2 1189.3 70.5 1189.4 70.6 1189.6 70.3 1189.7 70.7 1189.8 67.3 1189.9 69.1 1190.0 66.0 1190.1 66.9 1190.2 63.3 1190.3 69.3 1190.4 64.8 1190.5 66.1 1190.6 67.1 1190.7 68.8 1190.8 65.1 1190.9 69.6 1191.0 68.8 1191.1 70.9 1191.2 70.9 1191.3 69.9 1191.4 68.3 1191.5 71.1 1191.6 69.9 1191.7 71.2 1191.8 68.4 1191.9 70.3 1192.0 70.3 1192.2 68.0 1192.3 68.9 1192.4 68.2 1192.5 68.8 1192.6 68.3 1192.7 68.8 1192.8 71.0 1192.9 68.8 1193.0 70.2 1193.1 69.8 1193.2 68.8 1193.3 70.5 1193.4 71.7 1193.5 68.0 1193.6 66.5 1193.7 70.2 1193.8 67.7 1193.9 68.9 1194.0 70.6 1194.1 70.9 1194.2 69.7 1194.3 69.9 1194.4 69.5 1194.5 69.5 1194.7 71.2 1194.8 67.9 1194.9 71.2 1195.0 71.1 1195.1 72.6 1195.2 68.2 1195.3 66.8 1195.4 69.2 1195.5 70.8 1195.6 67.6 1195.7 69.4 1195.8 69.5 1195.9 70.7 1196.0 68.8 1196.1 73.6 1196.2 68.3 1196.3 72.5 1196.4 67.5 1196.5 71.2 1196.6 67.2 1196.7 63.4 1196.8 67.4 1196.9 68.1 1197.0 61.7 1197.2 65.2 1197.3 65.6 1197.4 62.4 1197.5 69.8 1197.6 67.9 1197.7 67.9 1197.8 66.5 1197.9 68.6 1198.0 63.2 1198.1 63.0 1198.2 64.0 1198.3 63.6 1198.4 65.1 1198.5 61.2 1198.6 63.9 1198.7 62.5 1198.8 62.5 1198.9 64.8 1199.0 69.6 1199.1 68.3 1199.2 64.9 1199.3 67.7 1199.4 70.6 1199.5 63.7 1199.6 68.7 1199.8 68.4 1199.9 71.2 1200.0 69.4 1200.1 66.5 1200.2 67.4 1200.3 69.4 1200.4 68.2 1200.5 66.9 1200.6 70.8 1200.7 56.0 1200.8 67.0 1200.9 68.1 1201.0 62.9 1201.1 63.9 1201.2 59.8 1201.3 58.1 1201.4 57.7 1201.5 56.6 1201.6 55.4 1201.7 55.8 1201.8 57.0 1201.9 57.4 1202.0 62.1 1202.1 62.9 1202.3 62.4 1202.4 66.3 1202.5 67.0 1202.6 64.5 1202.7 67.1 1202.8 66.3 1202.9 65.0 1203.0 65.7 1203.1 67.5 1203.2 68.5 1203.3 66.8 1203.4 65.4 1203.5 76.0 1203.6 65.7 1203.7 67.5 1203.8 70.1 1203.9 71.7 1204.0 69.9 1204.1 69.4 1204.2 70.1 1204.3 67.0 1204.4 70.3 1204.5 68.0 1204.6 67.5 1204.8 72.0 1204.9 69.8 1205.0 66.6 1205.1 67.0 1205.2 68.4 1205.3 70.7 1205.4 69.9 1205.5 68.5 1205.6 66.7 1205.7 67.9 1205.8 68.7 1205.9 68.2 1206.0 66.6" stroke="#b70034" stroke-width="1.3"/>
<path d="M269.0 73.2 269.6 73.2 270.2 73.2 270.9 73.2 271.5 73.2 272.1 73.2 272.7 73.2 273.4 72.8 274.0 72.8 274.6 72.8 275.2 72.8 275.9 72.8 276.5 72.8 277.1 72.8 277.7 73.5 278.4 73.5 279.0 73.5 279.6 73.5 280.2 73.5 280.9 73.5 281.5 73.5 282.1 74.3 282.7 74.3 283.4 74.3 284.0 74.3 284.6 74.3 285.2 74.3 285.9 74.3 286.5 73.7 287.1 73.7 287.7 73.7 288.4 73.7 289.0 73.7 289.6 73.7 290.2 73.7 290.9 74.4 291.5 74.4 292.1 74.4 292.7 74.4 293.4 74.4 294.0 74.4 294.6 74.4 295.2 73.1 295.9 73.1 296.5 73.1 297.1 73.1 297.7 73.1 298.4 73.1 299.0 73.1 299.6 71.6 300.2 71.6 300.9 71.6 301.5 71.6 302.1 71.6 302.7 71.6 303.4 71.6 304.0 73.8 304.6 73.8 305.2 73.8 305.9 73.8 306.5 73.8 307.1 73.8 307.7 73.8 308.4 73.9 309.0 73.9 309.6 73.9 310.2 73.9 310.9 73.9 311.5 73.9 312.1 73.9 312.7 72.6 313.4 72.6 314.0 72.6 314.6 72.6 315.2 72.6 315.9 72.6 316.5 72.6 317.1 72.8 317.7 72.8 318.3 72.8 319.0 72.8 319.6 72.8 320.2 72.8 320.8 72.8 321.5 73.1 322.1 73.1 322.7 73.1 323.3 73.1 324.0 73.1 324.6 73.1 325.2 73.1 325.8 74.3 326.5 74.3 327.1 73.2 327.7 125.8 328.3 136.7 329.0 137.1 329.6 137.6 330.2 138.0 330.8 141.3 331.5 144.6 332.1 147.9 332.7 151.1 333.3 154.4 334.0 157.7 334.6 161.0 335.2 172.9 335.8 184.8 336.5 196.7 337.1 198.3 337.7 200.0 338.3 201.7 339.0 203.3 339.6 205.0 340.2 206.7 340.8 208.3 341.5 445.0 342.1 445.0 342.7 445.0 343.3 445.0 344.0 445.0 344.6 445.0 345.2 445.0 345.8 445.0 346.5 445.0 347.1 445.0 347.7 445.0 348.3 445.0 349.0 445.0 349.6 445.0 350.2 445.0 350.8 445.0 351.5 72.8 352.1 74.4 352.7 74.4 353.3 74.4 354.0 74.4 354.6 74.4 355.2 74.4 355.8 74.4 356.5 83.7 357.1 83.7 357.7 83.7 358.3 83.7 359.0 75.1 359.6 75.1 360.2 75.1 360.8 73.2 361.5 73.2 362.1 73.2 362.7 73.2 363.3 73.2 363.9 73.2 364.6 73.2 365.2 74.5 365.8 74.5 366.4 82.0 367.1 82.0 367.7 82.0 368.3 82.0 368.9 74.5 369.6 72.7 370.2 72.7 370.8 72.7 371.4 72.7 372.1 72.7 372.7 72.7 373.3 72.7 373.9 72.8 374.6 72.8 375.2 72.8 375.8 72.8 376.4 72.8 377.1 72.8 377.7 72.8 378.3 73.3 378.9 73.3 379.6 73.3 380.2 73.3 380.8 73.3 381.4 73.3 382.1 73.3 382.7 76.1 383.3 76.1 383.9 76.1 384.6 76.1 385.2 76.1 385.8 76.1 386.4 76.1 387.1 73.7 387.7 73.8 388.3 73.8 388.9 73.8 389.6 73.8 390.2 73.8 390.8 73.8 391.4 73.2 392.1 73.2 392.7 73.2 393.3 73.2 393.9 73.2 394.6 73.2 395.2 73.2 395.8 79.9 396.4 79.9 397.1 79.9 397.7 79.9 398.3 73.0 398.9 73.1 399.6 73.1 400.2 75.0 400.8 75.0 401.4 75.0 402.1 75.0 402.7 75.1 403.3 75.1 403.9 75.1 404.6 73.8 405.2 73.8 405.8 73.8 406.4 73.8 407.1 73.8 407.7 73.8 408.3 73.8 408.9 74.4 409.6 74.4 410.2 74.4 410.8 74.4 411.4 74.5 412.0 74.5 412.7 74.5 413.3 74.3 413.9 74.3 414.5 74.3 415.2 74.3 415.8 74.3 416.4 74.3 417.0 74.3 417.7 72.1 418.3 72.1 418.9 72.1 419.5 72.1 420.2 72.1 420.8 72.1 421.4 72.1 422.0 74.3 422.7 74.3 423.3 74.3 423.9 74.3 424.5 74.3 425.2 74.3 425.8 74.4 426.4 73.4 427.0 73.4 427.7 73.4 428.3 73.4 428.9 73.4 429.5 73.4 430.2 73.5 430.8 72.4 431.4 72.4 432.0 72.4 432.7 72.4 433.3 72.4 433.9 72.4 434.5 72.4 435.2 74.2 435.8 74.2 436.4 74.2 437.0 78.3 437.7 78.3 438.3 78.3 438.9 78.3 439.5 73.6 440.2 73.6 440.8 73.6 441.4 73.6 442.0 73.6 442.7 73.6 443.3 73.6 443.9 73.4 444.5 73.4 445.2 73.4 445.8 73.4 446.4 73.4 447.0 73.4 447.7 73.4 448.3 73.5 448.9 73.5 449.5 73.5 450.2 73.5 450.8 73.5 451.4 73.5 452.0 73.5 452.7 75.0 453.3 75.1 453.9 75.1 454.5 75.1 455.2 75.1 455.8 75.1 456.4 75.1 457.0 73.5 457.6 73.5 458.3 73.5 458.9 73.5 459.5 73.5 460.1 73.5 460.8 73.5 461.4 72.0 462.0 75.4 462.6 75.4 463.3 75.5 463.9 75.5 464.5 72.0 465.1 72.0 465.8 75.5 466.4 75.5 467.0 75.5 467.6 75.5 468.3 75.5 468.9 75.6 469.5 75.6 470.1 72.7 470.8 72.7 471.4 72.7 472.0 72.7 472.6 72.7 473.3 72.7 473.9 72.7 474.5 73.6 475.1 73.6 475.8 73.6 476.4 73.6 477.0 73.6 477.6 73.6 478.3 73.6 478.9 74.5 479.5 74.5 480.1 74.5 480.8 74.5 481.4 74.6 482.0 74.6 482.6 74.6 483.3 71.4 483.9 71.4 484.5 71.4 485.1 71.4 485.8 71.4 486.4 71.4 487.0 71.4 487.6 72.9 488.3 72.9 488.9 72.9 489.5 72.9 490.1 72.9 490.8 72.9 491.4 72.9 492.0 75.3 492.6 75.3 493.3 75.3 493.9 74.9 494.5 76.7 495.1 101.7 495.8 101.7 496.4 101.7 497.0 76.0 497.6 82.9 498.3 88.7 498.9 78.9 499.5 75.1 500.1 78.0 500.8 83.0 501.4 80.2 502.0 83.1 502.6 82.2 503.2 76.2 503.9 81.3 504.5 77.6 505.1 77.5 505.7 91.9 506.4 86.5 507.0 82.2 507.6 75.3 508.2 74.7 508.9 87.0 509.5 78.5 510.1 80.9 510.7 75.3 511.4 75.3 512.0 77.1 512.6 84.5 513.2 74.7 513.9 93.4 514.5 80.5 515.1 99.3 515.7 99.3 516.4 99.3 517.0 86.0 517.6 75.0 518.2 84.6 518.9 82.6 519.5 84.3 520.1 75.9 520.7 75.0 521.4 75.0 522.0 74.9 522.6 81.5 523.2 79.3 523.9 76.4 524.5 83.5 525.1 78.9 525.7 80.4 526.4 83.9 527.0 85.5 527.6 75.7 528.2 74.6 528.9 98.1 529.5 98.1 530.1 87.1 530.7 101.0 531.4 101.0 532.0 101.0 532.6 97.0 533.2 75.0 533.9 75.0 534.5 75.2 535.1 205.1 535.7 222.8 536.4 237.7 537.0 247.4 537.6 247.4 538.2 247.4 538.9 247.4 539.5 247.4 540.1 247.4 540.7 247.4 541.4 247.4 542.0 247.4 542.6 247.4 543.2 247.4 543.9 247.4 544.5 247.4 545.1 247.4 545.7 247.4 546.4 247.4 547.0 247.4 547.6 247.4 548.2 247.4 548.9 247.4 549.5 247.4 550.1 247.4 550.7 247.4 551.3 247.4 552.0 212.4 552.6 212.4 553.2 152.4 553.8 152.4 554.5 152.4 555.1 72.8 555.7 73.0 556.3 73.0 557.0 73.0 557.6 71.6 558.2 71.6 558.8 71.5 559.5 71.5 560.1 71.5 560.7 71.4 561.3 71.4 562.0 71.0 562.6 71.0 563.2 71.0 563.8 70.9 564.5 70.9 565.1 70.8 565.7 70.8 566.3 73.7 567.0 73.7 567.6 73.7 568.2 73.6 568.8 73.6 569.5 73.5 570.1 73.5 570.7 72.8 571.3 72.8 572.0 72.7 572.6 72.7 573.2 72.7 573.8 72.6 574.5 72.6 575.1 70.8 575.7 70.8 576.3 70.7 577.0 70.7 577.6 70.7 578.2 70.6 578.8 70.6 579.5 73.7 580.1 73.7 580.7 73.6 581.3 73.6 582.0 73.6 582.6 73.5 583.2 72.4 583.8 73.6 584.5 74.8 585.1 76.1 585.7 77.9 586.3 77.9 587.0 77.9 587.6 77.9 588.2 77.4 588.8 77.4 589.5 77.4 590.1 77.4 590.7 77.4 591.3 77.4 592.0 77.4 592.6 75.8 593.2 75.8 593.8 75.8 594.5 75.8 595.1 75.8 595.7 75.8 596.3 75.8 597.0 76.5 597.6 76.5 598.2 76.5 598.8 76.5 599.4 76.5 600.1 76.5 600.7 76.5 601.3 77.7 601.9 77.7 602.6 77.7 603.2 77.7 603.8 77.7 604.4 77.7 605.1 77.7 605.7 77.7 606.3 77.7 606.9 77.7 607.6 77.7 608.2 77.7 608.8 77.7 609.4 77.7 610.1 77.6 610.7 77.6 611.3 77.6 611.9 77.6 612.6 77.6 613.2 77.6 613.8 77.6 614.4 75.5 615.1 75.5 615.7 75.5 616.3 75.5 616.9 75.5 617.6 75.5 618.2 75.5 618.8 77.8 619.4 77.8 620.1 77.8 620.7 77.8 621.3 77.8 621.9 77.8 622.6 77.8 623.2 77.7 623.8 77.7 624.4 77.7 625.1 77.7 625.7 77.7 626.3 77.7 626.9 77.7 627.6 76.9 628.2 76.9 628.8 76.9 629.4 76.9 630.1 76.9 630.7 76.9 631.3 76.9 631.9 77.4 632.6 77.4 633.2 77.4 633.8 77.4 634.4 77.4 635.1 77.4 635.7 77.4 636.3 77.5 636.9 77.5 637.6 77.5 638.2 77.5 638.8 77.5 639.4 77.5 640.1 77.5 640.7 78.6 641.3 78.6 641.9 78.6 642.6 78.6 643.2 82.1 643.8 82.1 644.4 82.1 645.0 80.7 645.7 77.3 646.3 77.3 646.9 77.3 647.5 77.3 648.2 77.3 648.8 77.3 649.4 77.8 650.0 77.8 650.7 77.8 651.3 77.8 651.9 77.8 652.5 77.8 653.2 77.8 653.8 75.9 654.4 75.9 655.0 75.9 655.7 75.9 656.3 75.9 656.9 75.9 657.5 75.9 658.2 76.5 658.8 76.5 659.4 76.5 660.0 76.5 660.7 76.5 661.3 76.5 661.9 76.5 662.5 77.3 663.2 77.3 663.8 77.3 664.4 77.3 665.0 77.3 665.7 77.3 666.3 77.3 666.9 76.5 667.5 76.5 668.2 76.5 668.8 76.5 669.4 76.5 670.0 76.5 670.7 76.5 671.3 77.7 671.9 77.7 672.5 77.7 673.2 77.7 673.8 77.7 674.4 77.7 675.0 77.7 675.7 76.0 676.3 76.0 676.9 76.0 677.5 76.0 678.2 76.0 678.8 76.0 679.4 76.0 680.0 77.3 680.7 77.3 681.3 77.3 681.9 77.3 682.5 77.3 683.2 77.3 683.8 77.3 684.4 76.6 685.0 76.6 685.7 76.6 686.3 76.6 686.9 76.6 687.5 76.6 688.2 76.6 688.8 78.9 689.4 78.9 690.0 78.9 690.6 78.9 691.3 78.9 691.9 78.9 692.5 78.9 693.1 76.9 693.8 76.9 694.4 76.9 695.0 76.9 695.6 76.9 696.3 76.9 696.9 76.9 697.5 79.3 698.1 79.3 698.8 79.3 699.4 79.3 700.0 79.3 700.6 79.3 701.3 79.3 701.9 79.7 702.5 79.7 703.1 79.7 703.8 79.7 704.4 79.7 705.0 79.7 705.6 79.7 706.3 77.7 706.9 77.7 707.5 77.7 708.1 77.7 708.8 77.7 709.4 77.7 710.0 77.7 710.6 78.4 711.3 78.4 711.9 78.4 712.5 78.4 713.1 78.4 713.8 78.4 714.4 78.4 715.0 77.1 715.6 77.1 716.3 77.1 716.9 77.1 717.5 77.1 718.1 81.2 718.8 81.2 719.4 78.7 720.0 78.7 720.6 74.6 721.3 74.6 721.9 74.6 722.5 74.6 723.1 74.6 723.8 78.3 724.4 78.3 725.0 78.3 725.6 78.3 726.3 78.3 726.9 78.3 727.5 78.3 728.1 78.1 728.8 78.1 729.4 78.1 730.0 78.1 730.6 78.1 731.3 78.1 731.9 78.1 732.5 77.1 733.1 77.1 733.8 77.1 734.4 77.1 735.0 77.1 735.6 77.1 736.3 77.1 736.9 76.7 737.5 76.7 738.1 76.7 738.7 76.7 739.4 76.7 740.0 76.7 740.6 76.7 741.2 77.5 741.9 77.5 742.5 77.5 743.1 77.5 743.7 77.5 744.4 77.5 745.0 77.5 745.6 77.6 746.2 77.6 746.9 77.6 747.5 77.6 748.1 77.6 748.7 77.6 749.4 77.6 750.0 76.5 750.6 76.5 751.2 76.5 751.9 76.5 752.5 76.5 753.1 76.5 753.7 76.5 754.4 76.7 755.0 76.7 755.6 76.7 756.2 76.7 756.9 76.7 757.5 76.7 758.1 76.7 758.7 78.5 759.4 78.5 760.0 78.5 760.6 78.5 761.2 78.5 761.9 78.5 762.5 78.5 763.1 77.4 763.7 77.4 764.4 77.4 765.0 77.4 765.6 77.4 766.2 77.4 766.9 77.4 767.5 77.3 768.1 77.3 768.7 77.3 769.4 77.3 770.0 77.3 770.6 77.3 771.2 77.3 771.9 78.6 772.5 78.6 773.1 78.6 773.7 78.6 774.4 78.6 775.0 78.6 775.6 78.6 776.2 77.0 776.9 77.0 777.5 77.0 778.1 77.0 778.7 77.0 779.4 77.0 780.0 77.0 780.6 78.3 781.2 78.3 781.9 78.3 782.5 78.3 783.1 78.3 783.7 78.3 784.4 78.3 785.0 76.1 785.6 76.1 786.2 76.1 786.8 76.1 787.5 76.1 788.1 76.1 788.7 76.1 789.3 77.1 790.0 77.1 790.6 77.1 791.2 77.1 791.8 76.7 792.5 76.3 793.1 76.0 793.7 75.7 794.3 75.4 795.0 75.0 795.6 74.7 796.2 74.3 796.8 73.9 797.5 73.6 798.1 74.0 798.7 73.7 799.3 73.3 800.0 72.9 800.6 72.6 801.2 72.2 801.8 71.8 802.5 71.3 803.1 71.3 803.7 71.3 804.3 71.3 805.0 71.3 805.6 71.3 806.2 71.3 806.8 73.5 807.5 73.5 808.1 73.5 808.7 73.5 809.3 73.5 810.0 73.5 810.6 73.5 811.2 72.5 811.8 72.5 812.5 72.5 813.1 72.5 813.7 72.5 814.3 72.5 815.0 72.5 815.6 70.7 816.2 70.7 816.8 70.7 817.5 70.7 818.1 70.7 818.7 70.7 819.3 70.7 820.0 73.7 820.6 73.7 821.2 73.7 821.8 73.7 822.5 73.7 823.1 73.7 823.7 71.1 824.3 136.3 825.0 143.4 825.6 150.6 826.2 157.7 826.8 164.8 827.5 172.0 828.1 171.8 828.7 171.6 829.3 171.4 830.0 171.1 830.6 170.9 831.2 170.7 831.8 170.5 832.4 170.3 833.1 170.1 833.7 169.9 834.3 171.2 834.9 172.5 835.6 173.8 836.2 175.1 836.8 176.4 837.4 178.5 838.1 180.5 838.7 182.6 839.3 184.7 839.9 186.7 840.6 188.8 841.2 445.0 841.8 445.0 842.4 445.0 843.1 445.0 843.7 445.0 844.3 445.0 844.9 445.0 845.6 445.0 846.2 445.0 846.8 445.0 847.4 445.0 848.1 445.0 848.7 445.0 849.3 445.0 849.9 445.0 850.6 445.0 851.2 445.0 851.8 445.0 852.4 445.0 853.1 445.0 853.7 445.0 854.3 445.0 854.9 445.0 855.6 445.0 856.2 445.0 856.8 445.0 857.4 445.0 858.1 445.0 858.7 445.0 859.3 445.0 859.9 445.0 860.6 445.0 861.2 445.0 861.8 445.0 862.4 445.0 863.1 445.0 863.7 445.0 864.3 445.0 864.9 445.0 865.6 445.0 866.2 445.0 866.8 445.0 867.4 445.0 868.1 445.0 868.7 445.0 869.3 445.0 869.9 445.0 870.6 445.0 871.2 445.0 871.8 445.0 872.4 445.0 873.1 445.0 873.7 445.0 874.3 445.0 874.9 445.0 875.6 445.0 876.2 445.0 876.8 445.0 877.4 445.0 878.0 445.0 878.7 445.0 879.3 445.0 879.9 445.0 880.5 445.0 881.2 445.0 881.8 445.0 882.4 445.0 883.0 445.0 883.7 445.0 884.3 445.0 884.9 445.0 885.5 445.0 886.2 445.0 886.8 445.0 887.4 445.0 888.0 445.0 888.7 445.0 889.3 445.0 889.9 445.0 890.5 445.0 891.2 445.0 891.8 445.0 892.4 445.0 893.0 445.0 893.7 445.0 894.3 445.0 894.9 445.0 895.5 445.0 896.2 445.0 896.8 445.0 897.4 445.0 898.0 445.0 898.7 445.0 899.3 445.0 899.9 445.0 900.5 445.0 901.2 445.0 901.8 445.0 902.4 445.0 903.0 445.0 903.7 445.0 904.3 445.0 904.9 445.0 905.5 445.0 906.2 445.0 906.8 445.0 907.4 445.0 908.0 445.0 908.7 445.0 909.3 445.0 909.9 445.0 910.5 445.0 911.2 445.0 911.8 445.0 912.4 445.0 913.0 445.0 913.7 445.0 914.3 445.0 914.9 445.0 915.5 445.0 916.2 445.0 916.8 445.0 917.4 445.0 918.0 445.0 918.7 445.0 919.3 445.0 919.9 445.0 920.5 445.0 921.2 445.0 921.8 445.0 922.4 445.0 923.0 445.0 923.7 445.0 924.3 445.0 924.9 445.0 925.5 445.0 926.1 445.0 926.8 445.0 927.4 445.0 928.0 445.0 928.6 445.0 929.3 445.0 929.9 445.0 930.5 445.0 931.1 445.0 931.8 445.0 932.4 445.0 933.0 445.0 933.6 445.0 934.3 445.0 934.9 445.0 935.5 445.0 936.1 445.0 936.8 445.0 937.4 445.0 938.0 445.0 938.6 445.0 939.3 445.0 939.9 445.0 940.5 445.0 941.1 445.0 941.8 445.0 942.4 445.0 943.0 445.0 943.6 445.0 944.3 445.0 944.9 445.0 945.5 445.0 946.1 445.0 946.8 445.0 947.4 445.0 948.0 445.0 948.6 445.0 949.3 445.0 949.9 445.0 950.5 445.0 951.1 445.0 951.8 445.0 952.4 445.0 953.0 445.0 953.6 445.0 954.3 445.0 954.9 445.0 955.5 445.0 956.1 445.0 956.8 445.0 957.4 445.0 958.0 445.0 958.6 445.0 959.3 445.0 959.9 445.0 960.5 445.0 961.1 445.0 961.8 445.0 962.4 445.0 963.0 445.0 963.6 445.0 964.3 445.0 964.9 445.0 965.5 445.0 966.1 445.0 966.8 445.0 967.4 445.0 968.0 445.0 968.6 445.0 969.3 445.0 969.9 445.0 970.5 445.0 971.1 445.0 971.8 445.0 972.4 445.0 973.0 445.0 973.6 445.0 974.2 445.0 974.9 445.0 975.5 445.0 976.1 211.5 976.7 215.0 977.4 218.5 978.0 222.0 978.6 219.0 979.2 215.9 979.9 212.8 980.5 209.7 981.1 206.6 981.7 203.5 982.4 200.4 983.0 197.4 983.6 194.3 984.2 197.7 984.9 201.1 985.5 204.5 986.1 207.8 986.7 211.2 987.4 214.6 988.0 218.0 988.6 221.4 989.2 224.8 989.9 228.2 990.5 226.1 991.1 224.0 991.7 221.9 992.4 219.8 993.0 217.7 993.6 215.6 994.2 213.5 994.9 211.4 995.5 209.3 996.1 207.2 996.7 205.1 997.4 203.0 998.0 200.9 998.6 198.8 999.2 196.7 999.9 194.6 1000.5 192.6 1001.1 190.5 1001.7 188.4 1002.4 186.4 1003.0 184.3 1003.6 182.3 1004.2 180.2 1004.9 178.1 1005.5 176.1 1006.1 174.0 1006.7 161.5 1007.4 148.9 1008.0 136.3 1008.6 133.9 1009.2 131.5 1009.9 129.1 1010.5 126.7 1011.1 124.3 1011.7 121.9 1012.4 119.5 1013.0 117.1 1013.6 114.7 1014.2 112.3 1014.9 109.9 1015.5 107.5 1016.1 105.1 1016.7 102.2 1017.4 99.3 1018.0 96.4 1018.6 93.5 1019.2 90.6 1019.8 87.7 1020.5 84.8 1021.1 84.9 1021.7 84.3 1022.3 83.7 1023.0 83.2 1023.6 82.6 1024.2 82.0 1024.8 81.4 1025.5 80.4 1026.1 79.8 1026.7 79.2 1027.3 79.1 1028.0 79.1 1028.6 79.0 1029.2 78.9 1029.8 80.0 1030.5 80.0 1031.1 79.9 1031.7 79.8 1032.3 79.8 1033.0 79.7 1033.6 79.6 1034.2 79.7 1034.8 79.6 1035.5 79.6 1036.1 79.5 1036.7 79.4 1037.3 79.4 1038.0 79.3 1038.6 76.2 1039.2 76.1 1039.8 76.0 1040.5 76.0 1041.1 75.9 1041.7 75.8 1042.3 75.8 1043.0 77.9 1043.6 77.9 1044.2 77.8 1044.8 77.7 1045.5 77.7 1046.1 77.6 1046.7 77.5 1047.3 76.5 1048.0 76.4 1048.6 76.4 1049.2 76.3 1049.8 76.2 1050.5 76.2 1051.1 76.1 1051.7 76.4 1052.3 76.4 1053.0 76.3 1053.6 76.2 1054.2 76.2 1054.8 76.1 1055.5 76.0 1056.1 76.5 1056.7 76.5 1057.3 76.5 1058.0 76.4 1058.6 76.4 1059.2 76.4 1059.8 76.4 1060.5 76.5 1061.1 76.5 1061.7 76.5 1062.3 76.5 1063.0 76.5 1063.6 76.5 1064.2 76.5 1064.8 75.1 1065.5 75.1 1066.1 75.1 1066.7 75.1 1067.3 75.1 1067.9 75.1 1068.6 75.1 1069.2 76.2 1069.8 76.2 1070.4 76.2 1071.1 76.2 1071.7 76.2 1072.3 76.1 1072.9 76.1 1073.6 76.0 1074.2 75.9 1074.8 75.9 1075.4 75.9 1076.1 75.9 1076.7 75.9 1077.3 75.9 1077.9 75.7 1078.6 75.7 1079.2 75.7 1079.8 75.7 1080.4 75.7 1081.1 75.7 1081.7 75.7 1082.3 74.3 1082.9 74.3 1083.6 74.3 1084.2 74.3 1084.8 74.3 1085.4 74.3 1086.1 74.2 1086.7 74.8 1087.3 74.8 1087.9 74.8 1088.6 74.8 1089.2 74.8 1089.8 74.8 1090.4 74.8 1091.1 75.2 1091.7 75.1 1092.3 75.1 1092.9 75.1 1093.6 75.1 1094.2 75.1 1094.8 75.1 1095.4 76.2 1096.1 76.2 1096.7 76.2 1097.3 76.2 1097.9 76.2 1098.6 76.2 1099.2 76.2 1099.8 77.2 1100.4 77.2 1101.1 77.2 1101.7 77.2 1102.3 77.2 1102.9 77.2 1103.6 77.2 1104.2 74.4 1104.8 74.3 1105.4 74.3 1106.1 74.3 1106.7 74.3 1107.3 74.3 1107.9 74.3 1108.6 74.3 1109.2 74.3 1109.8 74.3 1110.4 74.3 1111.1 74.3 1111.7 74.3 1112.3 74.3 1112.9 75.6 1113.5 75.6 1114.2 75.6 1114.8 81.7 1115.4 81.7 1116.0 81.7 1116.7 81.7 1117.3 74.7 1117.9 74.7 1118.5 74.7 1119.2 74.7 1119.8 74.7 1120.4 74.7 1121.0 74.7 1121.7 74.4 1122.3 74.4 1122.9 74.4 1123.5 74.4 1124.2 74.4 1124.8 74.4 1125.4 74.4 1126.0 74.3 1126.7 74.3 1127.3 74.3 1127.9 74.3 1128.5 74.3 1129.2 74.3 1129.8 74.3 1130.4 74.1 1131.0 74.1 1131.7 74.1 1132.3 74.1 1132.9 74.1 1133.5 74.1 1134.2 74.1 1134.8 75.8 1135.4 75.8 1136.0 75.7 1136.7 75.7 1137.3 75.7 1137.9 75.7 1138.5 75.7 1139.2 73.4 1139.8 73.3 1140.4 73.3 1141.0 73.3 1141.7 73.3 1142.3 73.3 1142.9 73.3 1143.5 76.6 1144.2 76.6 1144.8 76.6 1145.4 76.6 1146.0 76.6 1146.7 76.6 1147.3 76.6 1147.9 74.1 1148.5 74.1 1149.2 74.0 1149.8 74.0 1150.4 74.0 1151.0 74.0 1151.7 74.0 1152.3 74.5 1152.9 74.5 1153.5 74.4 1154.2 74.4 1154.8 74.4 1155.4 74.4 1156.0 74.4 1156.7 74.0 1157.3 74.0 1157.9 74.0 1158.5 73.9 1159.2 73.9 1159.8 73.9 1160.4 73.9 1161.0 72.7 1161.6 72.7 1162.3 72.7 1162.9 72.7 1163.5 72.7 1164.1 72.7 1164.8 72.7 1165.4 73.1 1166.0 73.1 1166.6 73.1 1167.3 73.1 1167.9 73.1 1168.5 73.1 1169.1 73.1 1169.8 76.3 1170.4 76.3 1171.0 76.3 1171.6 76.2 1172.3 76.2 1172.9 76.2 1173.5 76.2 1174.1 76.9 1174.8 76.9 1175.4 76.9 1176.0 76.9 1176.6 76.9 1177.3 76.9 1177.9 76.8 1178.5 73.8 1179.1 73.8 1179.8 73.8 1180.4 73.8 1181.0 73.8 1181.6 73.8 1182.3 73.8 1182.9 76.0 1183.5 76.0 1184.1 76.0 1184.8 76.0 1185.4 76.0 1186.0 76.0 1186.6 76.0 1187.3 74.7 1187.9 74.7 1188.5 74.7 1189.1 74.7 1189.8 74.7 1190.4 74.7 1191.0 74.7 1191.6 73.7 1192.3 73.7 1192.9 73.7 1193.5 73.7 1194.1 73.7 1194.8 73.7 1195.4 73.6 1196.0 76.6 1196.6 76.6 1197.3 76.6 1197.9 76.6 1198.5 76.6 1199.1 76.6 1199.8 76.6 1200.4 77.1 1201.0 77.1 1201.6 77.1 1202.3 77.1 1202.9 77.1 1203.5 77.1 1204.1 77.1 1204.8 74.3 1205.4 74.3 1206.0 74.2" stroke="#8c817c" stroke-width="3.6"/>
</g>
<g stroke="#bcbcbc" stroke-width="3.2" shape-rendering="crispEdges"><line x1="289.5" y1="1262.60" x2="1226.5" y2="1262.60" stroke-dasharray="3 11.6"/><line x1="289.5" y1="1136.70" x2="1226.5" y2="1136.70" stroke-dasharray="3 11.6"/><line x1="289.5" y1="1010.80" x2="1226.5" y2="1010.80" stroke-dasharray="3 11.6"/><line x1="601.83" y1="1388.4" x2="601.83" y2="970.0" stroke-dasharray="3 11.6"/><line x1="914.17" y1="1388.4" x2="914.17" y2="970.0" stroke-dasharray="3 11.6"/></g>
<path d="M289.50 1388.4v-26.0M289.50 970.0v26.0M367.50 1388.4v-17.5M367.50 970.0v17.5M445.50 1388.4v-17.5M445.50 970.0v17.5M523.50 1388.4v-17.5M523.50 970.0v17.5M601.50 1388.4v-26.0M601.50 970.0v26.0M679.50 1388.4v-17.5M679.50 970.0v17.5M758.50 1388.4v-17.5M758.50 970.0v17.5M836.50 1388.4v-17.5M836.50 970.0v17.5M914.50 1388.4v-26.0M914.50 970.0v26.0M992.50 1388.4v-17.5M992.50 970.0v17.5M1070.50 1388.4v-17.5M1070.50 970.0v17.5M1148.50 1388.4v-17.5M1148.50 970.0v17.5M1226.50 1388.4v-26.0M1226.50 970.0v26.0M289.5 1388.50h26.0M1226.5 1388.50h-26.0M289.5 1262.50h26.0M1226.5 1262.50h-26.0M289.5 1136.50h26.0M1226.5 1136.50h-26.0M289.5 1010.50h26.0M1226.5 1010.50h-26.0" stroke="#7a7a7a" stroke-width="1" fill="none" shape-rendering="crispEdges"/>
<rect x="289.5" y="970.0" width="937.0" height="418.4000000000001" fill="none" stroke="#000" stroke-width="3.8"/>
<clipPath id="c2"><rect x="289.5" y="970.0" width="937.0" height="418.4000000000001"/></clipPath>
<g clip-path="url(#c2)" fill="none" stroke-linejoin="miter" stroke-miterlimit="10" shape-rendering="crispEdges">
<path d="M289.5 1036.5 291.1 1094.5 292.6 1051.5 294.2 1051.6 295.7 1054.8 297.3 1060.3 298.9 1046.6 300.4 1035.0 302.0 1063.8 303.6 1055.4 305.1 1037.4 306.7 1094.3 308.2 1041.6 309.8 1073.9 311.4 1064.7 312.9 1040.4 314.5 1045.4 316.0 1056.8 317.6 1064.9 319.2 1069.3 320.7 1056.4 322.3 1045.1 323.9 1039.0 325.4 1052.7 327.0 1054.7 328.5 1038.5 330.1 1065.8 331.7 1059.2 333.2 1053.4 334.8 1062.4 336.4 1043.1 337.9 1061.8 339.5 1062.9 341.0 1013.4 342.6 1070.8 344.2 1042.8 345.7 1052.0 347.3 1091.2 348.8 1113.9 350.4 1146.8 352.0 1152.0 353.5 1133.8 355.1 1192.3 356.7 1201.6 358.2 1183.1 359.8 1186.0 361.3 1387.9 362.9 1387.9 364.5 1387.9 366.0 1387.9 367.6 1387.9 369.1 1387.9 370.7 1387.9 372.3 1011.9 373.8 1055.2 375.4 1062.5 377.0 1027.7 378.5 1037.9 380.1 1116.3 381.6 1061.5 383.2 1046.6 384.8 1072.5 386.3 1069.9 387.9 1048.1 389.4 1067.2 391.0 1066.2 392.6 1081.8 394.1 1065.3 395.7 1066.3 397.3 1059.9 398.8 1043.8 400.4 1066.8 401.9 1102.4 403.5 1085.4 405.1 1046.3 406.6 1075.3 408.2 1067.9 409.7 1045.2 411.3 1018.2 412.9 1094.6 414.4 1033.4 416.0 1052.8 417.6 1062.4 419.1 1093.5 420.7 1084.0 422.2 1041.7 423.8 1096.1 425.4 1021.4 426.9 1053.9 428.5 1062.2 430.1 1100.6 431.6 1060.6 433.2 1042.2 434.7 1052.1 436.3 1051.8 437.9 1055.3 439.4 1051.6 441.0 1043.8 442.5 1023.5 444.1 1073.5 445.7 1063.0 447.2 1043.3 448.8 1069.1 450.4 1091.2 451.9 1057.8 453.5 1071.4 455.0 1038.0 456.6 1034.6 458.2 1037.9 459.7 1032.5 461.3 1037.1 462.8 1062.3 464.4 1079.3 466.0 1048.2 467.5 1019.5 469.1 1049.2 470.7 1031.8 472.2 1041.8 473.8 1050.5 475.3 1080.4 476.9 1055.9 478.5 1036.7 480.0 1060.9 481.6 1059.9 483.1 1077.2 484.7 1084.5 486.3 1072.3 487.8 1084.9 489.4 1040.0 491.0 1031.3 492.5 1084.5 494.1 1045.0 495.6 1052.6 497.2 1068.4 498.8 1057.9 500.3 1026.8 501.9 1061.3 503.4 1048.4 505.0 1069.4 506.6 1060.8 508.1 1101.6 509.7 1061.5 511.3 1049.1 512.8 1091.6 514.4 1063.0 515.9 1097.8 517.5 1047.4 519.1 1064.6 520.6 1052.2 522.2 1092.1 523.8 1056.5 525.3 1056.2 526.9 1083.2 528.4 1043.4 530.0 1029.1 531.6 1066.3 533.1 1074.3 534.7 1050.9 536.2 1021.1 537.8 1065.7 539.4 1079.1 540.9 1060.5 542.5 1079.6 544.1 1062.5 545.6 1083.4 547.2 1082.4 548.7 1028.2 550.3 1052.5 551.9 1072.5 553.4 1071.1 555.0 1173.8 556.5 1212.4 558.1 1185.9 559.7 1195.0 561.2 1185.2 562.8 1193.1 564.4 1218.1 565.9 1221.8 567.5 1202.3 569.0 1182.1 570.6 1160.0 572.2 1106.6 573.7 1089.8 575.3 1008.2 576.8 1024.9 578.4 1087.4 580.0 1063.5 581.5 1045.3 583.1 1029.9 584.7 1054.6 586.2 1031.0 587.8 1066.8 589.3 1053.1 590.9 1065.5 592.5 1091.0 594.0 1055.1 595.6 1099.3 597.1 1026.9 598.7 1019.4 600.3 1037.8 601.8 1075.4 603.4 1065.5 605.0 1051.0 606.5 1038.0 608.1 1065.0 609.6 1067.8 611.2 1055.6 612.8 1034.2 614.3 1068.6 615.9 1031.4 617.5 1057.3 619.0 1069.6 620.6 1063.4 622.1 1071.0 623.7 1055.0 625.3 1065.3 626.8 1075.1 628.4 1055.1 629.9 1071.4 631.5 1061.4 633.1 1042.2 634.6 1043.1 636.2 1059.1 637.8 1058.1 639.3 1060.7 640.9 1117.6 642.4 1069.8 644.0 1066.0 645.6 1045.4 647.1 1037.0 648.7 1068.0 650.2 1075.3 651.8 1084.5 653.4 1052.2 654.9 1049.0 656.5 1071.5 658.1 1040.3 659.6 1041.4 661.2 1063.0 662.7 1066.3 664.3 1067.9 665.9 1058.2 667.4 1100.3 669.0 1092.6 670.5 1064.5 672.1 1055.0 673.7 1041.3 675.2 1103.1 676.8 1034.5 678.4 1094.5 679.9 1052.2 681.5 1056.5 683.0 1085.6 684.6 1055.2 686.2 1065.0 687.7 1064.6 689.3 1057.3 690.8 1083.4 692.4 1081.2 694.0 1093.0 695.5 1050.3 697.1 1051.7 698.7 1078.9 700.2 1080.9 701.8 1060.8 703.3 1077.4 704.9 1054.2 706.5 1048.3 708.0 1083.6 709.6 1059.0 711.1 1070.7 712.7 1045.2 714.3 1095.1 715.8 1040.3 717.4 1064.8 719.0 1059.3 720.5 1070.3 722.1 1098.0 723.6 1056.5 725.2 1042.6 726.8 1045.4 728.3 1062.1 729.9 1085.3 731.5 1088.4 733.0 1046.6 734.6 1062.9 736.1 1056.2 737.7 1069.0 739.3 1075.1 740.8 1053.3 742.4 1084.4 743.9 1044.3 745.5 1054.7 747.1 1047.2 748.6 1050.7 750.2 1037.4 751.8 1062.5 753.3 1047.7 754.9 1051.9 756.4 1053.0 758.0 1060.6 759.6 1084.7 761.1 1041.9 762.7 1029.8 764.2 1053.3 765.8 1041.0 767.4 1066.2 768.9 1086.2 770.5 1025.2 772.1 1060.0 773.6 1077.2 775.2 1051.7 776.7 1077.7 778.3 1045.8 779.9 1047.5 781.4 1064.1 783.0 1050.7 784.5 1084.2 786.1 1045.6 787.7 1061.8 789.2 1076.5 790.8 1056.5 792.4 1064.9 793.9 1056.0 795.5 1045.5 797.0 1053.0 798.6 1062.3 800.2 1063.3 801.7 1061.4 803.3 1043.4 804.9 1088.6 806.4 1050.0 808.0 1054.8 809.5 1093.5 811.1 1068.8 812.7 1056.2 814.2 1029.9 815.8 1051.4 817.3 1065.9 818.9 1048.4 820.5 1046.1 822.0 1047.3 823.6 1008.8 825.2 1050.0 826.7 1079.1 828.3 1034.9 829.8 1070.1 831.4 1020.6 833.0 1044.1 834.5 1057.7 836.1 1054.2 837.6 1050.7 839.2 1032.8 840.8 1040.3 842.3 1051.0 843.9 1131.6 845.5 1125.3 847.0 1179.7 848.6 1190.8 850.1 1198.7 851.7 1213.8 853.3 1157.3 854.8 1144.5 856.4 1147.1 857.9 1151.2 859.5 1163.4 861.1 1171.3 862.6 1387.9 864.2 1387.9 865.8 1387.9 867.3 1387.9 868.9 1387.9 870.4 1387.9 872.0 1387.9 873.6 1387.9 875.1 1387.9 876.7 1387.9 878.2 1387.9 879.8 1387.9 881.4 1387.9 882.9 1387.9 884.5 1387.9 886.1 1387.9 887.6 1387.9 889.2 1387.9 890.7 1387.9 892.3 1387.9 893.9 1387.9 895.4 1387.9 897.0 1387.9 898.5 1387.9 900.1 1387.9 901.7 1387.9 903.2 1387.9 904.8 1387.9 906.4 1387.9 907.9 1387.9 909.5 1387.9 911.0 1387.9 912.6 1387.9 914.2 1387.9 915.7 1387.9 917.3 1387.9 918.9 1387.9 920.4 1387.9 922.0 1387.9 923.5 1387.9 925.1 1387.9 926.7 1387.9 928.2 1387.9 929.8 1387.9 931.3 1387.9 932.9 1387.9 934.5 1387.9 936.0 1387.9 937.6 1387.9 939.2 1387.9 940.7 1387.9 942.3 1387.9 943.8 1387.9 945.4 1387.9 947.0 1387.9 948.5 1387.9 950.1 1387.9 951.6 1387.9 953.2 1387.9 954.8 1387.9 956.3 1387.9 957.9 1387.9 959.5 1387.9 961.0 1387.9 962.6 1387.9 964.1 1387.9 965.7 1387.9 967.3 1387.9 968.8 1387.9 970.4 1387.9 971.9 1387.9 973.5 1387.9 975.1 1387.9 976.6 1387.9 978.2 1387.9 979.8 1387.9 981.3 1387.9 982.9 1387.9 984.4 1387.9 986.0 1387.9 987.6 1387.9 989.1 1387.9 990.7 1387.9 992.2 1387.9 993.8 1387.9 995.4 1387.9 996.9 1153.9 998.5 1175.6 1000.1 1187.7 1001.6 1174.1 1003.2 1190.4 1004.7 1191.9 1006.3 1153.3 1007.9 1225.6 1009.4 1178.2 1011.0 1160.1 1012.6 1171.3 1014.1 1183.3 1015.7 1150.7 1017.2 1166.8 1018.8 1158.5 1020.4 1165.2 1021.9 1152.4 1023.5 1114.1 1025.0 1138.7 1026.6 1135.7 1028.2 1123.2 1029.7 1123.0 1031.3 1083.2 1032.9 1058.6 1034.4 1048.7 1036.0 1112.8 1037.5 1083.5 1039.1 1056.4 1040.7 1057.2 1042.2 1067.2 1043.8 1043.0 1045.3 1046.3 1046.9 1066.9 1048.5 1094.7 1050.0 1064.8 1051.6 1047.9 1053.2 1050.4 1054.7 1044.9 1056.3 1050.7 1057.8 1098.4 1059.4 1082.7 1061.0 1031.8 1062.5 1043.4 1064.1 1041.2 1065.6 1040.3 1067.2 1063.7 1068.8 1041.7 1070.3 1074.0 1071.9 1048.4 1073.5 1060.4 1075.0 1084.5 1076.6 1092.6 1078.1 1081.5 1079.7 1051.5 1081.3 1056.9 1082.8 1063.1 1084.4 1062.1 1086.0 1058.7 1087.5 1029.2 1089.1 1066.4 1090.6 1077.8 1092.2 1063.6 1093.8 1077.4 1095.3 1045.4 1096.9 1054.6 1098.4 1055.2 1100.0 1043.6 1101.6 1081.5 1103.1 1074.7 1104.7 1065.6 1106.3 1079.5 1107.8 1058.0 1109.4 1080.4 1110.9 1080.4 1112.5 1078.3 1114.1 1040.7 1115.6 1041.2 1117.2 1039.3 1118.7 1049.2 1120.3 1050.8 1121.9 1065.0 1123.4 1063.8 1125.0 1057.9 1126.6 1041.7 1128.1 1094.7 1129.7 1040.4 1131.2 1041.2 1132.8 1059.3 1134.4 1026.8 1135.9 1046.0 1137.5 1054.7 1139.0 1055.6 1140.6 1043.9 1142.2 1074.6 1143.7 1031.5 1145.3 1094.0 1146.9 1071.0 1148.4 1058.0 1150.0 1070.8 1151.5 1090.5 1153.1 1040.1 1154.7 1105.8 1156.2 1043.6 1157.8 1062.1 1159.3 1053.2 1160.9 1048.6 1162.5 1083.0 1164.0 1071.1 1165.6 1104.0 1167.2 1097.2 1168.7 1054.8 1170.3 1020.9 1171.8 1053.5 1173.4 1070.3 1175.0 1043.3 1176.5 1049.0 1178.1 1037.7 1179.7 1032.6 1181.2 1044.3 1182.8 1054.6 1184.3 1087.1 1185.9 1066.7 1187.5 1065.4 1189.0 1066.3 1190.6 1049.6 1192.1 1055.3 1193.7 1069.9 1195.3 1044.0 1196.8 1055.2 1198.4 1070.6 1200.0 1050.7 1201.5 1064.5 1203.1 1046.7 1204.6 1032.2 1206.2 1085.4 1207.8 1054.1 1209.3 1062.4 1210.9 1050.3 1212.4 1033.3 1214.0 1020.9 1215.6 1056.9 1217.1 1070.3 1218.7 1021.4 1220.3 1039.9 1221.8 1050.2 1223.4 1035.2 1224.9 1075.2 1226.5 1041.4" stroke="#001f45" stroke-width="3.3"/>
<path d="M289.5 1061.9 290.1 1061.9 290.7 1061.9 291.4 1061.9 292.0 1061.9 292.6 1061.9 293.2 1061.9 293.9 1060.7 294.5 1060.7 295.1 1060.7 295.7 1060.7 296.4 1060.7 297.0 1060.7 297.6 1060.7 298.2 1059.9 298.9 1059.9 299.5 1059.9 300.1 1059.9 300.7 1059.9 301.4 1059.9 302.0 1059.9 302.6 1060.4 303.2 1060.4 303.9 1060.4 304.5 1060.4 305.1 1060.4 305.7 1060.4 306.4 1060.4 307.0 1061.1 307.6 1061.1 308.2 1061.1 308.9 1061.1 309.5 1061.1 310.1 1061.1 310.7 1061.1 311.4 1060.2 312.0 1060.2 312.6 1060.2 313.2 1060.2 313.9 1060.2 314.5 1060.2 315.1 1060.2 315.7 1061.3 316.4 1061.3 317.0 1061.3 317.6 1061.3 318.2 1061.3 318.9 1061.3 319.5 1061.3 320.1 1059.5 320.7 1059.5 321.4 1059.5 322.0 1059.5 322.6 1059.5 323.2 1059.5 323.9 1059.5 324.5 1061.9 325.1 1061.9 325.7 1061.9 326.4 1061.9 327.0 1061.9 327.6 1061.9 328.2 1061.9 328.9 1062.2 329.5 1062.2 330.1 1062.2 330.7 1062.2 331.4 1062.2 332.0 1062.2 332.6 1062.2 333.2 1060.4 333.9 1060.4 334.5 1060.4 335.1 1060.4 335.7 1060.4 336.4 1060.4 337.0 1060.4 337.6 1061.2 338.2 1061.2 338.8 1061.2 339.5 1061.2 340.1 1061.2 340.7 1061.2 341.3 1061.2 342.0 1059.2 342.6 1059.2 343.2 1059.2 343.8 1059.2 344.5 1059.2 345.1 1059.2 345.7 1059.2 346.3 1061.2 347.0 1061.2 347.6 1060.6 348.2 1080.6 348.8 1120.7 349.5 1122.8 350.1 1124.8 350.7 1126.9 351.3 1128.9 352.0 1131.0 352.6 1133.0 353.2 1135.1 353.8 1137.1 354.5 1142.6 355.1 1148.1 355.7 1153.6 356.3 1159.1 357.0 1164.6 357.6 1170.1 358.2 1171.2 358.8 1172.4 359.5 1173.5 360.1 1174.6 360.7 1175.8 361.3 1176.9 362.0 1375.8 362.6 1375.8 363.2 1375.8 363.8 1375.8 364.5 1375.8 365.1 1375.8 365.7 1375.8 366.3 1375.8 367.0 1375.8 367.6 1375.8 368.2 1375.8 368.8 1375.8 369.5 1375.8 370.1 1375.8 370.7 1375.8 371.3 1375.8 372.0 1152.1 372.6 1062.6 373.2 1064.6 373.8 1064.6 374.5 1064.6 375.1 1064.6 375.7 1064.5 376.3 1064.5 377.0 1063.3 377.6 1063.3 378.2 1063.3 378.8 1063.3 379.5 1063.3 380.1 1063.3 380.7 1063.2 381.3 1061.8 382.0 1061.8 382.6 1061.8 383.2 1061.8 383.8 1061.8 384.4 1061.8 385.1 1061.8 385.7 1061.5 386.3 1061.5 386.9 1061.5 387.6 1061.5 388.2 1061.5 388.8 1061.5 389.4 1061.5 390.1 1063.0 390.7 1063.0 391.3 1063.0 391.9 1063.0 392.6 1063.0 393.2 1062.9 393.8 1062.9 394.4 1060.4 395.1 1060.4 395.7 1060.3 396.3 1060.3 396.9 1060.3 397.6 1060.3 398.2 1060.3 398.8 1062.4 399.4 1062.4 400.1 1062.4 400.7 1062.4 401.3 1062.4 401.9 1062.3 402.6 1062.3 403.2 1060.8 403.8 1060.8 404.4 1060.8 405.1 1060.8 405.7 1060.8 406.3 1060.8 406.9 1060.8 407.6 1062.2 408.2 1062.2 408.8 1062.2 409.4 1062.2 410.1 1062.2 410.7 1062.2 411.3 1062.2 411.9 1063.5 412.6 1063.5 413.2 1063.5 413.8 1063.5 414.4 1063.5 415.1 1063.5 415.7 1063.5 416.3 1062.6 416.9 1062.6 417.6 1062.6 418.2 1062.6 418.8 1062.6 419.4 1062.6 420.1 1062.6 420.7 1061.1 421.3 1061.1 421.9 1061.1 422.6 1061.1 423.2 1061.1 423.8 1061.1 424.4 1061.1 425.1 1060.9 425.7 1060.9 426.3 1060.9 426.9 1060.9 427.6 1060.9 428.2 1060.8 428.8 1060.8 429.4 1061.8 430.1 1061.8 430.7 1061.8 431.3 1061.7 431.9 1061.7 432.5 1061.7 433.2 1061.7 433.8 1059.7 434.4 1059.7 435.0 1059.7 435.7 1059.7 436.3 1059.7 436.9 1059.7 437.5 1059.6 438.2 1061.5 438.8 1061.5 439.4 1061.5 440.0 1061.5 440.7 1061.5 441.3 1061.5 441.9 1061.5 442.5 1061.0 443.2 1061.0 443.8 1061.0 444.4 1061.0 445.0 1061.0 445.7 1061.0 446.3 1061.0 446.9 1061.1 447.5 1061.1 448.2 1061.1 448.8 1061.1 449.4 1061.1 450.0 1061.1 450.7 1061.0 451.3 1061.9 451.9 1061.9 452.5 1061.9 453.2 1061.9 453.8 1061.9 454.4 1061.9 455.0 1061.9 455.7 1062.7 456.3 1062.7 456.9 1062.7 457.5 1062.7 458.2 1062.7 458.8 1062.7 459.4 1062.7 460.0 1061.4 460.7 1061.4 461.3 1061.4 461.9 1061.4 462.5 1061.4 463.2 1061.4 463.8 1061.4 464.4 1061.6 465.0 1061.6 465.7 1061.6 466.3 1061.6 466.9 1061.5 467.5 1061.5 468.2 1061.5 468.8 1061.8 469.4 1061.8 470.0 1061.8 470.7 1061.8 471.3 1061.8 471.9 1061.8 472.5 1061.8 473.2 1061.0 473.8 1061.0 474.4 1061.0 475.0 1061.0 475.7 1061.0 476.3 1061.0 476.9 1061.0 477.5 1061.6 478.1 1061.6 478.8 1061.6 479.4 1061.6 480.0 1061.6 480.6 1061.6 481.3 1061.6 481.9 1060.2 482.5 1060.2 483.1 1060.2 483.8 1060.1 484.4 1060.1 485.0 1060.1 485.6 1060.1 486.3 1060.3 486.9 1060.3 487.5 1060.3 488.1 1060.3 488.8 1060.3 489.4 1060.3 490.0 1060.3 490.6 1061.6 491.3 1061.6 491.9 1061.6 492.5 1061.6 493.1 1061.6 493.8 1061.6 494.4 1061.6 495.0 1059.6 495.6 1059.6 496.3 1059.6 496.9 1059.6 497.5 1059.6 498.1 1059.6 498.8 1059.6 499.4 1061.1 500.0 1061.1 500.6 1061.1 501.3 1061.1 501.9 1061.1 502.5 1061.1 503.1 1061.0 503.8 1062.6 504.4 1062.6 505.0 1062.6 505.6 1062.6 506.3 1062.5 506.9 1062.5 507.5 1062.5 508.1 1062.3 508.8 1062.2 509.4 1062.2 510.0 1062.2 510.6 1062.2 511.3 1062.2 511.9 1062.2 512.5 1061.4 513.1 1061.4 513.8 1061.4 514.4 1065.9 515.0 1071.6 515.6 1064.0 516.3 1063.5 516.9 1076.1 517.5 1076.2 518.1 1065.0 518.8 1071.7 519.4 1074.2 520.0 1068.8 520.6 1062.9 521.3 1066.5 521.9 1061.3 522.5 1071.4 523.1 1061.7 523.8 1070.9 524.4 1065.9 525.0 1061.8 525.6 1067.2 526.2 1069.2 526.9 1071.1 527.5 1066.1 528.1 1069.2 528.7 1066.4 529.4 1063.4 530.0 1068.0 530.6 1061.4 531.2 1065.4 531.9 1065.8 532.5 1067.0 533.1 1061.5 533.7 1067.5 534.4 1068.1 535.0 1069.6 535.6 1069.2 536.2 1074.7 536.9 1068.3 537.5 1061.5 538.1 1067.4 538.7 1064.8 539.4 1061.4 540.0 1068.3 540.6 1063.5 541.2 1071.2 541.9 1062.4 542.5 1076.2 543.1 1070.4 543.7 1068.4 544.4 1062.7 545.0 1067.6 545.6 1069.9 546.2 1065.5 546.9 1072.1 547.5 1061.3 548.1 1062.2 548.7 1065.0 549.4 1071.4 550.0 1062.4 550.6 1073.7 551.2 1065.2 551.9 1065.6 552.5 1065.3 553.1 1068.4 553.7 1064.4 554.4 1062.8 555.0 1134.0 555.6 1205.1 556.2 1205.1 556.9 1205.1 557.5 1205.1 558.1 1205.1 558.7 1205.1 559.4 1205.1 560.0 1205.1 560.6 1205.1 561.2 1205.1 561.9 1205.1 562.5 1205.1 563.1 1205.1 563.7 1205.1 564.4 1205.1 565.0 1205.1 565.6 1205.1 566.2 1205.1 566.9 1205.1 567.5 1205.1 568.1 1205.1 568.7 1205.1 569.4 1179.4 570.0 1179.4 570.6 1179.4 571.2 1179.4 571.8 1179.4 572.5 1179.4 573.1 1101.2 573.7 1062.1 574.3 1062.5 575.0 1062.5 575.6 1062.5 576.2 1062.5 576.8 1062.5 577.5 1062.5 578.1 1062.8 578.7 1062.8 579.3 1062.8 580.0 1062.8 580.6 1062.8 581.2 1062.8 581.8 1062.8 582.5 1060.1 583.1 1060.1 583.7 1060.1 584.3 1060.1 585.0 1060.1 585.6 1060.1 586.2 1060.1 586.8 1061.4 587.5 1061.4 588.1 1061.4 588.7 1061.4 589.3 1061.4 590.0 1061.4 590.6 1061.4 591.2 1061.6 591.8 1061.6 592.5 1061.6 593.1 1061.6 593.7 1061.6 594.3 1061.6 595.0 1061.6 595.6 1060.5 596.2 1060.5 596.8 1060.5 597.5 1060.5 598.1 1060.5 598.7 1060.5 599.3 1060.5 600.0 1062.7 600.6 1062.7 601.2 1062.7 601.8 1062.7 602.5 1062.7 603.1 1062.7 603.7 1062.7 604.3 1061.1 605.0 1061.1 605.6 1061.1 606.2 1061.1 606.8 1061.1 607.5 1061.1 608.1 1061.1 608.7 1062.3 609.3 1062.3 610.0 1062.3 610.6 1062.3 611.2 1062.3 611.8 1062.3 612.5 1062.3 613.1 1063.7 613.7 1063.7 614.3 1063.7 615.0 1063.7 615.6 1063.7 616.2 1063.8 616.8 1063.8 617.5 1062.8 618.1 1062.8 618.7 1062.8 619.3 1062.9 619.9 1062.9 620.6 1062.9 621.2 1062.9 621.8 1062.0 622.4 1062.0 623.1 1062.0 623.7 1062.0 624.3 1062.0 624.9 1062.0 625.6 1062.0 626.2 1063.1 626.8 1063.1 627.4 1063.1 628.1 1063.1 628.7 1063.1 629.3 1063.1 629.9 1063.1 630.6 1063.2 631.2 1063.2 631.8 1063.2 632.4 1063.2 633.1 1063.2 633.7 1063.2 634.3 1063.2 634.9 1061.5 635.6 1061.5 636.2 1061.5 636.8 1061.5 637.4 1061.5 638.1 1061.5 638.7 1061.5 639.3 1062.1 639.9 1062.1 640.6 1062.1 641.2 1062.1 641.8 1062.1 642.4 1062.1 643.1 1062.1 643.7 1062.8 644.3 1062.8 644.9 1062.8 645.6 1062.8 646.2 1062.8 646.8 1062.8 647.4 1062.8 648.1 1063.9 648.7 1063.9 649.3 1063.9 649.9 1063.9 650.6 1063.9 651.2 1063.9 651.8 1063.9 652.4 1061.7 653.1 1061.7 653.7 1061.7 654.3 1061.7 654.9 1061.7 655.6 1061.7 656.2 1061.7 656.8 1061.2 657.4 1061.2 658.1 1061.2 658.7 1061.2 659.3 1061.2 659.9 1061.2 660.6 1061.2 661.2 1062.2 661.8 1062.2 662.4 1062.2 663.1 1062.3 663.7 1062.3 664.3 1062.3 664.9 1062.3 665.5 1061.7 666.2 1061.7 666.8 1061.7 667.4 1061.8 668.0 1061.8 668.7 1061.8 669.3 1061.8 669.9 1062.6 670.5 1062.6 671.2 1062.6 671.8 1062.6 672.4 1062.6 673.0 1062.6 673.7 1062.6 674.3 1061.2 674.9 1061.2 675.5 1061.2 676.2 1061.2 676.8 1061.2 677.4 1061.2 678.0 1061.3 678.7 1061.4 679.3 1061.4 679.9 1061.4 680.5 1061.4 681.2 1061.4 681.8 1061.4 682.4 1061.4 683.0 1062.2 683.7 1062.2 684.3 1062.2 684.9 1062.2 685.5 1062.2 686.2 1062.2 686.8 1062.2 687.4 1061.5 688.0 1061.5 688.7 1061.5 689.3 1061.5 689.9 1061.5 690.5 1061.5 691.2 1061.5 691.8 1062.6 692.4 1062.6 693.0 1062.6 693.7 1062.6 694.3 1062.6 694.9 1062.6 695.5 1062.6 696.2 1061.0 696.8 1061.0 697.4 1061.0 698.0 1061.0 698.7 1061.0 699.3 1061.0 699.9 1061.0 700.5 1061.4 701.2 1061.4 701.8 1061.4 702.4 1061.4 703.0 1061.4 703.7 1061.4 704.3 1061.4 704.9 1062.7 705.5 1062.7 706.2 1062.7 706.8 1062.7 707.4 1062.7 708.0 1062.7 708.7 1062.7 709.3 1061.3 709.9 1061.3 710.5 1061.3 711.1 1061.4 711.8 1061.4 712.4 1061.4 713.0 1061.4 713.6 1062.3 714.3 1062.3 714.9 1062.3 715.5 1062.3 716.1 1062.3 716.8 1062.3 717.4 1062.3 718.0 1062.8 718.6 1062.8 719.3 1062.8 719.9 1062.8 720.5 1062.8 721.1 1062.8 721.8 1062.8 722.4 1062.4 723.0 1062.4 723.6 1062.4 724.3 1062.4 724.9 1062.4 725.5 1062.4 726.1 1062.5 726.8 1063.2 727.4 1063.2 728.0 1063.2 728.6 1063.2 729.3 1063.2 729.9 1063.2 730.5 1063.2 731.1 1062.1 731.8 1062.1 732.4 1062.1 733.0 1062.1 733.6 1062.1 734.3 1062.1 734.9 1062.1 735.5 1062.8 736.1 1062.8 736.8 1062.8 737.4 1062.8 738.0 1062.8 738.6 1062.8 739.3 1062.8 739.9 1062.7 740.5 1062.7 741.1 1062.7 741.8 1062.7 742.4 1062.7 743.0 1062.7 743.6 1062.7 744.3 1060.7 744.9 1060.7 745.5 1060.7 746.1 1060.7 746.8 1060.8 747.4 1060.8 748.0 1060.8 748.6 1065.3 749.3 1065.3 749.9 1065.3 750.5 1065.3 751.1 1065.3 751.8 1065.3 752.4 1065.3 753.0 1063.2 753.6 1063.2 754.3 1063.2 754.9 1063.2 755.5 1063.2 756.1 1063.2 756.8 1063.2 757.4 1061.5 758.0 1061.5 758.6 1061.5 759.2 1061.5 759.9 1061.5 760.5 1061.5 761.1 1061.5 761.7 1063.7 762.4 1063.7 763.0 1063.7 763.6 1063.7 764.2 1063.7 764.9 1063.7 765.5 1063.7 766.1 1064.2 766.7 1064.2 767.4 1064.2 768.0 1064.2 768.6 1064.2 769.2 1064.2 769.9 1064.2 770.5 1061.6 771.1 1061.6 771.7 1061.6 772.4 1061.6 773.0 1061.6 773.6 1061.6 774.2 1061.6 774.9 1061.2 775.5 1061.2 776.1 1061.2 776.7 1061.2 777.4 1061.2 778.0 1061.2 778.6 1061.2 779.2 1063.4 779.9 1063.4 780.5 1063.4 781.1 1063.4 781.7 1063.4 782.4 1063.4 783.0 1063.4 783.6 1062.7 784.2 1062.7 784.9 1062.7 785.5 1062.7 786.1 1062.7 786.7 1062.7 787.4 1062.7 788.0 1063.4 788.6 1063.4 789.2 1063.4 789.9 1063.4 790.5 1063.4 791.1 1063.4 791.7 1063.4 792.4 1064.0 793.0 1064.0 793.6 1064.0 794.2 1064.0 794.9 1064.0 795.5 1064.0 796.1 1064.0 796.7 1062.5 797.4 1062.5 798.0 1062.5 798.6 1062.5 799.2 1062.5 799.9 1062.5 800.5 1062.5 801.1 1062.4 801.7 1062.4 802.4 1062.4 803.0 1062.4 803.6 1062.4 804.2 1062.4 804.9 1062.4 805.5 1063.1 806.1 1063.1 806.7 1063.1 807.3 1063.1 808.0 1063.1 808.6 1063.1 809.2 1063.1 809.8 1064.2 810.5 1064.2 811.1 1064.2 811.7 1062.3 812.3 1061.2 813.0 1060.2 813.6 1059.1 814.2 1057.7 814.8 1057.7 815.5 1057.7 816.1 1057.7 816.7 1057.7 817.3 1057.7 818.0 1057.7 818.6 1058.5 819.2 1058.5 819.8 1058.5 820.5 1058.5 821.1 1058.5 821.7 1058.5 822.3 1058.5 823.0 1058.4 823.6 1058.4 824.2 1058.4 824.8 1058.4 825.5 1058.4 826.1 1058.4 826.7 1058.4 827.3 1057.7 828.0 1057.7 828.6 1057.7 829.2 1057.7 829.8 1057.7 830.5 1057.7 831.1 1057.7 831.7 1057.8 832.3 1057.8 833.0 1057.8 833.6 1057.8 834.2 1057.8 834.8 1057.8 835.5 1057.8 836.1 1059.3 836.7 1059.3 837.3 1059.3 838.0 1059.3 838.6 1059.3 839.2 1059.3 839.8 1059.3 840.5 1057.1 841.1 1057.1 841.7 1057.1 842.3 1057.1 843.0 1057.1 843.6 1057.1 844.2 1058.0 844.8 1116.5 845.5 1122.8 846.1 1129.0 846.7 1135.3 847.3 1141.6 848.0 1147.9 848.6 1147.8 849.2 1147.6 849.8 1147.4 850.5 1147.2 851.1 1147.0 851.7 1146.9 852.3 1146.7 852.9 1146.5 853.6 1146.3 854.2 1146.2 854.8 1147.3 855.4 1148.4 856.1 1149.5 856.7 1150.6 857.3 1151.7 857.9 1153.1 858.6 1154.5 859.2 1155.9 859.8 1157.2 860.4 1158.6 861.1 1160.0 861.7 1161.4 862.3 1162.8 862.9 1374.0 863.6 1374.0 864.2 1374.0 864.8 1374.0 865.4 1374.0 866.1 1374.0 866.7 1374.0 867.3 1374.0 867.9 1374.0 868.6 1374.0 869.2 1374.0 869.8 1374.0 870.4 1374.0 871.1 1374.0 871.7 1374.0 872.3 1374.0 872.9 1374.0 873.6 1374.0 874.2 1374.0 874.8 1374.0 875.4 1374.0 876.1 1374.0 876.7 1374.0 877.3 1374.0 877.9 1374.0 878.6 1374.0 879.2 1374.0 879.8 1374.0 880.4 1374.0 881.1 1374.0 881.7 1374.0 882.3 1374.0 882.9 1374.0 883.6 1374.0 884.2 1374.0 884.8 1374.0 885.4 1374.0 886.1 1374.0 886.7 1374.0 887.3 1374.0 887.9 1374.0 888.6 1374.0 889.2 1374.0 889.8 1374.0 890.4 1374.0 891.1 1374.0 891.7 1374.0 892.3 1374.0 892.9 1374.0 893.6 1374.0 894.2 1374.0 894.8 1374.0 895.4 1374.0 896.1 1374.0 896.7 1374.0 897.3 1374.0 897.9 1374.0 898.5 1374.0 899.2 1374.0 899.8 1374.0 900.4 1374.0 901.0 1374.0 901.7 1374.0 902.3 1374.0 902.9 1374.0 903.5 1374.0 904.2 1374.0 904.8 1374.0 905.4 1374.0 906.0 1374.0 906.7 1374.0 907.3 1374.0 907.9 1374.0 908.5 1374.0 909.2 1374.0 909.8 1374.0 910.4 1374.0 911.0 1374.0 911.7 1374.0 912.3 1374.0 912.9 1374.0 913.5 1374.0 914.2 1374.0 914.8 1374.0 915.4 1374.0 916.0 1374.0 916.7 1374.0 917.3 1374.0 917.9 1374.0 918.5 1374.0 919.2 1374.0 919.8 1374.0 920.4 1374.0 921.0 1374.0 921.7 1374.0 922.3 1374.0 922.9 1374.0 923.5 1374.0 924.2 1374.0 924.8 1374.0 925.4 1374.0 926.0 1374.0 926.7 1374.0 927.3 1374.0 927.9 1374.0 928.5 1374.0 929.2 1374.0 929.8 1374.0 930.4 1374.0 931.0 1374.0 931.7 1374.0 932.3 1374.0 932.9 1374.0 933.5 1374.0 934.2 1374.0 934.8 1374.0 935.4 1374.0 936.0 1374.0 936.7 1374.0 937.3 1374.0 937.9 1374.0 938.5 1374.0 939.2 1374.0 939.8 1374.0 940.4 1374.0 941.0 1374.0 941.7 1374.0 942.3 1374.0 942.9 1374.0 943.5 1374.0 944.2 1374.0 944.8 1374.0 945.4 1374.0 946.0 1374.0 946.6 1374.0 947.3 1374.0 947.9 1374.0 948.5 1374.0 949.1 1374.0 949.8 1374.0 950.4 1374.0 951.0 1374.0 951.6 1374.0 952.3 1374.0 952.9 1374.0 953.5 1374.0 954.1 1374.0 954.8 1374.0 955.4 1374.0 956.0 1374.0 956.6 1374.0 957.3 1374.0 957.9 1374.0 958.5 1374.0 959.1 1374.0 959.8 1374.0 960.4 1374.0 961.0 1374.0 961.6 1374.0 962.3 1374.0 962.9 1374.0 963.5 1374.0 964.1 1374.0 964.8 1374.0 965.4 1374.0 966.0 1374.0 966.6 1374.0 967.3 1374.0 967.9 1374.0 968.5 1374.0 969.1 1374.0 969.8 1374.0 970.4 1374.0 971.0 1374.0 971.6 1374.0 972.3 1374.0 972.9 1374.0 973.5 1374.0 974.1 1374.0 974.8 1374.0 975.4 1374.0 976.0 1374.0 976.6 1374.0 977.3 1374.0 977.9 1374.0 978.5 1374.0 979.1 1374.0 979.8 1374.0 980.4 1374.0 981.0 1374.0 981.6 1374.0 982.3 1374.0 982.9 1374.0 983.5 1374.0 984.1 1374.0 984.8 1374.0 985.4 1374.0 986.0 1374.0 986.6 1374.0 987.3 1374.0 987.9 1374.0 988.5 1374.0 989.1 1374.0 989.8 1374.0 990.4 1374.0 991.0 1374.0 991.6 1374.0 992.2 1374.0 992.9 1374.0 993.5 1374.0 994.1 1374.0 994.7 1374.0 995.4 1374.0 996.0 1374.0 996.6 1374.0 997.2 1374.0 997.9 1177.0 998.5 1176.8 999.1 1176.6 999.7 1176.3 1000.4 1176.1 1001.0 1175.9 1001.6 1175.6 1002.2 1174.6 1002.9 1173.5 1003.5 1172.5 1004.1 1171.4 1004.7 1170.4 1005.4 1169.3 1006.0 1170.3 1006.6 1171.3 1007.2 1172.3 1007.9 1173.3 1008.5 1174.2 1009.1 1175.2 1009.7 1176.2 1010.4 1177.2 1011.0 1178.1 1011.6 1177.7 1012.2 1177.2 1012.9 1176.8 1013.5 1176.3 1014.1 1175.9 1014.7 1175.4 1015.4 1175.0 1016.0 1174.5 1016.6 1174.1 1017.2 1173.7 1017.9 1173.2 1018.5 1172.8 1019.1 1172.3 1019.7 1171.9 1020.4 1167.3 1021.0 1162.8 1021.6 1158.3 1022.2 1154.1 1022.9 1150.0 1023.5 1145.9 1024.1 1141.8 1024.7 1137.7 1025.4 1133.5 1026.0 1129.4 1026.6 1125.3 1027.2 1121.2 1027.9 1117.1 1028.5 1112.9 1029.1 1110.1 1029.7 1107.3 1030.4 1104.5 1031.0 1101.7 1031.6 1098.9 1032.2 1096.1 1032.9 1093.3 1033.5 1091.3 1034.1 1089.3 1034.7 1087.2 1035.4 1085.2 1036.0 1083.2 1036.6 1081.2 1037.2 1079.2 1037.9 1077.2 1038.5 1075.2 1039.1 1073.1 1039.7 1072.6 1040.3 1072.0 1041.0 1071.5 1041.6 1070.8 1042.2 1070.2 1042.8 1069.7 1043.5 1069.1 1044.1 1068.6 1044.7 1068.1 1045.3 1067.5 1046.0 1065.8 1046.6 1065.2 1047.2 1064.7 1047.8 1064.1 1048.5 1063.6 1049.1 1063.6 1049.7 1063.6 1050.3 1064.7 1051.0 1064.7 1051.6 1064.6 1052.2 1064.6 1052.8 1064.6 1053.5 1064.6 1054.1 1064.6 1054.7 1063.8 1055.3 1063.8 1056.0 1063.7 1056.6 1063.7 1057.2 1063.7 1057.8 1063.7 1058.5 1063.7 1059.1 1065.0 1059.7 1065.0 1060.3 1065.0 1061.0 1065.0 1061.6 1065.0 1062.2 1065.0 1062.8 1064.9 1063.5 1064.4 1064.1 1064.3 1064.7 1064.3 1065.3 1064.3 1066.0 1064.3 1066.6 1064.3 1067.2 1064.3 1067.8 1065.2 1068.5 1065.2 1069.1 1065.2 1069.7 1065.1 1070.3 1065.1 1071.0 1065.1 1071.6 1065.1 1072.2 1063.1 1072.8 1063.1 1073.5 1063.1 1074.1 1063.1 1074.7 1063.1 1075.3 1063.1 1076.0 1063.1 1076.6 1064.3 1077.2 1064.3 1077.8 1064.3 1078.5 1064.3 1079.1 1064.3 1079.7 1064.3 1080.3 1064.2 1081.0 1064.8 1081.6 1064.8 1082.2 1064.8 1082.8 1064.8 1083.5 1064.8 1084.1 1064.8 1084.7 1064.8 1085.3 1063.1 1086.0 1063.1 1086.6 1063.1 1087.2 1063.1 1087.8 1063.1 1088.4 1063.1 1089.1 1063.1 1089.7 1063.3 1090.3 1063.3 1090.9 1063.2 1091.6 1063.2 1092.2 1063.2 1092.8 1063.2 1093.4 1063.2 1094.1 1063.5 1094.7 1063.5 1095.3 1063.5 1095.9 1063.4 1096.6 1063.4 1097.2 1063.4 1097.8 1063.4 1098.4 1063.5 1099.1 1063.5 1099.7 1063.5 1100.3 1063.5 1100.9 1063.5 1101.6 1063.4 1102.2 1063.4 1102.8 1063.4 1103.4 1063.4 1104.1 1063.4 1104.7 1063.4 1105.3 1063.4 1105.9 1063.4 1106.6 1063.3 1107.2 1063.3 1107.8 1063.3 1108.4 1063.3 1109.1 1063.3 1109.7 1063.3 1110.3 1063.3 1110.9 1063.3 1111.6 1063.6 1112.2 1063.6 1112.8 1063.6 1113.4 1063.5 1114.1 1063.5 1114.7 1063.5 1115.3 1063.5 1115.9 1063.8 1116.6 1063.8 1117.2 1063.8 1117.8 1063.8 1118.4 1063.8 1119.1 1063.8 1119.7 1063.8 1120.3 1063.0 1120.9 1063.0 1121.6 1063.0 1122.2 1062.9 1122.8 1062.9 1123.4 1062.9 1124.1 1062.9 1124.7 1063.7 1125.3 1063.6 1125.9 1063.6 1126.6 1063.6 1127.2 1063.6 1127.8 1063.6 1128.4 1063.6 1129.1 1061.7 1129.7 1061.7 1130.3 1061.7 1130.9 1061.7 1131.6 1061.6 1132.2 1061.6 1132.8 1061.6 1133.4 1063.0 1134.0 1063.0 1134.7 1063.0 1135.3 1063.0 1135.9 1063.0 1136.5 1062.9 1137.2 1062.9 1137.8 1063.0 1138.4 1063.0 1139.0 1063.0 1139.7 1063.0 1140.3 1063.0 1140.9 1063.0 1141.5 1062.9 1142.2 1064.6 1142.8 1064.6 1143.4 1064.6 1144.0 1064.6 1144.7 1064.6 1145.3 1064.6 1145.9 1064.6 1146.5 1063.2 1147.2 1063.1 1147.8 1063.1 1148.4 1063.1 1149.0 1063.1 1149.7 1063.1 1150.3 1063.1 1150.9 1062.8 1151.5 1062.8 1152.2 1062.8 1152.8 1062.8 1153.4 1062.7 1154.0 1062.7 1154.7 1062.7 1155.3 1064.4 1155.9 1064.4 1156.5 1064.3 1157.2 1064.3 1157.8 1064.3 1158.4 1064.3 1159.0 1064.3 1159.7 1063.1 1160.3 1063.1 1160.9 1063.1 1161.5 1063.1 1162.2 1063.1 1162.8 1063.1 1163.4 1063.0 1164.0 1063.2 1164.7 1063.2 1165.3 1063.1 1165.9 1063.1 1166.5 1063.1 1167.2 1063.1 1167.8 1063.1 1168.4 1062.4 1169.0 1062.4 1169.7 1062.4 1170.3 1062.4 1170.9 1062.4 1171.5 1062.3 1172.2 1062.3 1172.8 1061.4 1173.4 1061.4 1174.0 1061.4 1174.7 1061.4 1175.3 1061.4 1175.9 1061.3 1176.5 1061.3 1177.2 1063.9 1177.8 1063.9 1178.4 1063.9 1179.0 1063.8 1179.7 1063.8 1180.3 1063.8 1180.9 1063.8 1181.5 1061.6 1182.1 1061.5 1182.8 1061.5 1183.4 1061.5 1184.0 1061.5 1184.6 1061.5 1185.3 1061.5 1185.9 1060.8 1186.5 1060.8 1187.1 1060.8 1187.8 1060.8 1188.4 1060.8 1189.0 1060.7 1189.6 1060.7 1190.3 1060.7 1190.9 1060.7 1191.5 1060.7 1192.1 1060.7 1192.8 1060.7 1193.4 1060.7 1194.0 1060.7 1194.6 1061.8 1195.3 1061.8 1195.9 1061.8 1196.5 1061.8 1197.1 1061.7 1197.8 1061.7 1198.4 1061.7 1199.0 1063.2 1199.6 1063.2 1200.3 1063.1 1200.9 1063.1 1201.5 1063.1 1202.1 1063.1 1202.8 1063.1 1203.4 1060.9 1204.0 1060.9 1204.6 1060.9 1205.3 1060.9 1205.9 1060.8 1206.5 1060.8 1207.1 1060.8 1207.8 1061.3 1208.4 1061.3 1209.0 1061.3 1209.6 1061.3 1210.3 1061.2 1210.9 1061.2 1211.5 1061.2 1212.1 1060.7 1212.8 1060.7 1213.4 1060.6 1214.0 1060.6 1214.6 1060.6 1215.3 1060.6 1215.9 1060.6 1216.5 1060.5 1217.1 1060.5 1217.8 1060.5 1218.4 1060.5 1219.0 1060.4 1219.6 1060.4 1220.3 1060.4 1220.9 1061.3 1221.5 1061.3 1222.1 1061.3 1222.8 1061.3 1223.4 1061.2 1224.0 1061.2 1224.6 1061.2 1225.3 1062.4 1225.9 1062.4 1226.5 1062.4" stroke="#8c817c" stroke-width="3.6"/>
</g>
<rect x="249.6" y="634.5" width="975.4" height="101.5" fill="none" stroke="#000" stroke-width="3.4"/>
<line x1="269" y1="685.4" x2="373" y2="685.4" stroke="#b70034" stroke-width="3.2"/>
<line x1="833" y1="685.4" x2="937.8" y2="685.4" stroke="#8c817c" stroke-width="3.2"/>
<rect x="270.2" y="1577.7" width="975.4" height="101.5" fill="none" stroke="#000" stroke-width="3.4"/>
<line x1="289.6" y1="1628.6" x2="393.6" y2="1628.6" stroke="#001f45" stroke-width="3.2"/>
<line x1="853.6" y1="1628.6" x2="958.4" y2="1628.6" stroke="#8c817c" stroke-width="3.2"/>
<g font-family="'Liberation Serif', serif" fill="#000">
<text x="124.46" y="122.90" font-size="64.0" textLength="122.67" lengthAdjust="spacingAndGlyphs">1000</text>
<text x="152.98" y="294.40" font-size="64.0" textLength="94.16" lengthAdjust="spacingAndGlyphs">500</text>
<text x="216.64" y="465.90" font-size="64.0" textLength="30.73" lengthAdjust="spacingAndGlyphs">0</text>
<text x="254.02" y="508.00" font-size="64.0" textLength="30.73" lengthAdjust="spacingAndGlyphs">0</text>
<text x="548.07" y="508.00" font-size="64.0" textLength="63.37" lengthAdjust="spacingAndGlyphs">50</text>
<text x="846.17" y="508.00" font-size="64.0" textLength="93.42" lengthAdjust="spacingAndGlyphs">100</text>
<text x="1158.30" y="508.00" font-size="64.0" textLength="93.30" lengthAdjust="spacingAndGlyphs">150</text>
<text x="610.37" y="595.30" font-size="64.0" textLength="134.69" lengthAdjust="spacingAndGlyphs">Time</text>
<text x="759.95" y="595.30" font-size="64.0" textLength="54.51" lengthAdjust="spacingAndGlyphs">in</text>
<text x="828.34" y="595.30" font-size="64.0" textLength="36.31" lengthAdjust="spacingAndGlyphs">h</text>
<text transform="translate(67.80,416.45) rotate(-90)" x="0" y="0" font-size="64.0" textLength="182.85" lengthAdjust="spacingAndGlyphs">output</text>
<text transform="translate(67.80,218.66) rotate(-90)" x="0" y="0" font-size="64.0" textLength="53.71" lengthAdjust="spacingAndGlyphs">in</text>
<text transform="translate(67.80,150.01) rotate(-90)" x="0" y="0" font-size="64.0" textLength="94.01" lengthAdjust="spacingAndGlyphs">kW</text>
<text x="385.77" y="702.20" font-size="64.0" textLength="135.90" lengthAdjust="spacingAndGlyphs">Time</text>
<text x="534.10" y="702.20" font-size="64.0" textLength="154.18" lengthAdjust="spacingAndGlyphs">series</text>
<text x="701.93" y="702.20" font-size="64.0" textLength="117.71" lengthAdjust="spacingAndGlyphs">data</text>
<text x="948.68" y="702.20" font-size="64.0" textLength="246.98" lengthAdjust="spacingAndGlyphs">Schedule</text>
<text x="145.02" y="1031.60" font-size="64.0" textLength="123.74" lengthAdjust="spacingAndGlyphs">1500</text>
<text x="145.02" y="1157.50" font-size="64.0" textLength="123.74" lengthAdjust="spacingAndGlyphs">1000</text>
<text x="174.58" y="1283.40" font-size="64.0" textLength="94.16" lengthAdjust="spacingAndGlyphs">500</text>
<text x="237.25" y="1409.30" font-size="64.0" textLength="30.73" lengthAdjust="spacingAndGlyphs">0</text>
<text x="273.72" y="1451.20" font-size="64.0" textLength="30.57" lengthAdjust="spacingAndGlyphs">0</text>
<text x="568.63" y="1451.20" font-size="64.0" textLength="63.37" lengthAdjust="spacingAndGlyphs">50</text>
<text x="866.73" y="1451.20" font-size="64.0" textLength="93.52" lengthAdjust="spacingAndGlyphs">100</text>
<text x="1178.96" y="1451.20" font-size="64.0" textLength="93.28" lengthAdjust="spacingAndGlyphs">150</text>
<text x="630.96" y="1538.50" font-size="64.0" textLength="134.72" lengthAdjust="spacingAndGlyphs">Time</text>
<text x="780.54" y="1538.50" font-size="64.0" textLength="53.48" lengthAdjust="spacingAndGlyphs">in</text>
<text x="848.98" y="1538.50" font-size="64.0" textLength="36.25" lengthAdjust="spacingAndGlyphs">h</text>
<text transform="translate(88.40,1359.65) rotate(-90)" x="0" y="0" font-size="64.0" textLength="182.85" lengthAdjust="spacingAndGlyphs">output</text>
<text transform="translate(88.40,1161.87) rotate(-90)" x="0" y="0" font-size="64.0" textLength="53.71" lengthAdjust="spacingAndGlyphs">in</text>
<text transform="translate(88.40,1093.22) rotate(-90)" x="0" y="0" font-size="64.0" textLength="94.02" lengthAdjust="spacingAndGlyphs">kW</text>
<text x="406.36" y="1645.40" font-size="64.0" textLength="135.90" lengthAdjust="spacingAndGlyphs">Time</text>
<text x="554.72" y="1645.40" font-size="64.0" textLength="154.17" lengthAdjust="spacingAndGlyphs">series</text>
<text x="722.52" y="1645.40" font-size="64.0" textLength="117.70" lengthAdjust="spacingAndGlyphs">data</text>
<text x="969.27" y="1645.40" font-size="64.0" textLength="247.01" lengthAdjust="spacingAndGlyphs">Schedule</text>
<text x="99.77" y="845.00" font-size="78.5" textLength="82.43" lengthAdjust="spacingAndGlyphs">(<tspan font-weight="bold">a</tspan>)</text>
<text x="202.35" y="845.00" font-size="78.5" textLength="241.66" lengthAdjust="spacingAndGlyphs">Output</text>
<text x="463.64" y="845.00" font-size="78.5" textLength="66.79" lengthAdjust="spacingAndGlyphs">of</text>
<text x="546.94" y="845.00" font-size="78.5" textLength="290.87" lengthAdjust="spacingAndGlyphs">gas-fired</text>
<text x="857.54" y="845.00" font-size="78.5" textLength="318.47" lengthAdjust="spacingAndGlyphs">generator</text>
<text x="169.40" y="1789.00" font-size="78.5" textLength="90.81" lengthAdjust="spacingAndGlyphs">(<tspan font-weight="bold">b</tspan>)</text>
<text x="278.74" y="1789.00" font-size="78.5" textLength="242.28" lengthAdjust="spacingAndGlyphs">Output</text>
<text x="541.69" y="1789.00" font-size="78.5" textLength="66.74" lengthAdjust="spacingAndGlyphs">of</text>
<text x="618.39" y="1789.00" font-size="78.5" textLength="149.81" lengthAdjust="spacingAndGlyphs">heat</text>
<text x="785.15" y="1789.00" font-size="78.5" textLength="340.66" lengthAdjust="spacingAndGlyphs">exchanger</text>
</g>
</svg>
</body></html>
